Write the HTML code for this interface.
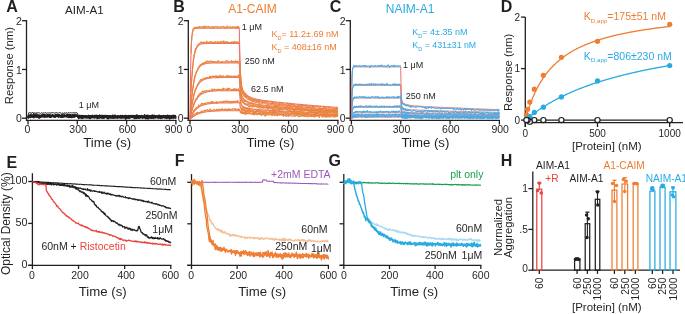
<!DOCTYPE html>
<html><head><meta charset="utf-8"><style>
html,body{margin:0;padding:0;background:#fff;}
body{width:685px;height:314px;overflow:hidden;}
svg{display:block;will-change:transform;font-family:'Liberation Sans',sans-serif;}
</style></head><body>
<svg width="685" height="314" viewBox="0 0 685 314" style="font-family:'Liberation Sans',sans-serif">
<rect width="685" height="314" fill="#fff"/>
<text x="6.20" y="12.10" font-size="16" fill="#231F20" text-anchor="start" font-weight="bold" >A</text>
<text x="173.30" y="12.10" font-size="16" fill="#231F20" text-anchor="start" font-weight="bold" >B</text>
<text x="329.80" y="12.10" font-size="16" fill="#231F20" text-anchor="start" font-weight="bold" >C</text>
<text x="500.80" y="12.10" font-size="16" fill="#231F20" text-anchor="start" font-weight="bold" >D</text>
<text x="6.60" y="167.90" font-size="16" fill="#231F20" text-anchor="start" font-weight="bold" >E</text>
<text x="174.70" y="166.20" font-size="16" fill="#231F20" text-anchor="start" font-weight="bold" >F</text>
<text x="328.40" y="166.20" font-size="16" fill="#231F20" text-anchor="start" font-weight="bold" >G</text>
<text x="500.80" y="166.20" font-size="16" fill="#231F20" text-anchor="start" font-weight="bold" >H</text>
<text x="65.00" y="13.60" font-size="11.6" fill="#231F20" text-anchor="start" font-weight="normal" >AIM-A1</text>
<text x="228.20" y="13.30" font-size="12" fill="#EF7D33" text-anchor="start" font-weight="normal" >A1-CAIM</text>
<text x="385.80" y="13.40" font-size="12" fill="#29ABE2" text-anchor="start" font-weight="normal" >NAIM-A1</text>
<line x1="26.50" y1="20.05" x2="26.50" y2="120.90" stroke="#231F20" stroke-width="1.3"/>
<line x1="22.00" y1="118.20" x2="26.50" y2="118.20" stroke="#231F20" stroke-width="1.3"/>
<text x="21.90" y="122.40" font-size="10.5" fill="#231F20" text-anchor="end" font-weight="normal" >0</text>
<line x1="22.00" y1="69.45" x2="26.50" y2="69.45" stroke="#231F20" stroke-width="1.3"/>
<text x="21.90" y="73.65" font-size="10.5" fill="#231F20" text-anchor="end" font-weight="normal" >1</text>
<line x1="22.00" y1="20.70" x2="26.50" y2="20.70" stroke="#231F20" stroke-width="1.3"/>
<text x="21.90" y="24.90" font-size="10.5" fill="#231F20" text-anchor="end" font-weight="normal" >2</text>
<line x1="25.90" y1="120.30" x2="176.50" y2="120.30" stroke="#231F20" stroke-width="1.3"/>
<line x1="28.00" y1="120.30" x2="28.00" y2="124.60" stroke="#231F20" stroke-width="1.3"/>
<text x="27.50" y="133.40" font-size="10.5" fill="#231F20" text-anchor="middle" font-weight="normal" >0</text>
<line x1="77.30" y1="120.30" x2="77.30" y2="124.60" stroke="#231F20" stroke-width="1.3"/>
<text x="78.10" y="133.40" font-size="10.5" fill="#231F20" text-anchor="middle" font-weight="normal" >300</text>
<line x1="126.60" y1="120.30" x2="126.60" y2="124.60" stroke="#231F20" stroke-width="1.3"/>
<text x="127.40" y="133.40" font-size="10.5" fill="#231F20" text-anchor="middle" font-weight="normal" >600</text>
<line x1="175.90" y1="120.30" x2="175.90" y2="124.60" stroke="#231F20" stroke-width="1.3"/>
<text x="173.50" y="133.40" font-size="10.5" fill="#231F20" text-anchor="middle" font-weight="normal" >900</text>
<text x="83.30" y="146.50" font-size="13.2" fill="#231F20" text-anchor="start" font-weight="normal" >Time (s)</text>
<line x1="188.30" y1="20.05" x2="188.30" y2="120.90" stroke="#231F20" stroke-width="1.3"/>
<line x1="183.80" y1="118.20" x2="188.30" y2="118.20" stroke="#231F20" stroke-width="1.3"/>
<text x="183.70" y="122.40" font-size="10.5" fill="#231F20" text-anchor="end" font-weight="normal" >0</text>
<line x1="183.80" y1="69.45" x2="188.30" y2="69.45" stroke="#231F20" stroke-width="1.3"/>
<text x="183.70" y="73.65" font-size="10.5" fill="#231F20" text-anchor="end" font-weight="normal" >1</text>
<line x1="183.80" y1="20.70" x2="188.30" y2="20.70" stroke="#231F20" stroke-width="1.3"/>
<text x="183.70" y="24.90" font-size="10.5" fill="#231F20" text-anchor="end" font-weight="normal" >2</text>
<line x1="187.70" y1="120.30" x2="338.50" y2="120.30" stroke="#231F20" stroke-width="1.3"/>
<line x1="190.00" y1="120.30" x2="190.00" y2="124.60" stroke="#231F20" stroke-width="1.3"/>
<text x="189.50" y="133.40" font-size="10.5" fill="#231F20" text-anchor="middle" font-weight="normal" >0</text>
<line x1="239.30" y1="120.30" x2="239.30" y2="124.60" stroke="#231F20" stroke-width="1.3"/>
<text x="240.10" y="133.40" font-size="10.5" fill="#231F20" text-anchor="middle" font-weight="normal" >300</text>
<line x1="288.60" y1="120.30" x2="288.60" y2="124.60" stroke="#231F20" stroke-width="1.3"/>
<text x="289.40" y="133.40" font-size="10.5" fill="#231F20" text-anchor="middle" font-weight="normal" >600</text>
<line x1="337.90" y1="120.30" x2="337.90" y2="124.60" stroke="#231F20" stroke-width="1.3"/>
<text x="335.50" y="133.40" font-size="10.5" fill="#231F20" text-anchor="middle" font-weight="normal" >900</text>
<text x="246.50" y="146.50" font-size="13.2" fill="#231F20" text-anchor="start" font-weight="normal" >Time (s)</text>
<line x1="350.30" y1="20.05" x2="350.30" y2="120.90" stroke="#231F20" stroke-width="1.3"/>
<line x1="345.80" y1="118.20" x2="350.30" y2="118.20" stroke="#231F20" stroke-width="1.3"/>
<text x="345.70" y="122.40" font-size="10.5" fill="#231F20" text-anchor="end" font-weight="normal" >0</text>
<line x1="345.80" y1="69.45" x2="350.30" y2="69.45" stroke="#231F20" stroke-width="1.3"/>
<text x="345.70" y="73.65" font-size="10.5" fill="#231F20" text-anchor="end" font-weight="normal" >1</text>
<line x1="345.80" y1="20.70" x2="350.30" y2="20.70" stroke="#231F20" stroke-width="1.3"/>
<text x="345.70" y="24.90" font-size="10.5" fill="#231F20" text-anchor="end" font-weight="normal" >2</text>
<line x1="349.70" y1="120.30" x2="500.00" y2="120.30" stroke="#231F20" stroke-width="1.3"/>
<line x1="351.40" y1="120.30" x2="351.40" y2="124.60" stroke="#231F20" stroke-width="1.3"/>
<text x="350.90" y="133.40" font-size="10.5" fill="#231F20" text-anchor="middle" font-weight="normal" >0</text>
<line x1="400.73" y1="120.30" x2="400.73" y2="124.60" stroke="#231F20" stroke-width="1.3"/>
<text x="401.53" y="133.40" font-size="10.5" fill="#231F20" text-anchor="middle" font-weight="normal" >300</text>
<line x1="450.07" y1="120.30" x2="450.07" y2="124.60" stroke="#231F20" stroke-width="1.3"/>
<text x="450.87" y="133.40" font-size="10.5" fill="#231F20" text-anchor="middle" font-weight="normal" >600</text>
<line x1="499.40" y1="120.30" x2="499.40" y2="124.60" stroke="#231F20" stroke-width="1.3"/>
<text x="500.20" y="133.40" font-size="10.5" fill="#231F20" text-anchor="middle" font-weight="normal" >900</text>
<text x="401.50" y="146.50" font-size="13.2" fill="#231F20" text-anchor="start" font-weight="normal" >Time (s)</text>
<text x="0" y="0" font-size="11.3" fill="#231F20" text-anchor="middle" transform="translate(12.80,65.60) rotate(-90)">Response (nm)</text>
<text x="0" y="0" font-size="11.3" fill="#231F20" text-anchor="middle" transform="translate(512.40,72.40) rotate(-90)">Response (nm)</text>
<path d="M190.0,119.4L190.2,99.2L190.4,83.5L190.6,71.3L190.8,61.8L191.0,54.4L191.2,48.6L191.4,44.1L191.6,40.6L191.8,37.8L192.1,35.7L192.3,34.1L192.5,32.8L192.7,31.8L192.9,31.0L193.1,30.4L193.3,29.9L193.5,29.5L193.7,29.3L193.9,29.0L194.1,28.9L194.3,28.7L194.5,28.6L194.7,28.5L194.9,28.5L195.3,28.4L195.7,28.3L196.2,28.3L196.6,28.3L197.0,28.3L197.4,28.2L197.8,28.2L198.2,28.2L198.6,28.2L199.0,28.2L199.4,28.2L199.8,28.2L200.2,28.2L200.6,28.2L201.0,28.2L201.4,28.2L201.9,28.2L202.3,28.2L202.7,28.2L203.1,28.2L203.5,28.2L203.9,28.2L204.3,28.2L204.7,28.2L205.1,28.2L205.5,28.2L205.9,28.2L206.3,28.2L206.7,28.2L207.1,28.2L207.5,28.2L208.0,28.2L208.4,28.2L208.8,28.2L209.2,28.2L209.6,28.2L210.0,28.2L210.4,28.2L210.8,28.2L211.2,28.2L211.6,28.2L212.0,28.2L212.4,28.2L212.8,28.2L213.2,28.2L213.7,28.2L214.1,28.2L214.5,28.2L214.9,28.2L215.3,28.2L215.7,28.2L216.1,28.2L216.5,28.2L216.9,28.2L217.3,28.2L217.7,28.2L218.1,28.2L218.5,28.2L218.9,28.2L219.4,28.2L219.8,28.2L220.2,28.2L220.6,28.2L221.0,28.2L221.4,28.2L221.8,28.2L222.2,28.2L222.6,28.2L223.0,28.2L223.4,28.2L223.8,28.2L224.2,28.2L224.6,28.2L225.1,28.2L225.5,28.2L225.9,28.2L226.3,28.2L226.7,28.2L227.1,28.2L227.5,28.2L227.9,28.2L228.3,28.2L228.7,28.2L229.1,28.2L229.5,28.2L229.9,28.2L230.3,28.2L230.8,28.2L231.2,28.2L231.6,28.2L232.0,28.2L232.4,28.2L232.8,28.2L233.2,28.2L233.6,28.2L234.0,28.2L234.4,28.2L234.8,28.2L235.2,28.2L235.6,28.2L236.0,28.2L236.5,28.2L236.9,28.2L237.3,28.2L237.7,28.2L238.1,28.2L238.5,28.2L238.9,28.2L239.3,28.2L239.5,40.6L239.8,51.7L240.0,60.3L240.2,66.9L240.4,72.0L240.7,76.0L240.9,79.1L241.1,81.6L241.3,83.5L241.6,85.1L241.8,86.4L242.0,87.4L242.2,88.3L242.5,89.0L242.7,89.7L242.9,90.2L243.2,90.7L243.4,91.1L243.6,91.5L243.8,91.9L244.1,92.2L244.3,92.5L244.5,92.8L244.7,93.1L245.0,93.3L245.2,93.6L245.4,93.8L245.6,94.0L245.9,94.2L246.5,94.7L247.0,95.2L247.6,95.6L248.2,96.0L248.8,96.3L249.3,96.6L249.9,96.9L250.5,97.2L251.1,97.5L251.7,97.7L252.2,97.9L252.8,98.1L253.4,98.3L254.0,98.5L254.6,98.7L255.1,98.8L255.7,99.0L256.3,99.1L256.9,99.2L257.4,99.4L258.0,99.5L258.6,99.6L259.2,99.7L259.8,99.8L260.3,99.9L260.9,100.0L261.5,100.1L262.1,100.2L262.7,100.3L263.2,100.4L263.8,100.5L264.4,100.6L265.0,100.6L265.6,100.7L266.1,100.8L266.7,100.9L267.3,101.0L267.9,101.0L268.4,101.1L269.0,101.2L269.6,101.3L270.2,101.3L270.8,101.4L271.3,101.5L271.9,101.5L272.5,101.6L273.1,101.7L273.7,101.7L274.2,101.8L274.8,101.9L275.4,101.9L276.0,102.0L276.5,102.1L277.1,102.1L277.7,102.2L278.3,102.3L278.9,102.3L279.4,102.4L280.0,102.4L280.6,102.5L281.2,102.6L281.8,102.6L282.3,102.7L282.9,102.7L283.5,102.8L284.1,102.9L284.7,102.9L285.2,103.0L285.8,103.0L286.4,103.1L287.0,103.2L287.5,103.2L288.1,103.3L288.7,103.3L289.3,103.4L289.9,103.4L290.4,103.5L291.0,103.6L291.6,103.6L292.2,103.7L292.8,103.7L293.3,103.8L293.9,103.8L294.5,103.9L295.1,104.0L295.6,104.0L296.2,104.1L296.8,104.1L297.4,104.2L298.0,104.2L298.5,104.3L299.1,104.3L299.7,104.4L300.3,104.4L300.9,104.5L301.4,104.5L302.0,104.6L302.6,104.6L303.2,104.7L303.8,104.8L304.3,104.8L304.9,104.9L305.5,104.9L306.1,105.0L306.6,105.0L307.2,105.1L307.8,105.1L308.4,105.2L309.0,105.2L309.5,105.3L310.1,105.3L310.7,105.4L311.3,105.4L311.9,105.5L312.4,105.5L313.0,105.5L313.6,105.6L314.2,105.6L314.7,105.7L315.3,105.7L315.9,105.8L316.5,105.8L317.1,105.9L317.6,105.9L318.2,106.0L318.8,106.0L319.4,106.1L320.0,106.1L320.5,106.2L321.1,106.2L321.7,106.3L322.3,106.3L322.9,106.3L323.4,106.4L324.0,106.4L324.6,106.5L325.2,106.5L325.7,106.6L326.3,106.6L326.9,106.7L327.5,106.7L328.1,106.7L328.6,106.8L329.2,106.8L329.8,106.9L330.4,106.9L331.0,107.0L331.5,107.0L332.1,107.0L332.7,107.1L333.3,107.1L333.8,107.2L334.4,107.2L335.0,107.2L335.6,107.3L336.2,107.3L336.7,107.4L337.3,107.4L337.9,107.5" fill="none" stroke="#F2716A" stroke-width="1.1" stroke-linejoin="round" />
<path d="M190.0,119.4L190.2,113.0L190.4,107.2L190.6,101.8L190.8,96.9L191.0,92.5L191.2,88.3L191.4,84.6L191.6,81.1L191.8,78.0L192.1,75.1L192.3,72.4L192.5,70.0L192.7,67.7L192.9,65.7L193.1,63.8L193.3,62.1L193.5,60.5L193.7,59.1L193.9,57.8L194.1,56.6L194.3,55.5L194.5,54.4L194.7,53.5L194.9,52.7L195.3,51.2L195.7,49.9L196.2,48.9L196.6,48.0L197.0,47.3L197.4,46.6L197.8,46.1L198.2,45.7L198.6,45.3L199.0,45.0L199.4,44.7L199.8,44.5L200.2,44.3L200.6,44.2L201.0,44.0L201.4,43.9L201.9,43.8L202.3,43.8L202.7,43.7L203.1,43.6L203.5,43.6L203.9,43.6L204.3,43.5L204.7,43.5L205.1,43.5L205.5,43.5L205.9,43.4L206.3,43.4L206.7,43.4L207.1,43.4L207.5,43.4L208.0,43.4L208.4,43.4L208.8,43.4L209.2,43.4L209.6,43.4L210.0,43.4L210.4,43.4L210.8,43.4L211.2,43.4L211.6,43.4L212.0,43.4L212.4,43.4L212.8,43.4L213.2,43.4L213.7,43.4L214.1,43.4L214.5,43.4L214.9,43.4L215.3,43.4L215.7,43.4L216.1,43.4L216.5,43.4L216.9,43.4L217.3,43.4L217.7,43.4L218.1,43.4L218.5,43.4L218.9,43.4L219.4,43.4L219.8,43.4L220.2,43.4L220.6,43.4L221.0,43.4L221.4,43.4L221.8,43.4L222.2,43.4L222.6,43.4L223.0,43.4L223.4,43.4L223.8,43.4L224.2,43.4L224.6,43.4L225.1,43.4L225.5,43.4L225.9,43.4L226.3,43.4L226.7,43.4L227.1,43.4L227.5,43.4L227.9,43.4L228.3,43.4L228.7,43.4L229.1,43.4L229.5,43.4L229.9,43.4L230.3,43.4L230.8,43.4L231.2,43.4L231.6,43.4L232.0,43.4L232.4,43.4L232.8,43.4L233.2,43.4L233.6,43.4L234.0,43.4L234.4,43.4L234.8,43.4L235.2,43.4L235.6,43.4L236.0,43.4L236.5,43.4L236.9,43.4L237.3,43.4L237.7,43.4L238.1,43.4L238.5,43.4L238.9,43.4L239.3,43.4L239.5,52.9L239.8,61.9L240.0,68.8L240.2,74.1L240.4,78.2L240.7,81.4L240.9,84.0L241.1,86.0L241.3,87.6L241.6,88.9L241.8,89.9L242.0,90.8L242.2,91.5L242.5,92.1L242.7,92.6L242.9,93.1L243.2,93.5L243.4,93.9L243.6,94.2L243.8,94.5L244.1,94.8L244.3,95.1L244.5,95.3L244.7,95.6L245.0,95.8L245.2,96.0L245.4,96.2L245.6,96.4L245.9,96.6L246.5,97.0L247.0,97.4L247.6,97.8L248.2,98.1L248.8,98.4L249.3,98.7L249.9,99.0L250.5,99.2L251.1,99.5L251.7,99.7L252.2,99.9L252.8,100.1L253.4,100.3L254.0,100.4L254.6,100.6L255.1,100.8L255.7,100.9L256.3,101.0L256.9,101.2L257.4,101.3L258.0,101.4L258.6,101.5L259.2,101.6L259.8,101.8L260.3,101.9L260.9,102.0L261.5,102.1L262.1,102.2L262.7,102.3L263.2,102.4L263.8,102.4L264.4,102.5L265.0,102.6L265.6,102.7L266.1,102.8L266.7,102.9L267.3,103.0L267.9,103.0L268.4,103.1L269.0,103.2L269.6,103.3L270.2,103.3L270.8,103.4L271.3,103.5L271.9,103.6L272.5,103.6L273.1,103.7L273.7,103.8L274.2,103.9L274.8,103.9L275.4,104.0L276.0,104.1L276.5,104.1L277.1,104.2L277.7,104.3L278.3,104.3L278.9,104.4L279.4,104.5L280.0,104.5L280.6,104.6L281.2,104.7L281.8,104.7L282.3,104.8L282.9,104.9L283.5,104.9L284.1,105.0L284.7,105.1L285.2,105.1L285.8,105.2L286.4,105.3L287.0,105.3L287.5,105.4L288.1,105.4L288.7,105.5L289.3,105.6L289.9,105.6L290.4,105.7L291.0,105.7L291.6,105.8L292.2,105.9L292.8,105.9L293.3,106.0L293.9,106.0L294.5,106.1L295.1,106.2L295.6,106.2L296.2,106.3L296.8,106.3L297.4,106.4L298.0,106.4L298.5,106.5L299.1,106.6L299.7,106.6L300.3,106.7L300.9,106.7L301.4,106.8L302.0,106.8L302.6,106.9L303.2,106.9L303.8,107.0L304.3,107.0L304.9,107.1L305.5,107.1L306.1,107.2L306.6,107.2L307.2,107.3L307.8,107.4L308.4,107.4L309.0,107.5L309.5,107.5L310.1,107.6L310.7,107.6L311.3,107.7L311.9,107.7L312.4,107.8L313.0,107.8L313.6,107.9L314.2,107.9L314.7,107.9L315.3,108.0L315.9,108.0L316.5,108.1L317.1,108.1L317.6,108.2L318.2,108.2L318.8,108.3L319.4,108.3L320.0,108.4L320.5,108.4L321.1,108.5L321.7,108.5L322.3,108.6L322.9,108.6L323.4,108.6L324.0,108.7L324.6,108.7L325.2,108.8L325.7,108.8L326.3,108.9L326.9,108.9L327.5,109.0L328.1,109.0L328.6,109.0L329.2,109.1L329.8,109.1L330.4,109.2L331.0,109.2L331.5,109.3L332.1,109.3L332.7,109.3L333.3,109.4L333.8,109.4L334.4,109.5L335.0,109.5L335.6,109.5L336.2,109.6L336.7,109.6L337.3,109.7L337.9,109.7" fill="none" stroke="#F2716A" stroke-width="1.1" stroke-linejoin="round" />
<path d="M190.0,119.4L190.2,116.3L190.4,113.4L190.6,110.6L190.8,108.0L191.0,105.5L191.2,103.2L191.4,101.0L191.6,98.9L191.8,96.9L192.1,95.1L192.3,93.3L192.5,91.6L192.7,90.1L192.9,88.6L193.1,87.2L193.3,85.8L193.5,84.6L193.7,83.4L193.9,82.3L194.1,81.2L194.3,80.2L194.5,79.3L194.7,78.4L194.9,77.5L195.3,76.0L195.7,74.6L196.2,73.3L196.6,72.2L197.0,71.2L197.4,70.4L197.8,69.6L198.2,68.9L198.6,68.2L199.0,67.7L199.4,67.2L199.8,66.7L200.2,66.3L200.6,65.9L201.0,65.6L201.4,65.3L201.9,65.1L202.3,64.8L202.7,64.6L203.1,64.4L203.5,64.3L203.9,64.1L204.3,64.0L204.7,63.9L205.1,63.8L205.5,63.7L205.9,63.6L206.3,63.5L206.7,63.4L207.1,63.4L207.5,63.3L208.0,63.3L208.4,63.2L208.8,63.2L209.2,63.1L209.6,63.1L210.0,63.1L210.4,63.1L210.8,63.0L211.2,63.0L211.6,63.0L212.0,63.0L212.4,63.0L212.8,63.0L213.2,62.9L213.7,62.9L214.1,62.9L214.5,62.9L214.9,62.9L215.3,62.9L215.7,62.9L216.1,62.9L216.5,62.9L216.9,62.9L217.3,62.9L217.7,62.9L218.1,62.9L218.5,62.9L218.9,62.9L219.4,62.9L219.8,62.9L220.2,62.9L220.6,62.9L221.0,62.9L221.4,62.9L221.8,62.9L222.2,62.9L222.6,62.9L223.0,62.9L223.4,62.9L223.8,62.9L224.2,62.9L224.6,62.9L225.1,62.9L225.5,62.9L225.9,62.9L226.3,62.9L226.7,62.9L227.1,62.9L227.5,62.9L227.9,62.9L228.3,62.9L228.7,62.9L229.1,62.9L229.5,62.9L229.9,62.9L230.3,62.9L230.8,62.9L231.2,62.9L231.6,62.9L232.0,62.9L232.4,62.9L232.8,62.9L233.2,62.9L233.6,62.9L234.0,62.9L234.4,62.9L234.8,62.9L235.2,62.9L235.6,62.9L236.0,62.9L236.5,62.9L236.9,62.9L237.3,62.9L237.7,62.9L238.1,62.9L238.5,62.9L238.9,62.9L239.3,62.9L239.5,69.1L239.8,75.5L240.0,80.5L240.2,84.3L240.4,87.3L240.7,89.6L240.9,91.4L241.1,92.9L241.3,94.0L241.6,95.0L241.8,95.7L242.0,96.4L242.2,96.9L242.5,97.3L242.7,97.7L242.9,98.1L243.2,98.4L243.4,98.7L243.6,98.9L243.8,99.1L244.1,99.3L244.3,99.5L244.5,99.7L244.7,99.9L245.0,100.1L245.2,100.2L245.4,100.4L245.6,100.5L245.9,100.7L246.5,101.0L247.0,101.3L247.6,101.6L248.2,101.8L248.8,102.1L249.3,102.3L249.9,102.5L250.5,102.7L251.1,102.9L251.7,103.0L252.2,103.2L252.8,103.4L253.4,103.5L254.0,103.6L254.6,103.7L255.1,103.9L255.7,104.0L256.3,104.1L256.9,104.2L257.4,104.3L258.0,104.4L258.6,104.5L259.2,104.6L259.8,104.7L260.3,104.7L260.9,104.8L261.5,104.9L262.1,105.0L262.7,105.1L263.2,105.1L263.8,105.2L264.4,105.3L265.0,105.3L265.6,105.4L266.1,105.5L266.7,105.5L267.3,105.6L267.9,105.7L268.4,105.7L269.0,105.8L269.6,105.9L270.2,105.9L270.8,106.0L271.3,106.0L271.9,106.1L272.5,106.2L273.1,106.2L273.7,106.3L274.2,106.3L274.8,106.4L275.4,106.5L276.0,106.5L276.5,106.6L277.1,106.6L277.7,106.7L278.3,106.7L278.9,106.8L279.4,106.8L280.0,106.9L280.6,107.0L281.2,107.0L281.8,107.1L282.3,107.1L282.9,107.2L283.5,107.2L284.1,107.3L284.7,107.3L285.2,107.4L285.8,107.4L286.4,107.5L287.0,107.5L287.5,107.6L288.1,107.6L288.7,107.7L289.3,107.7L289.9,107.8L290.4,107.8L291.0,107.9L291.6,107.9L292.2,108.0L292.8,108.0L293.3,108.1L293.9,108.1L294.5,108.2L295.1,108.2L295.6,108.3L296.2,108.3L296.8,108.3L297.4,108.4L298.0,108.4L298.5,108.5L299.1,108.5L299.7,108.6L300.3,108.6L300.9,108.7L301.4,108.7L302.0,108.7L302.6,108.8L303.2,108.8L303.8,108.9L304.3,108.9L304.9,109.0L305.5,109.0L306.1,109.0L306.6,109.1L307.2,109.1L307.8,109.2L308.4,109.2L309.0,109.3L309.5,109.3L310.1,109.3L310.7,109.4L311.3,109.4L311.9,109.5L312.4,109.5L313.0,109.5L313.6,109.6L314.2,109.6L314.7,109.7L315.3,109.7L315.9,109.7L316.5,109.8L317.1,109.8L317.6,109.9L318.2,109.9L318.8,109.9L319.4,110.0L320.0,110.0L320.5,110.0L321.1,110.1L321.7,110.1L322.3,110.2L322.9,110.2L323.4,110.2L324.0,110.3L324.6,110.3L325.2,110.3L325.7,110.4L326.3,110.4L326.9,110.4L327.5,110.5L328.1,110.5L328.6,110.5L329.2,110.6L329.8,110.6L330.4,110.7L331.0,110.7L331.5,110.7L332.1,110.8L332.7,110.8L333.3,110.8L333.8,110.9L334.4,110.9L335.0,110.9L335.6,111.0L336.2,111.0L336.7,111.0L337.3,111.0L337.9,111.1" fill="none" stroke="#F2716A" stroke-width="1.1" stroke-linejoin="round" />
<path d="M190.0,119.4L190.2,117.6L190.4,115.9L190.6,114.2L190.8,112.7L191.0,111.2L191.2,109.7L191.4,108.3L191.6,107.0L191.8,105.8L192.1,104.5L192.3,103.4L192.5,102.3L192.7,101.2L192.9,100.2L193.1,99.2L193.3,98.3L193.5,97.4L193.7,96.6L193.9,95.7L194.1,95.0L194.3,94.2L194.5,93.5L194.7,92.8L194.9,92.1L195.3,90.9L195.7,89.8L196.2,88.8L196.6,87.8L197.0,87.0L197.4,86.2L197.8,85.5L198.2,84.8L198.6,84.2L199.0,83.6L199.4,83.1L199.8,82.7L200.2,82.2L200.6,81.8L201.0,81.5L201.4,81.1L201.9,80.8L202.3,80.6L202.7,80.3L203.1,80.1L203.5,79.9L203.9,79.7L204.3,79.5L204.7,79.3L205.1,79.2L205.5,79.0L205.9,78.9L206.3,78.8L206.7,78.7L207.1,78.6L207.5,78.5L208.0,78.4L208.4,78.3L208.8,78.2L209.2,78.2L209.6,78.1L210.0,78.1L210.4,78.0L210.8,78.0L211.2,77.9L211.6,77.9L212.0,77.9L212.4,77.8L212.8,77.8L213.2,77.8L213.7,77.7L214.1,77.7L214.5,77.7L214.9,77.7L215.3,77.7L215.7,77.7L216.1,77.6L216.5,77.6L216.9,77.6L217.3,77.6L217.7,77.6L218.1,77.6L218.5,77.6L218.9,77.6L219.4,77.6L219.8,77.5L220.2,77.5L220.6,77.5L221.0,77.5L221.4,77.5L221.8,77.5L222.2,77.5L222.6,77.5L223.0,77.5L223.4,77.5L223.8,77.5L224.2,77.5L224.6,77.5L225.1,77.5L225.5,77.5L225.9,77.5L226.3,77.5L226.7,77.5L227.1,77.5L227.5,77.5L227.9,77.5L228.3,77.5L228.7,77.5L229.1,77.5L229.5,77.5L229.9,77.5L230.3,77.5L230.8,77.5L231.2,77.5L231.6,77.5L232.0,77.5L232.4,77.5L232.8,77.5L233.2,77.5L233.6,77.5L234.0,77.5L234.4,77.5L234.8,77.5L235.2,77.5L235.6,77.5L236.0,77.5L236.5,77.5L236.9,77.5L237.3,77.5L237.7,77.5L238.1,77.5L238.5,77.5L238.9,77.5L239.3,77.5L239.5,81.3L239.8,85.8L240.0,89.3L240.2,92.0L240.4,94.1L240.7,95.7L240.9,97.0L241.1,98.0L241.3,98.8L241.6,99.5L241.8,100.1L242.0,100.5L242.2,100.9L242.5,101.2L242.7,101.5L242.9,101.7L243.2,102.0L243.4,102.2L243.6,102.4L243.8,102.5L244.1,102.7L244.3,102.8L244.5,103.0L244.7,103.1L245.0,103.2L245.2,103.3L245.4,103.4L245.6,103.6L245.9,103.7L246.5,103.9L247.0,104.1L247.6,104.4L248.2,104.5L248.8,104.7L249.3,104.9L249.9,105.0L250.5,105.2L251.1,105.3L251.7,105.5L252.2,105.6L252.8,105.7L253.4,105.8L254.0,105.9L254.6,106.0L255.1,106.1L255.7,106.2L256.3,106.3L256.9,106.3L257.4,106.4L258.0,106.5L258.6,106.6L259.2,106.6L259.8,106.7L260.3,106.8L260.9,106.8L261.5,106.9L262.1,106.9L262.7,107.0L263.2,107.1L263.8,107.1L264.4,107.2L265.0,107.2L265.6,107.3L266.1,107.3L266.7,107.4L267.3,107.4L267.9,107.5L268.4,107.5L269.0,107.6L269.6,107.6L270.2,107.7L270.8,107.7L271.3,107.8L271.9,107.8L272.5,107.9L273.1,107.9L273.7,108.0L274.2,108.0L274.8,108.1L275.4,108.1L276.0,108.2L276.5,108.2L277.1,108.2L277.7,108.3L278.3,108.3L278.9,108.4L279.4,108.4L280.0,108.5L280.6,108.5L281.2,108.6L281.8,108.6L282.3,108.6L282.9,108.7L283.5,108.7L284.1,108.8L284.7,108.8L285.2,108.8L285.8,108.9L286.4,108.9L287.0,109.0L287.5,109.0L288.1,109.0L288.7,109.1L289.3,109.1L289.9,109.2L290.4,109.2L291.0,109.2L291.6,109.3L292.2,109.3L292.8,109.4L293.3,109.4L293.9,109.4L294.5,109.5L295.1,109.5L295.6,109.5L296.2,109.6L296.8,109.6L297.4,109.7L298.0,109.7L298.5,109.7L299.1,109.8L299.7,109.8L300.3,109.8L300.9,109.9L301.4,109.9L302.0,109.9L302.6,110.0L303.2,110.0L303.8,110.1L304.3,110.1L304.9,110.1L305.5,110.2L306.1,110.2L306.6,110.2L307.2,110.3L307.8,110.3L308.4,110.3L309.0,110.4L309.5,110.4L310.1,110.4L310.7,110.5L311.3,110.5L311.9,110.5L312.4,110.6L313.0,110.6L313.6,110.6L314.2,110.7L314.7,110.7L315.3,110.7L315.9,110.8L316.5,110.8L317.1,110.8L317.6,110.8L318.2,110.9L318.8,110.9L319.4,110.9L320.0,111.0L320.5,111.0L321.1,111.0L321.7,111.1L322.3,111.1L322.9,111.1L323.4,111.2L324.0,111.2L324.6,111.2L325.2,111.2L325.7,111.3L326.3,111.3L326.9,111.3L327.5,111.4L328.1,111.4L328.6,111.4L329.2,111.4L329.8,111.5L330.4,111.5L331.0,111.5L331.5,111.6L332.1,111.6L332.7,111.6L333.3,111.6L333.8,111.7L334.4,111.7L335.0,111.7L335.6,111.7L336.2,111.8L336.7,111.8L337.3,111.8L337.9,111.8" fill="none" stroke="#F2716A" stroke-width="1.1" stroke-linejoin="round" />
<path d="M190.0,119.4L190.2,118.3L190.4,117.3L190.6,116.3L190.8,115.4L191.0,114.5L191.2,113.6L191.4,112.8L191.6,111.9L191.8,111.2L192.1,110.4L192.3,109.7L192.5,109.0L192.7,108.3L192.9,107.7L193.1,107.0L193.3,106.4L193.5,105.8L193.7,105.3L193.9,104.7L194.1,104.2L194.3,103.7L194.5,103.2L194.7,102.8L194.9,102.3L195.3,101.5L195.7,100.7L196.2,100.0L196.6,99.3L197.0,98.7L197.4,98.1L197.8,97.6L198.2,97.1L198.6,96.6L199.0,96.2L199.4,95.8L199.8,95.4L200.2,95.1L200.6,94.8L201.0,94.5L201.4,94.2L201.9,93.9L202.3,93.7L202.7,93.5L203.1,93.3L203.5,93.1L203.9,92.9L204.3,92.8L204.7,92.6L205.1,92.5L205.5,92.3L205.9,92.2L206.3,92.1L206.7,92.0L207.1,91.9L207.5,91.8L208.0,91.7L208.4,91.6L208.8,91.6L209.2,91.5L209.6,91.4L210.0,91.4L210.4,91.3L210.8,91.3L211.2,91.2L211.6,91.2L212.0,91.2L212.4,91.1L212.8,91.1L213.2,91.1L213.7,91.0L214.1,91.0L214.5,91.0L214.9,90.9L215.3,90.9L215.7,90.9L216.1,90.9L216.5,90.9L216.9,90.8L217.3,90.8L217.7,90.8L218.1,90.8L218.5,90.8L218.9,90.8L219.4,90.8L219.8,90.8L220.2,90.8L220.6,90.7L221.0,90.7L221.4,90.7L221.8,90.7L222.2,90.7L222.6,90.7L223.0,90.7L223.4,90.7L223.8,90.7L224.2,90.7L224.6,90.7L225.1,90.7L225.5,90.7L225.9,90.7L226.3,90.7L226.7,90.7L227.1,90.7L227.5,90.7L227.9,90.7L228.3,90.7L228.7,90.7L229.1,90.7L229.5,90.7L229.9,90.7L230.3,90.7L230.8,90.7L231.2,90.7L231.6,90.7L232.0,90.7L232.4,90.7L232.8,90.6L233.2,90.6L233.6,90.6L234.0,90.6L234.4,90.6L234.8,90.6L235.2,90.6L235.6,90.6L236.0,90.6L236.5,90.6L236.9,90.6L237.3,90.6L237.7,90.6L238.1,90.6L238.5,90.6L238.9,90.6L239.3,90.6L239.5,92.5L239.8,95.6L240.0,97.9L240.2,99.7L240.4,101.2L240.7,102.3L240.9,103.1L241.1,103.8L241.3,104.4L241.6,104.8L241.8,105.2L242.0,105.5L242.2,105.8L242.5,106.0L242.7,106.2L242.9,106.4L243.2,106.5L243.4,106.6L243.6,106.8L243.8,106.9L244.1,107.0L244.3,107.1L244.5,107.2L244.7,107.3L245.0,107.4L245.2,107.4L245.4,107.5L245.6,107.6L245.9,107.7L246.5,107.8L247.0,108.0L247.6,108.1L248.2,108.3L248.8,108.4L249.3,108.5L249.9,108.6L250.5,108.7L251.1,108.8L251.7,108.9L252.2,109.0L252.8,109.1L253.4,109.1L254.0,109.2L254.6,109.3L255.1,109.3L255.7,109.4L256.3,109.4L256.9,109.5L257.4,109.5L258.0,109.6L258.6,109.6L259.2,109.7L259.8,109.7L260.3,109.8L260.9,109.8L261.5,109.9L262.1,109.9L262.7,109.9L263.2,110.0L263.8,110.0L264.4,110.1L265.0,110.1L265.6,110.1L266.1,110.2L266.7,110.2L267.3,110.2L267.9,110.3L268.4,110.3L269.0,110.3L269.6,110.4L270.2,110.4L270.8,110.4L271.3,110.5L271.9,110.5L272.5,110.5L273.1,110.6L273.7,110.6L274.2,110.6L274.8,110.7L275.4,110.7L276.0,110.7L276.5,110.8L277.1,110.8L277.7,110.8L278.3,110.8L278.9,110.9L279.4,110.9L280.0,110.9L280.6,111.0L281.2,111.0L281.8,111.0L282.3,111.1L282.9,111.1L283.5,111.1L284.1,111.1L284.7,111.2L285.2,111.2L285.8,111.2L286.4,111.3L287.0,111.3L287.5,111.3L288.1,111.3L288.7,111.4L289.3,111.4L289.9,111.4L290.4,111.4L291.0,111.5L291.6,111.5L292.2,111.5L292.8,111.5L293.3,111.6L293.9,111.6L294.5,111.6L295.1,111.7L295.6,111.7L296.2,111.7L296.8,111.7L297.4,111.8L298.0,111.8L298.5,111.8L299.1,111.8L299.7,111.9L300.3,111.9L300.9,111.9L301.4,111.9L302.0,112.0L302.6,112.0L303.2,112.0L303.8,112.0L304.3,112.1L304.9,112.1L305.5,112.1L306.1,112.1L306.6,112.1L307.2,112.2L307.8,112.2L308.4,112.2L309.0,112.2L309.5,112.3L310.1,112.3L310.7,112.3L311.3,112.3L311.9,112.4L312.4,112.4L313.0,112.4L313.6,112.4L314.2,112.4L314.7,112.5L315.3,112.5L315.9,112.5L316.5,112.5L317.1,112.6L317.6,112.6L318.2,112.6L318.8,112.6L319.4,112.6L320.0,112.7L320.5,112.7L321.1,112.7L321.7,112.7L322.3,112.7L322.9,112.8L323.4,112.8L324.0,112.8L324.6,112.8L325.2,112.8L325.7,112.9L326.3,112.9L326.9,112.9L327.5,112.9L328.1,112.9L328.6,113.0L329.2,113.0L329.8,113.0L330.4,113.0L331.0,113.0L331.5,113.1L332.1,113.1L332.7,113.1L333.3,113.1L333.8,113.1L334.4,113.2L335.0,113.2L335.6,113.2L336.2,113.2L336.7,113.2L337.3,113.3L337.9,113.3" fill="none" stroke="#F2716A" stroke-width="1.1" stroke-linejoin="round" />
<path d="M190.0,119.4L190.2,118.9L190.4,118.4L190.6,117.9L190.8,117.5L191.0,117.0L191.2,116.6L191.4,116.1L191.6,115.7L191.8,115.3L192.1,115.0L192.3,114.6L192.5,114.2L192.7,113.9L192.9,113.5L193.1,113.2L193.3,112.9L193.5,112.6L193.7,112.3L193.9,112.0L194.1,111.7L194.3,111.4L194.5,111.2L194.7,110.9L194.9,110.7L195.3,110.2L195.7,109.7L196.2,109.3L196.6,108.9L197.0,108.6L197.4,108.2L197.8,107.9L198.2,107.6L198.6,107.3L199.0,107.0L199.4,106.8L199.8,106.5L200.2,106.3L200.6,106.1L201.0,105.9L201.4,105.7L201.9,105.6L202.3,105.4L202.7,105.2L203.1,105.1L203.5,105.0L203.9,104.8L204.3,104.7L204.7,104.6L205.1,104.5L205.5,104.4L205.9,104.3L206.3,104.2L206.7,104.1L207.1,104.0L207.5,104.0L208.0,103.9L208.4,103.8L208.8,103.8L209.2,103.7L209.6,103.7L210.0,103.6L210.4,103.6L210.8,103.5L211.2,103.5L211.6,103.4L212.0,103.4L212.4,103.4L212.8,103.3L213.2,103.3L213.7,103.3L214.1,103.3L214.5,103.2L214.9,103.2L215.3,103.2L215.7,103.2L216.1,103.1L216.5,103.1L216.9,103.1L217.3,103.1L217.7,103.1L218.1,103.1L218.5,103.0L218.9,103.0L219.4,103.0L219.8,103.0L220.2,103.0L220.6,103.0L221.0,103.0L221.4,103.0L221.8,103.0L222.2,102.9L222.6,102.9L223.0,102.9L223.4,102.9L223.8,102.9L224.2,102.9L224.6,102.9L225.1,102.9L225.5,102.9L225.9,102.9L226.3,102.9L226.7,102.9L227.1,102.9L227.5,102.9L227.9,102.9L228.3,102.9L228.7,102.9L229.1,102.9L229.5,102.9L229.9,102.9L230.3,102.9L230.8,102.9L231.2,102.9L231.6,102.9L232.0,102.9L232.4,102.9L232.8,102.8L233.2,102.8L233.6,102.8L234.0,102.8L234.4,102.8L234.8,102.8L235.2,102.8L235.6,102.8L236.0,102.8L236.5,102.8L236.9,102.8L237.3,102.8L237.7,102.8L238.1,102.8L238.5,102.8L238.9,102.8L239.3,102.8L239.5,102.6L239.8,104.1L240.0,105.2L240.2,106.1L240.4,106.7L240.7,107.3L240.9,107.7L241.1,108.1L241.3,108.3L241.6,108.6L241.8,108.8L242.0,108.9L242.2,109.1L242.5,109.2L242.7,109.3L242.9,109.4L243.2,109.5L243.4,109.6L243.6,109.6L243.8,109.7L244.1,109.8L244.3,109.8L244.5,109.9L244.7,109.9L245.0,110.0L245.2,110.1L245.4,110.1L245.6,110.2L245.9,110.2L246.5,110.3L247.0,110.4L247.6,110.5L248.2,110.6L248.8,110.7L249.3,110.8L249.9,110.9L250.5,110.9L251.1,111.0L251.7,111.1L252.2,111.1L252.8,111.2L253.4,111.2L254.0,111.3L254.6,111.3L255.1,111.4L255.7,111.4L256.3,111.5L256.9,111.5L257.4,111.6L258.0,111.6L258.6,111.7L259.2,111.7L259.8,111.7L260.3,111.8L260.9,111.8L261.5,111.8L262.1,111.9L262.7,111.9L263.2,112.0L263.8,112.0L264.4,112.0L265.0,112.1L265.6,112.1L266.1,112.1L266.7,112.2L267.3,112.2L267.9,112.2L268.4,112.2L269.0,112.3L269.6,112.3L270.2,112.3L270.8,112.4L271.3,112.4L271.9,112.4L272.5,112.5L273.1,112.5L273.7,112.5L274.2,112.5L274.8,112.6L275.4,112.6L276.0,112.6L276.5,112.7L277.1,112.7L277.7,112.7L278.3,112.7L278.9,112.8L279.4,112.8L280.0,112.8L280.6,112.8L281.2,112.9L281.8,112.9L282.3,112.9L282.9,112.9L283.5,113.0L284.1,113.0L284.7,113.0L285.2,113.0L285.8,113.1L286.4,113.1L287.0,113.1L287.5,113.1L288.1,113.2L288.7,113.2L289.3,113.2L289.9,113.2L290.4,113.3L291.0,113.3L291.6,113.3L292.2,113.3L292.8,113.4L293.3,113.4L293.9,113.4L294.5,113.4L295.1,113.5L295.6,113.5L296.2,113.5L296.8,113.5L297.4,113.5L298.0,113.6L298.5,113.6L299.1,113.6L299.7,113.6L300.3,113.7L300.9,113.7L301.4,113.7L302.0,113.7L302.6,113.7L303.2,113.8L303.8,113.8L304.3,113.8L304.9,113.8L305.5,113.8L306.1,113.9L306.6,113.9L307.2,113.9L307.8,113.9L308.4,113.9L309.0,114.0L309.5,114.0L310.1,114.0L310.7,114.0L311.3,114.0L311.9,114.1L312.4,114.1L313.0,114.1L313.6,114.1L314.2,114.1L314.7,114.2L315.3,114.2L315.9,114.2L316.5,114.2L317.1,114.2L317.6,114.2L318.2,114.3L318.8,114.3L319.4,114.3L320.0,114.3L320.5,114.3L321.1,114.4L321.7,114.4L322.3,114.4L322.9,114.4L323.4,114.4L324.0,114.4L324.6,114.5L325.2,114.5L325.7,114.5L326.3,114.5L326.9,114.5L327.5,114.5L328.1,114.6L328.6,114.6L329.2,114.6L329.8,114.6L330.4,114.6L331.0,114.6L331.5,114.6L332.1,114.7L332.7,114.7L333.3,114.7L333.8,114.7L334.4,114.7L335.0,114.7L335.6,114.8L336.2,114.8L336.7,114.8L337.3,114.8L337.9,114.8" fill="none" stroke="#F2716A" stroke-width="1.1" stroke-linejoin="round" />
<path d="M190.0,119.4L190.2,119.2L190.4,119.0L190.6,118.8L190.8,118.6L191.0,118.4L191.2,118.2L191.4,118.0L191.6,117.8L191.8,117.6L192.1,117.5L192.3,117.3L192.5,117.1L192.7,117.0L192.9,116.8L193.1,116.7L193.3,116.5L193.5,116.4L193.7,116.2L193.9,116.1L194.1,115.9L194.3,115.8L194.5,115.7L194.7,115.6L194.9,115.4L195.3,115.2L195.7,115.0L196.2,114.8L196.6,114.6L197.0,114.4L197.4,114.2L197.8,114.0L198.2,113.9L198.6,113.7L199.0,113.6L199.4,113.4L199.8,113.3L200.2,113.2L200.6,113.0L201.0,112.9L201.4,112.8L201.9,112.7L202.3,112.6L202.7,112.5L203.1,112.4L203.5,112.3L203.9,112.2L204.3,112.2L204.7,112.1L205.1,112.0L205.5,112.0L205.9,111.9L206.3,111.8L206.7,111.8L207.1,111.7L207.5,111.7L208.0,111.6L208.4,111.6L208.8,111.5L209.2,111.5L209.6,111.4L210.0,111.4L210.4,111.4L210.8,111.3L211.2,111.3L211.6,111.3L212.0,111.2L212.4,111.2L212.8,111.2L213.2,111.1L213.7,111.1L214.1,111.1L214.5,111.1L214.9,111.1L215.3,111.0L215.7,111.0L216.1,111.0L216.5,111.0L216.9,111.0L217.3,110.9L217.7,110.9L218.1,110.9L218.5,110.9L218.9,110.9L219.4,110.9L219.8,110.9L220.2,110.8L220.6,110.8L221.0,110.8L221.4,110.8L221.8,110.8L222.2,110.8L222.6,110.8L223.0,110.8L223.4,110.8L223.8,110.8L224.2,110.8L224.6,110.8L225.1,110.7L225.5,110.7L225.9,110.7L226.3,110.7L226.7,110.7L227.1,110.7L227.5,110.7L227.9,110.7L228.3,110.7L228.7,110.7L229.1,110.7L229.5,110.7L229.9,110.7L230.3,110.7L230.8,110.7L231.2,110.7L231.6,110.7L232.0,110.7L232.4,110.7L232.8,110.7L233.2,110.7L233.6,110.7L234.0,110.7L234.4,110.7L234.8,110.7L235.2,110.7L235.6,110.7L236.0,110.7L236.5,110.7L236.9,110.7L237.3,110.7L237.7,110.7L238.1,110.7L238.5,110.6L238.9,110.6L239.3,110.6L239.5,109.3L239.8,109.9L240.0,110.3L240.2,110.7L240.4,111.0L240.7,111.2L240.9,111.4L241.1,111.5L241.3,111.7L241.6,111.8L241.8,111.9L242.0,111.9L242.2,112.0L242.5,112.1L242.7,112.1L242.9,112.2L243.2,112.2L243.4,112.3L243.6,112.3L243.8,112.4L244.1,112.4L244.3,112.4L244.5,112.5L244.7,112.5L245.0,112.5L245.2,112.6L245.4,112.6L245.6,112.6L245.9,112.6L246.5,112.7L247.0,112.8L247.6,112.8L248.2,112.9L248.8,112.9L249.3,113.0L249.9,113.0L250.5,113.1L251.1,113.1L251.7,113.2L252.2,113.2L252.8,113.3L253.4,113.3L254.0,113.3L254.6,113.4L255.1,113.4L255.7,113.4L256.3,113.5L256.9,113.5L257.4,113.5L258.0,113.5L258.6,113.6L259.2,113.6L259.8,113.6L260.3,113.7L260.9,113.7L261.5,113.7L262.1,113.7L262.7,113.8L263.2,113.8L263.8,113.8L264.4,113.8L265.0,113.9L265.6,113.9L266.1,113.9L266.7,113.9L267.3,114.0L267.9,114.0L268.4,114.0L269.0,114.0L269.6,114.0L270.2,114.1L270.8,114.1L271.3,114.1L271.9,114.1L272.5,114.2L273.1,114.2L273.7,114.2L274.2,114.2L274.8,114.2L275.4,114.3L276.0,114.3L276.5,114.3L277.1,114.3L277.7,114.3L278.3,114.4L278.9,114.4L279.4,114.4L280.0,114.4L280.6,114.4L281.2,114.5L281.8,114.5L282.3,114.5L282.9,114.5L283.5,114.5L284.1,114.5L284.7,114.6L285.2,114.6L285.8,114.6L286.4,114.6L287.0,114.6L287.5,114.7L288.1,114.7L288.7,114.7L289.3,114.7L289.9,114.7L290.4,114.7L291.0,114.8L291.6,114.8L292.2,114.8L292.8,114.8L293.3,114.8L293.9,114.8L294.5,114.9L295.1,114.9L295.6,114.9L296.2,114.9L296.8,114.9L297.4,114.9L298.0,115.0L298.5,115.0L299.1,115.0L299.7,115.0L300.3,115.0L300.9,115.0L301.4,115.0L302.0,115.1L302.6,115.1L303.2,115.1L303.8,115.1L304.3,115.1L304.9,115.1L305.5,115.1L306.1,115.2L306.6,115.2L307.2,115.2L307.8,115.2L308.4,115.2L309.0,115.2L309.5,115.2L310.1,115.3L310.7,115.3L311.3,115.3L311.9,115.3L312.4,115.3L313.0,115.3L313.6,115.3L314.2,115.3L314.7,115.4L315.3,115.4L315.9,115.4L316.5,115.4L317.1,115.4L317.6,115.4L318.2,115.4L318.8,115.4L319.4,115.5L320.0,115.5L320.5,115.5L321.1,115.5L321.7,115.5L322.3,115.5L322.9,115.5L323.4,115.5L324.0,115.6L324.6,115.6L325.2,115.6L325.7,115.6L326.3,115.6L326.9,115.6L327.5,115.6L328.1,115.6L328.6,115.6L329.2,115.7L329.8,115.7L330.4,115.7L331.0,115.7L331.5,115.7L332.1,115.7L332.7,115.7L333.3,115.7L333.8,115.7L334.4,115.8L335.0,115.8L335.6,115.8L336.2,115.8L336.7,115.8L337.3,115.8L337.9,115.8" fill="none" stroke="#F2716A" stroke-width="1.1" stroke-linejoin="round" />
<path d="M191.0,53.7L191.2,47.3L191.4,42.2L191.6,39.6L191.8,37.0L192.1,34.3L192.3,32.7L192.5,31.5L192.7,31.1L192.9,29.8L193.1,28.8L193.3,29.4L193.5,28.6L193.7,29.1L193.9,28.5L194.1,28.6L194.3,27.6L194.5,28.1L194.7,27.2L194.9,27.2L195.3,27.3L195.7,28.5L196.2,27.4L196.6,27.1L197.0,27.0L197.4,27.9L197.8,27.3L198.2,27.6L198.6,27.5L199.0,26.5L199.4,27.5L199.8,27.1L200.2,26.6L200.6,27.4L201.0,27.1L201.4,27.0L201.9,27.0L202.3,27.7L202.7,27.0L203.1,26.3L203.5,27.9L203.9,26.6L204.3,27.0L204.7,27.4L205.1,26.0L205.5,26.6L205.9,27.7L206.3,27.0L206.7,26.7L207.1,27.1L207.5,26.7L208.0,27.1L208.4,26.7L208.8,26.3L209.2,27.4L209.6,26.9L210.0,27.3L210.4,27.0L210.8,27.7L211.2,27.3L211.6,27.1L212.0,26.6L212.4,26.4L212.8,27.7L213.2,27.5L213.7,26.7L214.1,28.1L214.5,27.3L214.9,27.1L215.3,26.4L215.7,26.7L216.1,27.2L216.5,27.2L216.9,27.2L217.3,26.2L217.7,27.3L218.1,27.2L218.5,26.8L218.9,27.1L219.4,27.1L219.8,27.6L220.2,27.0L220.6,27.3L221.0,26.4L221.4,26.7L221.8,27.1L222.2,26.7L222.6,27.2L223.0,26.5L223.4,27.0L223.8,26.7L224.2,27.7L224.6,26.9L225.1,27.9L225.5,28.1L225.9,27.2L226.3,27.5L226.7,26.9L227.1,25.8L227.5,27.5L227.9,27.4L228.3,26.9L228.7,26.8L229.1,27.1L229.5,27.1L229.9,26.7L230.3,26.8L230.8,27.6L231.2,27.1L231.6,27.0L232.0,27.6L232.4,26.9L232.8,27.5L233.2,26.5L233.6,26.9L234.0,27.0L234.4,27.4L234.8,27.1L235.2,28.1L235.6,27.6L236.0,26.8L236.5,28.2L236.9,26.6L237.3,28.0L237.7,26.6L238.1,27.5L238.5,26.6L238.9,27.0L239.3,27.9" fill="none" stroke="#E8873A" stroke-width="1.05" stroke-linejoin="round" />
<path d="M240.0,61.2L240.2,67.9L240.4,73.0L240.7,77.4L240.9,79.4L241.1,82.7L241.3,84.4L241.6,86.4L241.8,87.6L242.0,89.0L242.2,88.5L242.5,90.0L242.7,90.0L242.9,91.1L243.2,92.0L243.4,92.2L243.6,92.7L243.8,92.8L244.1,93.3L244.3,93.6L244.5,94.4L244.7,94.4L245.0,93.3L245.2,94.8L245.4,95.3L245.6,94.7L245.9,94.4L246.5,96.4L247.0,96.2L247.6,96.8L248.2,97.8L248.8,96.8L249.3,97.6L249.9,97.8L250.5,98.5L251.1,98.1L251.7,98.9L252.2,98.9L252.8,99.6L253.4,99.9L254.0,98.7L254.6,99.8L255.1,99.6L255.7,99.9L256.3,100.2L256.9,100.4L257.4,99.9L258.0,100.5L258.6,100.6L259.2,100.6L259.8,100.1L260.3,100.5L260.9,100.7L261.5,101.3L262.1,101.9L262.7,100.7L263.2,100.8L263.8,101.5L264.4,101.2L265.0,101.1L265.6,101.2L266.1,101.2L266.7,102.0L267.3,101.0L267.9,102.6L268.4,101.5L269.0,101.8L269.6,101.7L270.2,101.2L270.8,101.5L271.3,103.0L271.9,103.3L272.5,102.1L273.1,103.1L273.7,102.6L274.2,102.2L274.8,103.6L275.4,104.0L276.0,102.8L276.5,102.9L277.1,103.2L277.7,103.1L278.3,103.6L278.9,104.0L279.4,103.4L280.0,103.9L280.6,104.3L281.2,103.2L281.8,103.6L282.3,103.4L282.9,104.2L283.5,104.1L284.1,104.3L284.7,104.3L285.2,103.8L285.8,104.4L286.4,103.8L287.0,103.9L287.5,103.0L288.1,104.9L288.7,103.8L289.3,104.3L289.9,104.4L290.4,105.2L291.0,104.7L291.6,104.1L292.2,104.6L292.8,104.6L293.3,104.8L293.9,104.1L294.5,104.8L295.1,106.0L295.6,105.3L296.2,106.0L296.8,106.8L297.4,105.4L298.0,104.4L298.5,105.2L299.1,105.9L299.7,105.8L300.3,104.7L300.9,105.3L301.4,105.4L302.0,105.5L302.6,105.5L303.2,105.2L303.8,105.4L304.3,105.6L304.9,106.3L305.5,105.5L306.1,106.2L306.6,105.3L307.2,106.6L307.8,106.1L308.4,106.1L309.0,106.8L309.5,105.2L310.1,105.4L310.7,106.5L311.3,105.9L311.9,106.1L312.4,107.8L313.0,106.3L313.6,106.5L314.2,106.5L314.7,107.2L315.3,106.8L315.9,106.8L316.5,106.1L317.1,106.6L317.6,106.8L318.2,106.1L318.8,107.2L319.4,107.2L320.0,108.0L320.5,106.2L321.1,106.6L321.7,106.7L322.3,106.8L322.9,107.2L323.4,107.2L324.0,107.5L324.6,107.5L325.2,107.4L325.7,106.7L326.3,107.2L326.9,107.6L327.5,107.9L328.1,108.0L328.6,106.8L329.2,107.5L329.8,107.7L330.4,108.0L331.0,108.5L331.5,107.9L332.1,107.5L332.7,108.2L333.3,108.1L333.8,108.2L334.4,108.0L335.0,109.0L335.6,108.3L336.2,108.7L336.7,107.8L337.3,108.7L337.9,108.0" fill="none" stroke="#E8873A" stroke-width="1.05" stroke-linejoin="round" />
<path d="M191.0,91.8L191.2,86.9L191.4,82.3L191.6,80.1L191.8,76.9L192.1,74.4L192.3,71.0L192.5,69.4L192.7,67.1L192.9,63.8L193.1,63.1L193.3,60.3L193.5,58.5L193.7,57.8L193.9,56.3L194.1,54.3L194.3,54.4L194.5,53.6L194.7,53.0L194.9,51.4L195.3,49.2L195.7,48.2L196.2,48.2L196.6,47.3L197.0,46.3L197.4,45.3L197.8,45.0L198.2,44.4L198.6,43.9L199.0,44.0L199.4,43.6L199.8,43.2L200.2,43.2L200.6,42.7L201.0,41.8L201.4,42.4L201.9,42.6L202.3,43.5L202.7,42.3L203.1,43.5L203.5,43.1L203.9,41.9L204.3,41.9L204.7,42.4L205.1,43.2L205.5,42.5L205.9,42.6L206.3,41.9L206.7,41.0L207.1,42.1L207.5,42.6L208.0,42.8L208.4,42.2L208.8,42.3L209.2,42.8L209.6,42.1L210.0,42.8L210.4,41.6L210.8,41.6L211.2,41.6L211.6,42.4L212.0,41.9L212.4,42.2L212.8,42.4L213.2,42.3L213.7,42.9L214.1,42.9L214.5,41.7L214.9,42.3L215.3,42.0L215.7,41.6L216.1,43.1L216.5,42.6L216.9,42.1L217.3,41.9L217.7,42.4L218.1,41.6L218.5,42.0L218.9,42.8L219.4,42.6L219.8,41.7L220.2,41.9L220.6,43.2L221.0,41.4L221.4,41.8L221.8,41.4L222.2,42.4L222.6,42.3L223.0,42.8L223.4,40.8L223.8,42.2L224.2,41.3L224.6,42.5L225.1,42.1L225.5,43.0L225.9,42.4L226.3,41.6L226.7,42.8L227.1,41.6L227.5,42.0L227.9,42.7L228.3,42.4L228.7,42.4L229.1,42.2L229.5,42.4L229.9,42.6L230.3,42.3L230.8,42.7L231.2,42.8L231.6,42.2L232.0,41.7L232.4,43.0L232.8,42.1L233.2,42.5L233.6,42.7L234.0,41.7L234.4,42.4L234.8,41.3L235.2,42.6L235.6,41.9L236.0,42.3L236.5,42.6L236.9,41.8L237.3,42.2L237.7,41.8L238.1,42.2L238.5,42.7L238.9,42.2L239.3,42.1" fill="none" stroke="#E8873A" stroke-width="1.05" stroke-linejoin="round" />
<path d="M240.0,69.7L240.2,75.9L240.4,78.8L240.7,82.9L240.9,85.8L241.1,86.9L241.3,87.9L241.6,90.6L241.8,91.4L242.0,92.1L242.2,93.0L242.5,92.8L242.7,94.0L242.9,94.4L243.2,94.1L243.4,95.2L243.6,94.9L243.8,95.9L244.1,96.4L244.3,97.0L244.5,95.2L244.7,96.6L245.0,96.5L245.2,96.9L245.4,97.0L245.6,97.3L245.9,96.4L246.5,98.5L247.0,99.1L247.6,99.2L248.2,99.7L248.8,98.9L249.3,99.2L249.9,100.4L250.5,100.9L251.1,100.6L251.7,99.8L252.2,102.3L252.8,100.7L253.4,101.7L254.0,100.8L254.6,102.1L255.1,101.8L255.7,102.6L256.3,102.5L256.9,101.3L257.4,101.8L258.0,102.5L258.6,102.9L259.2,103.6L259.8,102.9L260.3,102.8L260.9,102.9L261.5,103.0L262.1,103.7L262.7,103.2L263.2,103.3L263.8,102.6L264.4,102.4L265.0,103.6L265.6,104.0L266.1,103.7L266.7,104.1L267.3,104.2L267.9,104.0L268.4,104.6L269.0,103.8L269.6,104.2L270.2,104.1L270.8,104.4L271.3,104.8L271.9,105.0L272.5,104.7L273.1,104.9L273.7,104.6L274.2,104.8L274.8,105.6L275.4,104.9L276.0,105.7L276.5,105.4L277.1,105.3L277.7,106.3L278.3,105.2L278.9,105.2L279.4,105.5L280.0,105.7L280.6,105.7L281.2,106.1L281.8,105.8L282.3,106.0L282.9,105.7L283.5,106.5L284.1,105.8L284.7,105.9L285.2,106.1L285.8,106.3L286.4,105.9L287.0,107.1L287.5,106.0L288.1,106.2L288.7,106.3L289.3,106.3L289.9,106.9L290.4,106.7L291.0,106.3L291.6,106.5L292.2,106.7L292.8,107.6L293.3,106.6L293.9,106.3L294.5,106.5L295.1,106.9L295.6,107.9L296.2,106.7L296.8,107.3L297.4,108.6L298.0,107.1L298.5,108.2L299.1,108.1L299.7,107.8L300.3,106.9L300.9,107.8L301.4,107.5L302.0,106.8L302.6,106.9L303.2,107.9L303.8,108.0L304.3,108.6L304.9,108.4L305.5,107.8L306.1,107.9L306.6,108.1L307.2,107.7L307.8,108.7L308.4,108.3L309.0,108.0L309.5,108.1L310.1,107.9L310.7,108.3L311.3,108.7L311.9,108.4L312.4,109.2L313.0,109.6L313.6,108.4L314.2,108.8L314.7,108.7L315.3,109.8L315.9,109.1L316.5,109.3L317.1,109.5L317.6,110.3L318.2,109.3L318.8,108.7L319.4,109.0L320.0,109.6L320.5,109.3L321.1,109.0L321.7,110.9L322.3,109.5L322.9,109.2L323.4,109.2L324.0,108.7L324.6,109.0L325.2,109.5L325.7,109.6L326.3,109.3L326.9,110.1L327.5,109.9L328.1,109.4L328.6,108.9L329.2,110.1L329.8,110.1L330.4,110.0L331.0,109.4L331.5,110.2L332.1,109.4L332.7,110.8L333.3,110.4L333.8,110.4L334.4,109.9L335.0,109.8L335.6,111.2L336.2,111.0L336.7,110.3L337.3,110.9L337.9,111.4" fill="none" stroke="#E8873A" stroke-width="1.05" stroke-linejoin="round" />
<path d="M191.0,104.5L191.2,101.4L191.4,100.3L191.6,98.2L191.8,95.6L192.1,94.2L192.3,91.7L192.5,90.3L192.7,89.4L192.9,87.3L193.1,86.2L193.3,84.2L193.5,83.7L193.7,82.4L193.9,80.4L194.1,78.8L194.3,77.9L194.5,78.0L194.7,77.0L194.9,75.5L195.3,74.8L195.7,73.9L196.2,72.1L196.6,70.8L197.0,70.5L197.4,70.0L197.8,69.1L198.2,67.3L198.6,67.4L199.0,66.5L199.4,65.8L199.8,65.2L200.2,65.3L200.6,64.5L201.0,64.9L201.4,64.3L201.9,64.4L202.3,63.0L202.7,63.4L203.1,63.6L203.5,63.2L203.9,63.0L204.3,62.4L204.7,63.5L205.1,63.1L205.5,62.7L205.9,61.0L206.3,61.8L206.7,62.3L207.1,61.8L207.5,61.0L208.0,62.2L208.4,62.2L208.8,61.3L209.2,61.7L209.6,61.6L210.0,62.2L210.4,60.8L210.8,60.9L211.2,61.5L211.6,61.4L212.0,62.9L212.4,61.4L212.8,61.9L213.2,61.5L213.7,61.4L214.1,61.9L214.5,62.6L214.9,61.5L215.3,62.1L215.7,61.9L216.1,62.0L216.5,61.9L216.9,62.9L217.3,61.0L217.7,61.5L218.1,61.1L218.5,60.6L218.9,61.7L219.4,62.6L219.8,62.1L220.2,62.3L220.6,61.9L221.0,61.6L221.4,62.7L221.8,61.5L222.2,62.5L222.6,61.5L223.0,61.7L223.4,61.8L223.8,61.7L224.2,61.9L224.6,62.0L225.1,62.6L225.5,61.7L225.9,60.7L226.3,60.6L226.7,60.9L227.1,61.3L227.5,62.0L227.9,60.9L228.3,61.7L228.7,61.7L229.1,61.8L229.5,61.6L229.9,61.9L230.3,61.7L230.8,62.2L231.2,61.9L231.6,60.4L232.0,61.7L232.4,61.8L232.8,61.4L233.2,61.3L233.6,62.2L234.0,61.8L234.4,61.2L234.8,61.5L235.2,61.6L235.6,60.8L236.0,62.0L236.5,61.6L236.9,61.9L237.3,60.9L237.7,62.7L238.1,62.0L238.5,61.9L238.9,61.3L239.3,61.3" fill="none" stroke="#E8873A" stroke-width="1.05" stroke-linejoin="round" />
<path d="M240.0,81.0L240.2,85.4L240.4,88.5L240.7,90.2L240.9,92.8L241.1,94.9L241.3,95.1L241.6,96.7L241.8,97.0L242.0,97.1L242.2,97.6L242.5,97.4L242.7,98.7L242.9,99.8L243.2,99.7L243.4,100.0L243.6,100.5L243.8,99.8L244.1,100.6L244.3,101.5L244.5,100.3L244.7,100.9L245.0,100.8L245.2,101.1L245.4,100.9L245.6,101.4L245.9,100.9L246.5,101.7L247.0,102.0L247.6,102.3L248.2,103.5L248.8,103.1L249.3,103.3L249.9,103.3L250.5,104.3L251.1,102.9L251.7,103.9L252.2,104.8L252.8,105.2L253.4,104.5L254.0,104.6L254.6,105.0L255.1,104.7L255.7,105.2L256.3,104.7L256.9,105.5L257.4,105.2L258.0,104.8L258.6,104.0L259.2,106.0L259.8,105.8L260.3,106.1L260.9,105.3L261.5,106.4L262.1,106.1L262.7,106.0L263.2,106.6L263.8,106.6L264.4,106.4L265.0,107.4L265.6,107.1L266.1,106.6L266.7,106.4L267.3,106.6L267.9,107.5L268.4,106.9L269.0,106.3L269.6,106.5L270.2,106.9L270.8,107.4L271.3,106.6L271.9,107.3L272.5,107.7L273.1,107.6L273.7,106.4L274.2,107.1L274.8,106.7L275.4,107.6L276.0,106.9L276.5,107.8L277.1,107.6L277.7,106.2L278.3,107.2L278.9,108.0L279.4,107.8L280.0,107.6L280.6,107.2L281.2,108.2L281.8,108.9L282.3,108.2L282.9,108.1L283.5,108.1L284.1,107.5L284.7,108.1L285.2,107.8L285.8,108.9L286.4,107.9L287.0,107.3L287.5,108.1L288.1,108.4L288.7,108.5L289.3,107.7L289.9,109.2L290.4,108.8L291.0,108.5L291.6,108.4L292.2,109.1L292.8,108.8L293.3,109.1L293.9,108.9L294.5,109.1L295.1,109.7L295.6,109.2L296.2,108.7L296.8,109.8L297.4,109.4L298.0,109.0L298.5,110.0L299.1,109.3L299.7,110.0L300.3,108.9L300.9,108.3L301.4,108.5L302.0,109.8L302.6,109.3L303.2,109.7L303.8,109.7L304.3,109.0L304.9,110.6L305.5,109.3L306.1,110.0L306.6,109.2L307.2,109.9L307.8,110.4L308.4,110.0L309.0,109.8L309.5,110.2L310.1,110.0L310.7,110.6L311.3,111.5L311.9,109.9L312.4,110.0L313.0,110.4L313.6,110.4L314.2,110.0L314.7,110.8L315.3,111.0L315.9,110.7L316.5,110.0L317.1,111.5L317.6,110.1L318.2,111.1L318.8,111.4L319.4,110.2L320.0,111.0L320.5,111.6L321.1,111.2L321.7,110.5L322.3,110.4L322.9,111.3L323.4,110.9L324.0,110.8L324.6,111.5L325.2,111.0L325.7,111.3L326.3,111.6L326.9,111.6L327.5,111.3L328.1,111.4L328.6,111.8L329.2,111.7L329.8,110.9L330.4,111.4L331.0,111.1L331.5,111.0L332.1,111.3L332.7,110.5L333.3,112.2L333.8,111.3L334.4,112.0L335.0,110.8L335.6,110.9L336.2,112.9L336.7,112.4L337.3,111.6L337.9,111.6" fill="none" stroke="#E8873A" stroke-width="1.05" stroke-linejoin="round" />
<path d="M191.0,109.4L191.2,109.7L191.4,106.8L191.6,106.4L191.8,104.0L192.1,103.5L192.3,102.7L192.5,100.9L192.7,100.5L192.9,99.5L193.1,98.9L193.3,97.1L193.5,95.9L193.7,94.8L193.9,94.6L194.1,93.2L194.3,93.0L194.5,92.3L194.7,91.3L194.9,90.4L195.3,89.9L195.7,88.7L196.2,87.7L196.6,86.6L197.0,86.3L197.4,84.4L197.8,84.5L198.2,83.4L198.6,83.4L199.0,82.2L199.4,81.7L199.8,81.7L200.2,79.9L200.6,80.4L201.0,79.3L201.4,79.4L201.9,80.0L202.3,79.6L202.7,78.9L203.1,78.8L203.5,78.6L203.9,78.6L204.3,79.2L204.7,78.2L205.1,79.1L205.5,77.6L205.9,78.1L206.3,78.0L206.7,77.6L207.1,77.2L207.5,78.0L208.0,78.1L208.4,77.7L208.8,78.1L209.2,77.5L209.6,76.1L210.0,77.4L210.4,76.5L210.8,77.5L211.2,76.6L211.6,76.9L212.0,76.7L212.4,76.3L212.8,75.7L213.2,76.5L213.7,76.5L214.1,77.0L214.5,76.2L214.9,76.6L215.3,76.0L215.7,76.5L216.1,75.5L216.5,77.5L216.9,76.6L217.3,75.9L217.7,76.6L218.1,76.8L218.5,76.5L218.9,77.1L219.4,76.3L219.8,75.0L220.2,75.7L220.6,76.9L221.0,76.8L221.4,76.5L221.8,75.8L222.2,76.8L222.6,76.7L223.0,75.8L223.4,75.8L223.8,76.5L224.2,76.9L224.6,77.1L225.1,76.7L225.5,77.5L225.9,75.9L226.3,76.6L226.7,76.0L227.1,75.3L227.5,75.7L227.9,76.9L228.3,75.8L228.7,75.7L229.1,76.7L229.5,76.8L229.9,76.3L230.3,77.1L230.8,75.5L231.2,77.6L231.6,76.9L232.0,76.4L232.4,76.4L232.8,76.2L233.2,76.1L233.6,76.4L234.0,75.7L234.4,77.4L234.8,76.3L235.2,76.7L235.6,76.2L236.0,76.2L236.5,76.8L236.9,76.6L237.3,75.9L237.7,76.1L238.1,76.6L238.5,75.2L238.9,75.0L239.3,77.1" fill="none" stroke="#E8873A" stroke-width="1.05" stroke-linejoin="round" />
<path d="M240.0,89.7L240.2,92.7L240.4,95.1L240.7,96.9L240.9,98.0L241.1,99.2L241.3,99.3L241.6,100.6L241.8,101.2L242.0,102.0L242.2,101.8L242.5,102.6L242.7,102.5L242.9,102.1L243.2,102.7L243.4,102.8L243.6,103.1L243.8,103.4L244.1,103.6L244.3,103.9L244.5,103.5L244.7,104.6L245.0,103.4L245.2,104.2L245.4,104.7L245.6,104.7L245.9,104.9L246.5,104.7L247.0,105.4L247.6,104.6L248.2,105.9L248.8,106.8L249.3,106.2L249.9,107.0L250.5,106.1L251.1,105.7L251.7,106.0L252.2,107.2L252.8,107.0L253.4,105.7L254.0,106.6L254.6,106.9L255.1,106.4L255.7,105.8L256.3,106.5L256.9,107.2L257.4,107.1L258.0,107.1L258.6,107.8L259.2,108.1L259.8,107.6L260.3,108.2L260.9,107.8L261.5,107.7L262.1,106.6L262.7,108.4L263.2,108.0L263.8,108.1L264.4,107.8L265.0,107.6L265.6,108.4L266.1,108.7L266.7,109.2L267.3,108.8L267.9,108.1L268.4,108.4L269.0,109.0L269.6,108.7L270.2,108.6L270.8,108.4L271.3,109.0L271.9,108.9L272.5,109.8L273.1,109.4L273.7,108.0L274.2,110.1L274.8,109.2L275.4,108.9L276.0,109.3L276.5,109.5L277.1,109.2L277.7,109.2L278.3,109.3L278.9,110.3L279.4,109.4L280.0,109.8L280.6,109.7L281.2,109.3L281.8,109.2L282.3,109.1L282.9,109.8L283.5,109.1L284.1,109.0L284.7,109.1L285.2,109.0L285.8,109.9L286.4,109.9L287.0,109.4L287.5,110.6L288.1,109.8L288.7,110.3L289.3,110.2L289.9,111.0L290.4,110.6L291.0,110.2L291.6,109.7L292.2,109.7L292.8,110.3L293.3,110.4L293.9,110.8L294.5,110.2L295.1,110.5L295.6,110.1L296.2,109.5L296.8,110.5L297.4,111.4L298.0,111.1L298.5,111.4L299.1,111.3L299.7,110.0L300.3,110.6L300.9,111.6L301.4,110.5L302.0,110.2L302.6,111.1L303.2,111.3L303.8,111.1L304.3,110.8L304.9,110.7L305.5,110.4L306.1,110.4L306.6,110.5L307.2,110.4L307.8,110.8L308.4,112.1L309.0,111.3L309.5,111.1L310.1,111.5L310.7,110.9L311.3,111.6L311.9,111.9L312.4,110.7L313.0,111.1L313.6,111.4L314.2,111.1L314.7,111.0L315.3,111.4L315.9,113.0L316.5,112.0L317.1,112.0L317.6,112.3L318.2,111.7L318.8,111.2L319.4,112.1L320.0,112.5L320.5,110.8L321.1,112.2L321.7,112.6L322.3,111.9L322.9,111.8L323.4,112.4L324.0,111.7L324.6,112.4L325.2,112.6L325.7,112.1L326.3,111.8L326.9,112.6L327.5,112.1L328.1,112.3L328.6,110.8L329.2,112.7L329.8,111.6L330.4,112.4L331.0,112.5L331.5,112.1L332.1,112.0L332.7,111.8L333.3,112.4L333.8,112.9L334.4,112.9L335.0,112.3L335.6,112.3L336.2,111.9L336.7,112.5L337.3,112.2L337.9,111.9" fill="none" stroke="#E8873A" stroke-width="1.05" stroke-linejoin="round" />
<path d="M191.0,113.7L191.2,111.7L191.4,111.2L191.6,109.8L191.8,109.4L192.1,109.3L192.3,108.6L192.5,107.7L192.7,107.0L192.9,106.7L193.1,105.8L193.3,104.4L193.5,105.6L193.7,103.9L193.9,104.0L194.1,102.9L194.3,102.1L194.5,102.1L194.7,101.2L194.9,102.0L195.3,99.7L195.7,99.8L196.2,98.5L196.6,98.0L197.0,98.9L197.4,97.3L197.8,96.3L198.2,95.1L198.6,95.3L199.0,94.9L199.4,95.4L199.8,93.5L200.2,92.9L200.6,93.6L201.0,93.4L201.4,93.9L201.9,92.3L202.3,91.1L202.7,91.9L203.1,91.4L203.5,91.6L203.9,92.2L204.3,90.8L204.7,92.1L205.1,91.4L205.5,91.0L205.9,90.5L206.3,90.7L206.7,90.6L207.1,91.1L207.5,91.3L208.0,90.5L208.4,90.8L208.8,91.1L209.2,91.0L209.6,90.5L210.0,91.2L210.4,90.9L210.8,91.0L211.2,89.9L211.6,89.8L212.0,88.9L212.4,90.7L212.8,90.2L213.2,89.4L213.7,89.9L214.1,90.0L214.5,88.9L214.9,89.9L215.3,90.3L215.7,90.4L216.1,89.5L216.5,89.5L216.9,90.4L217.3,90.2L217.7,89.3L218.1,89.3L218.5,89.9L218.9,89.2L219.4,89.3L219.8,90.5L220.2,89.7L220.6,89.3L221.0,89.8L221.4,90.7L221.8,89.7L222.2,89.1L222.6,88.7L223.0,90.7L223.4,88.1L223.8,90.1L224.2,89.0L224.6,88.8L225.1,89.0L225.5,89.4L225.9,90.1L226.3,89.1L226.7,89.9L227.1,90.8L227.5,88.0L227.9,89.1L228.3,88.5L228.7,90.0L229.1,88.7L229.5,88.6L229.9,88.6L230.3,89.5L230.8,90.1L231.2,89.5L231.6,90.6L232.0,90.4L232.4,89.4L232.8,90.0L233.2,89.5L233.6,89.5L234.0,88.4L234.4,88.8L234.8,89.5L235.2,88.8L235.6,89.9L236.0,89.6L236.5,89.0L236.9,90.1L237.3,89.6L237.7,90.2L238.1,89.4L238.5,88.6L238.9,89.8L239.3,89.3" fill="none" stroke="#E8873A" stroke-width="1.05" stroke-linejoin="round" />
<path d="M240.0,99.5L240.2,99.9L240.4,100.8L240.7,102.9L240.9,104.4L241.1,104.4L241.3,105.5L241.6,105.3L241.8,106.0L242.0,106.3L242.2,106.4L242.5,107.2L242.7,107.3L242.9,108.2L243.2,107.6L243.4,108.3L243.6,107.8L243.8,108.3L244.1,107.8L244.3,107.8L244.5,108.8L244.7,108.6L245.0,108.8L245.2,107.9L245.4,107.5L245.6,108.0L245.9,108.8L246.5,108.0L247.0,109.7L247.6,108.2L248.2,109.5L248.8,110.8L249.3,108.0L249.9,108.7L250.5,110.2L251.1,109.6L251.7,109.9L252.2,109.8L252.8,110.7L253.4,110.4L254.0,109.8L254.6,110.0L255.1,109.6L255.7,110.2L256.3,109.1L256.9,110.8L257.4,110.3L258.0,111.5L258.6,111.2L259.2,109.9L259.8,111.1L260.3,110.4L260.9,110.8L261.5,111.3L262.1,111.0L262.7,111.1L263.2,111.1L263.8,110.5L264.4,110.6L265.0,111.3L265.6,111.5L266.1,110.9L266.7,111.2L267.3,110.6L267.9,109.8L268.4,110.8L269.0,111.3L269.6,111.4L270.2,111.8L270.8,111.8L271.3,111.9L271.9,111.6L272.5,111.7L273.1,111.1L273.7,111.7L274.2,111.6L274.8,112.2L275.4,110.7L276.0,111.4L276.5,110.7L277.1,111.3L277.7,110.9L278.3,111.9L278.9,111.4L279.4,110.4L280.0,112.5L280.6,111.2L281.2,111.0L281.8,111.7L282.3,111.5L282.9,111.3L283.5,112.4L284.1,111.8L284.7,112.5L285.2,112.5L285.8,112.5L286.4,112.2L287.0,112.1L287.5,112.0L288.1,113.0L288.7,111.2L289.3,111.7L289.9,111.9L290.4,112.5L291.0,112.4L291.6,112.1L292.2,112.2L292.8,113.4L293.3,112.1L293.9,110.9L294.5,113.5L295.1,112.0L295.6,112.4L296.2,112.7L296.8,111.9L297.4,113.3L298.0,112.6L298.5,111.9L299.1,112.8L299.7,113.0L300.3,112.7L300.9,113.1L301.4,112.0L302.0,113.4L302.6,112.4L303.2,113.6L303.8,112.6L304.3,113.0L304.9,114.4L305.5,113.0L306.1,113.6L306.6,113.3L307.2,112.2L307.8,113.7L308.4,113.7L309.0,112.3L309.5,113.1L310.1,112.3L310.7,113.0L311.3,113.7L311.9,113.3L312.4,112.6L313.0,112.8L313.6,113.3L314.2,113.3L314.7,113.4L315.3,113.7L315.9,112.3L316.5,113.4L317.1,114.1L317.6,113.7L318.2,113.1L318.8,113.2L319.4,113.6L320.0,113.9L320.5,113.6L321.1,114.5L321.7,114.3L322.3,113.2L322.9,113.9L323.4,113.5L324.0,113.0L324.6,113.4L325.2,113.7L325.7,112.6L326.3,113.4L326.9,114.0L327.5,113.4L328.1,113.6L328.6,114.3L329.2,113.8L329.8,114.0L330.4,115.0L331.0,114.0L331.5,114.1L332.1,114.2L332.7,114.9L333.3,114.2L333.8,114.1L334.4,114.0L335.0,114.7L335.6,113.8L336.2,114.8L336.7,114.3L337.3,113.4L337.9,114.6" fill="none" stroke="#E8873A" stroke-width="1.05" stroke-linejoin="round" />
<path d="M191.0,115.2L191.2,116.6L191.4,115.4L191.6,115.1L191.8,114.7L192.1,114.2L192.3,113.8L192.5,112.9L192.7,113.2L192.9,112.3L193.1,111.8L193.3,112.1L193.5,111.3L193.7,110.2L193.9,110.6L194.1,110.8L194.3,110.3L194.5,110.5L194.7,109.6L194.9,109.0L195.3,109.4L195.7,108.7L196.2,107.5L196.6,108.0L197.0,107.3L197.4,107.6L197.8,107.1L198.2,106.7L198.6,104.9L199.0,106.1L199.4,105.9L199.8,105.7L200.2,105.2L200.6,104.6L201.0,104.6L201.4,103.4L201.9,104.2L202.3,103.4L202.7,103.9L203.1,103.6L203.5,104.5L203.9,103.7L204.3,103.5L204.7,103.5L205.1,104.4L205.5,102.7L205.9,103.3L206.3,103.2L206.7,103.1L207.1,103.0L207.5,102.6L208.0,103.4L208.4,103.1L208.8,102.4L209.2,102.4L209.6,102.7L210.0,102.7L210.4,102.8L210.8,102.4L211.2,101.6L211.6,102.8L212.0,101.4L212.4,101.7L212.8,102.4L213.2,101.7L213.7,102.9L214.1,103.0L214.5,102.7L214.9,102.2L215.3,102.2L215.7,102.2L216.1,101.9L216.5,103.1L216.9,101.6L217.3,102.6L217.7,102.2L218.1,102.1L218.5,102.5L218.9,102.6L219.4,102.4L219.8,101.8L220.2,101.5L220.6,101.5L221.0,102.3L221.4,102.2L221.8,102.3L222.2,101.5L222.6,102.8L223.0,101.1L223.4,102.0L223.8,102.1L224.2,101.5L224.6,101.2L225.1,101.5L225.5,101.1L225.9,101.6L226.3,101.0L226.7,101.0L227.1,101.7L227.5,100.9L227.9,101.6L228.3,101.6L228.7,102.2L229.1,101.8L229.5,101.2L229.9,102.4L230.3,101.3L230.8,101.5L231.2,101.5L231.6,102.8L232.0,101.7L232.4,101.3L232.8,102.1L233.2,101.6L233.6,102.9L234.0,101.3L234.4,102.0L234.8,101.2L235.2,102.6L235.6,101.3L236.0,101.8L236.5,101.2L236.9,102.1L237.3,102.0L237.7,100.4L238.1,102.1L238.5,102.0L238.9,101.8L239.3,102.2" fill="none" stroke="#E8873A" stroke-width="1.05" stroke-linejoin="round" />
<path d="M240.0,106.5L240.2,107.9L240.4,107.0L240.7,107.6L240.9,108.2L241.1,108.3L241.3,109.7L241.6,109.6L241.8,110.4L242.0,110.6L242.2,109.4L242.5,110.4L242.7,109.0L242.9,110.3L243.2,110.7L243.4,110.0L243.6,109.6L243.8,110.3L244.1,111.3L244.3,110.5L244.5,110.1L244.7,111.1L245.0,111.3L245.2,110.4L245.4,110.9L245.6,111.6L245.9,111.3L246.5,111.6L247.0,111.2L247.6,111.4L248.2,110.9L248.8,111.2L249.3,112.5L249.9,111.5L250.5,111.3L251.1,111.6L251.7,111.4L252.2,112.3L252.8,112.6L253.4,111.6L254.0,112.8L254.6,113.4L255.1,111.7L255.7,112.7L256.3,112.5L256.9,113.2L257.4,113.2L258.0,113.1L258.6,112.7L259.2,112.4L259.8,113.9L260.3,112.3L260.9,113.3L261.5,113.3L262.1,112.4L262.7,112.9L263.2,113.7L263.8,111.9L264.4,113.4L265.0,112.8L265.6,112.9L266.1,112.3L266.7,113.3L267.3,112.5L267.9,113.5L268.4,112.5L269.0,113.6L269.6,113.4L270.2,112.2L270.8,113.1L271.3,113.2L271.9,112.1L272.5,113.2L273.1,113.8L273.7,113.0L274.2,114.1L274.8,112.9L275.4,112.9L276.0,113.8L276.5,113.9L277.1,113.5L277.7,113.6L278.3,114.2L278.9,113.4L279.4,114.8L280.0,113.9L280.6,114.0L281.2,113.9L281.8,113.6L282.3,114.5L282.9,113.5L283.5,114.0L284.1,114.2L284.7,114.7L285.2,114.6L285.8,113.8L286.4,114.5L287.0,114.0L287.5,113.5L288.1,113.5L288.7,113.3L289.3,114.3L289.9,114.7L290.4,113.6L291.0,114.0L291.6,113.6L292.2,114.2L292.8,113.6L293.3,113.8L293.9,113.9L294.5,114.1L295.1,114.1L295.6,114.3L296.2,114.3L296.8,113.9L297.4,114.7L298.0,113.5L298.5,114.5L299.1,114.0L299.7,114.6L300.3,114.7L300.9,113.5L301.4,114.8L302.0,115.3L302.6,115.0L303.2,114.8L303.8,113.5L304.3,114.6L304.9,114.2L305.5,115.3L306.1,114.6L306.6,114.4L307.2,113.8L307.8,115.2L308.4,114.5L309.0,114.7L309.5,115.4L310.1,114.9L310.7,115.1L311.3,116.2L311.9,114.6L312.4,114.7L313.0,115.2L313.6,115.7L314.2,114.2L314.7,114.9L315.3,114.5L315.9,114.3L316.5,115.4L317.1,114.7L317.6,115.3L318.2,115.2L318.8,115.2L319.4,115.2L320.0,114.6L320.5,115.2L321.1,115.3L321.7,115.4L322.3,115.1L322.9,115.8L323.4,115.6L324.0,115.4L324.6,115.7L325.2,115.4L325.7,115.7L326.3,114.3L326.9,114.7L327.5,115.2L328.1,115.5L328.6,114.3L329.2,115.3L329.8,115.5L330.4,115.4L331.0,115.4L331.5,114.8L332.1,115.6L332.7,114.5L333.3,116.1L333.8,115.2L334.4,116.2L335.0,114.7L335.6,115.8L336.2,115.7L336.7,115.2L337.3,115.0L337.9,116.3" fill="none" stroke="#E8873A" stroke-width="1.05" stroke-linejoin="round" />
<path d="M191.0,117.5L191.2,117.2L191.4,117.2L191.6,116.3L191.8,115.6L192.1,117.3L192.3,116.2L192.5,116.1L192.7,115.5L192.9,116.1L193.1,115.5L193.3,115.9L193.5,114.8L193.7,115.0L193.9,115.0L194.1,114.5L194.3,114.7L194.5,115.3L194.7,114.0L194.9,114.1L195.3,114.1L195.7,113.3L196.2,112.9L196.6,114.0L197.0,113.6L197.4,112.2L197.8,112.1L198.2,113.1L198.6,113.1L199.0,112.7L199.4,112.5L199.8,112.9L200.2,111.9L200.6,112.5L201.0,112.4L201.4,111.1L201.9,111.9L202.3,111.4L202.7,111.0L203.1,110.8L203.5,111.3L203.9,111.0L204.3,111.4L204.7,110.0L205.1,110.5L205.5,111.3L205.9,110.7L206.3,110.2L206.7,110.3L207.1,109.5L207.5,109.7L208.0,110.7L208.4,110.4L208.8,111.0L209.2,110.1L209.6,110.2L210.0,108.7L210.4,110.1L210.8,111.2L211.2,110.4L211.6,110.0L212.0,110.7L212.4,110.5L212.8,110.2L213.2,109.8L213.7,110.0L214.1,110.4L214.5,109.4L214.9,110.1L215.3,110.1L215.7,110.5L216.1,110.2L216.5,109.4L216.9,110.6L217.3,109.8L217.7,109.3L218.1,109.9L218.5,109.6L218.9,110.3L219.4,109.0L219.8,109.1L220.2,109.5L220.6,110.6L221.0,110.2L221.4,109.1L221.8,108.7L222.2,109.4L222.6,108.9L223.0,109.9L223.4,109.7L223.8,109.6L224.2,109.3L224.6,110.4L225.1,109.0L225.5,108.8L225.9,110.2L226.3,110.3L226.7,109.3L227.1,109.9L227.5,110.8L227.9,109.1L228.3,109.4L228.7,109.8L229.1,108.4L229.5,109.4L229.9,109.9L230.3,109.4L230.8,110.0L231.2,109.9L231.6,109.3L232.0,109.8L232.4,109.7L232.8,108.6L233.2,109.0L233.6,109.0L234.0,109.2L234.4,109.2L234.8,108.7L235.2,109.5L235.6,108.5L236.0,110.0L236.5,109.6L236.9,110.2L237.3,109.6L237.7,109.2L238.1,108.7L238.5,109.8L238.9,109.4L239.3,109.6" fill="none" stroke="#E8873A" stroke-width="1.05" stroke-linejoin="round" />
<path d="M240.0,111.2L240.2,112.5L240.4,111.8L240.7,112.1L240.9,112.6L241.1,113.0L241.3,113.3L241.6,111.7L241.8,113.5L242.0,112.0L242.2,112.6L242.5,113.2L242.7,113.6L242.9,112.5L243.2,112.2L243.4,113.7L243.6,113.4L243.8,112.7L244.1,113.1L244.3,112.3L244.5,113.7L244.7,113.1L245.0,114.1L245.2,112.3L245.4,113.9L245.6,114.7L245.9,113.6L246.5,113.7L247.0,112.6L247.6,113.9L248.2,113.8L248.8,113.5L249.3,113.0L249.9,114.0L250.5,113.4L251.1,113.8L251.7,114.2L252.2,114.1L252.8,114.1L253.4,114.7L254.0,113.6L254.6,115.0L255.1,113.7L255.7,113.8L256.3,114.4L256.9,114.8L257.4,114.5L258.0,114.2L258.6,114.1L259.2,114.4L259.8,114.0L260.3,114.9L260.9,114.5L261.5,115.5L262.1,114.2L262.7,114.6L263.2,114.9L263.8,114.1L264.4,114.4L265.0,116.3L265.6,114.8L266.1,115.6L266.7,114.3L267.3,113.5L267.9,115.2L268.4,114.9L269.0,115.1L269.6,114.8L270.2,114.6L270.8,114.3L271.3,115.5L271.9,114.2L272.5,115.6L273.1,114.9L273.7,114.5L274.2,114.7L274.8,115.6L275.4,115.5L276.0,115.4L276.5,115.2L277.1,114.6L277.7,115.9L278.3,115.0L278.9,114.9L279.4,115.0L280.0,115.1L280.6,114.5L281.2,115.1L281.8,114.9L282.3,115.1L282.9,114.4L283.5,116.4L284.1,114.8L284.7,115.6L285.2,115.6L285.8,116.0L286.4,116.5L287.0,115.7L287.5,115.9L288.1,115.3L288.7,116.4L289.3,114.8L289.9,115.5L290.4,115.8L291.0,116.0L291.6,116.1L292.2,116.3L292.8,116.0L293.3,115.7L293.9,115.8L294.5,116.5L295.1,115.9L295.6,116.3L296.2,115.7L296.8,114.8L297.4,115.5L298.0,116.0L298.5,116.7L299.1,116.6L299.7,116.8L300.3,115.5L300.9,116.3L301.4,115.9L302.0,116.3L302.6,115.9L303.2,115.2L303.8,116.4L304.3,116.2L304.9,116.5L305.5,115.6L306.1,116.6L306.6,116.7L307.2,116.8L307.8,116.9L308.4,115.9L309.0,114.8L309.5,116.7L310.1,115.6L310.7,116.0L311.3,116.8L311.9,116.3L312.4,116.3L313.0,116.6L313.6,115.2L314.2,117.3L314.7,116.1L315.3,116.1L315.9,116.6L316.5,116.2L317.1,115.8L317.6,116.2L318.2,116.1L318.8,116.0L319.4,117.5L320.0,115.6L320.5,115.2L321.1,115.9L321.7,115.9L322.3,117.2L322.9,116.5L323.4,116.9L324.0,116.8L324.6,115.9L325.2,116.9L325.7,116.6L326.3,117.5L326.9,116.6L327.5,116.5L328.1,116.9L328.6,116.9L329.2,115.5L329.8,117.2L330.4,117.1L331.0,117.0L331.5,116.0L332.1,115.5L332.7,116.4L333.3,117.0L333.8,116.9L334.4,116.1L335.0,117.2L335.6,115.9L336.2,115.9L336.7,116.7L337.3,116.4L337.9,116.3" fill="none" stroke="#E8873A" stroke-width="1.05" stroke-linejoin="round" />
<path d="M351.4,119.1L351.6,98.6L351.8,86.1L352.0,78.6L352.2,74.0L352.4,71.2L352.6,69.5L352.8,68.5L353.0,67.9L353.2,67.5L353.5,67.3L353.7,67.2L353.9,67.1L354.1,67.0L354.3,67.0L354.5,67.0L354.7,67.0L354.9,66.9L355.1,66.9L355.3,66.9L355.5,66.9L355.7,66.9L355.9,66.9L356.1,66.9L356.3,66.9L356.7,66.9L357.1,66.9L357.6,66.9L358.0,66.9L358.4,66.9L358.8,66.9L359.2,66.9L359.6,66.9L360.0,66.9L360.4,66.9L360.8,66.9L361.2,66.9L361.6,66.9L362.0,66.9L362.4,66.9L362.9,66.9L363.3,66.9L363.7,66.9L364.1,66.9L364.5,66.9L364.9,66.9L365.3,66.9L365.7,66.9L366.1,66.9L366.5,66.9L366.9,66.9L367.3,66.9L367.7,66.9L368.1,66.9L368.6,66.9L369.0,66.9L369.4,66.9L369.8,66.9L370.2,66.9L370.6,66.9L371.0,66.9L371.4,66.9L371.8,66.9L372.2,66.9L372.6,66.9L373.0,66.9L373.4,66.9L373.8,66.9L374.3,66.9L374.7,66.9L375.1,66.9L375.5,66.9L375.9,66.9L376.3,66.9L376.7,66.9L377.1,66.9L377.5,66.9L377.9,66.9L378.3,66.9L378.7,66.9L379.1,66.9L379.6,66.9L380.0,66.9L380.4,66.9L380.8,66.9L381.2,66.9L381.6,66.9L382.0,66.9L382.4,66.9L382.8,66.9L383.2,66.9L383.6,66.9L384.0,66.9L384.4,66.9L384.8,66.9L385.3,66.9L385.7,66.9L386.1,66.9L386.5,66.9L386.9,66.9L387.3,66.9L387.7,66.9L388.1,66.9L388.5,66.9L388.9,66.9L389.3,66.9L389.7,66.9L390.1,66.9L390.5,66.9L391.0,66.9L391.4,66.9L391.8,66.9L392.2,66.9L392.6,66.9L393.0,66.9L393.4,66.9L393.8,66.9L394.2,66.9L394.6,66.9L395.0,66.9L395.4,66.9L395.8,66.9L396.3,66.9L396.7,66.9L397.1,66.9L397.5,66.9L397.9,66.9L398.3,66.9L398.7,66.9L399.1,66.9L399.5,66.9L399.9,66.9L400.3,66.9L400.7,66.9L401.0,82.9L401.2,92.0L401.4,96.7L401.6,99.1L401.9,100.5L402.1,101.3L402.3,101.8L402.5,102.2L402.8,102.5L403.0,102.7L403.2,102.9L403.5,103.1L403.7,103.2L403.9,103.4L404.1,103.5L404.4,103.6L404.6,103.8L404.8,103.9L405.0,104.0L405.3,104.1L405.5,104.2L405.7,104.3L406.0,104.4L406.2,104.5L406.4,104.5L406.6,104.6L406.9,104.7L407.1,104.8L407.3,104.8L407.9,105.0L408.5,105.1L409.0,105.2L409.6,105.3L410.2,105.4L410.8,105.5L411.4,105.6L411.9,105.6L412.5,105.7L413.1,105.7L413.7,105.8L414.3,105.8L414.8,105.9L415.4,105.9L416.0,106.0L416.6,106.0L417.2,106.1L417.7,106.1L418.3,106.1L418.9,106.2L419.5,106.2L420.1,106.2L420.6,106.3L421.2,106.3L421.8,106.3L422.4,106.4L422.9,106.4L423.5,106.4L424.1,106.4L424.7,106.5L425.3,106.5L425.8,106.5L426.4,106.6L427.0,106.6L427.6,106.6L428.2,106.7L428.7,106.7L429.3,106.7L429.9,106.7L430.5,106.8L431.1,106.8L431.6,106.8L432.2,106.9L432.8,106.9L433.4,106.9L434.0,106.9L434.5,107.0L435.1,107.0L435.7,107.0L436.3,107.1L436.8,107.1L437.4,107.1L438.0,107.1L438.6,107.2L439.2,107.2L439.7,107.2L440.3,107.2L440.9,107.3L441.5,107.3L442.1,107.3L442.6,107.4L443.2,107.4L443.8,107.4L444.4,107.4L445.0,107.5L445.5,107.5L446.1,107.5L446.7,107.5L447.3,107.6L447.9,107.6L448.4,107.6L449.0,107.6L449.6,107.7L450.2,107.7L450.7,107.7L451.3,107.8L451.9,107.8L452.5,107.8L453.1,107.8L453.6,107.9L454.2,107.9L454.8,107.9L455.4,107.9L456.0,108.0L456.5,108.0L457.1,108.0L457.7,108.0L458.3,108.1L458.9,108.1L459.4,108.1L460.0,108.1L460.6,108.2L461.2,108.2L461.8,108.2L462.3,108.2L462.9,108.3L463.5,108.3L464.1,108.3L464.6,108.3L465.2,108.4L465.8,108.4L466.4,108.4L467.0,108.4L467.5,108.4L468.1,108.5L468.7,108.5L469.3,108.5L469.9,108.5L470.4,108.6L471.0,108.6L471.6,108.6L472.2,108.6L472.8,108.7L473.3,108.7L473.9,108.7L474.5,108.7L475.1,108.8L475.7,108.8L476.2,108.8L476.8,108.8L477.4,108.8L478.0,108.9L478.5,108.9L479.1,108.9L479.7,108.9L480.3,109.0L480.9,109.0L481.4,109.0L482.0,109.0L482.6,109.1L483.2,109.1L483.8,109.1L484.3,109.1L484.9,109.1L485.5,109.2L486.1,109.2L486.7,109.2L487.2,109.2L487.8,109.3L488.4,109.3L489.0,109.3L489.6,109.3L490.1,109.3L490.7,109.4L491.3,109.4L491.9,109.4L492.4,109.4L493.0,109.4L493.6,109.5L494.2,109.5L494.8,109.5L495.3,109.5L495.9,109.6L496.5,109.6L497.1,109.6L497.7,109.6L498.2,109.6L498.8,109.7L499.4,109.7" fill="none" stroke="#EE6E68" stroke-width="1.0" stroke-linejoin="round" />
<path d="M351.4,119.1L351.6,108.6L351.8,101.4L352.0,96.4L352.2,93.0L352.4,90.6L352.6,89.0L352.8,87.9L353.0,87.1L353.2,86.6L353.5,86.3L353.7,86.0L353.9,85.8L354.1,85.7L354.3,85.6L354.5,85.6L354.7,85.5L354.9,85.5L355.1,85.5L355.3,85.5L355.5,85.5L355.7,85.5L355.9,85.5L356.1,85.5L356.3,85.5L356.7,85.5L357.1,85.5L357.6,85.5L358.0,85.5L358.4,85.5L358.8,85.5L359.2,85.5L359.6,85.5L360.0,85.5L360.4,85.5L360.8,85.5L361.2,85.5L361.6,85.5L362.0,85.5L362.4,85.5L362.9,85.5L363.3,85.5L363.7,85.5L364.1,85.5L364.5,85.5L364.9,85.5L365.3,85.5L365.7,85.5L366.1,85.5L366.5,85.5L366.9,85.5L367.3,85.5L367.7,85.5L368.1,85.5L368.6,85.5L369.0,85.5L369.4,85.5L369.8,85.5L370.2,85.5L370.6,85.5L371.0,85.5L371.4,85.5L371.8,85.5L372.2,85.5L372.6,85.5L373.0,85.5L373.4,85.5L373.8,85.5L374.3,85.5L374.7,85.5L375.1,85.5L375.5,85.5L375.9,85.5L376.3,85.5L376.7,85.5L377.1,85.5L377.5,85.5L377.9,85.5L378.3,85.5L378.7,85.5L379.1,85.5L379.6,85.5L380.0,85.5L380.4,85.5L380.8,85.5L381.2,85.5L381.6,85.5L382.0,85.5L382.4,85.5L382.8,85.5L383.2,85.5L383.6,85.5L384.0,85.5L384.4,85.5L384.8,85.5L385.3,85.5L385.7,85.5L386.1,85.5L386.5,85.5L386.9,85.5L387.3,85.5L387.7,85.5L388.1,85.5L388.5,85.5L388.9,85.5L389.3,85.5L389.7,85.5L390.1,85.5L390.5,85.5L391.0,85.5L391.4,85.5L391.8,85.5L392.2,85.5L392.6,85.5L393.0,85.5L393.4,85.5L393.8,85.5L394.2,85.5L394.6,85.5L395.0,85.5L395.4,85.5L395.8,85.5L396.3,85.5L396.7,85.5L397.1,85.5L397.5,85.5L397.9,85.5L398.3,85.5L398.7,85.5L399.1,85.5L399.5,85.5L399.9,85.5L400.3,85.5L400.7,85.5L401.0,95.1L401.2,101.0L401.4,104.0L401.6,105.6L401.9,106.5L402.1,107.0L402.3,107.3L402.5,107.6L402.8,107.7L403.0,107.9L403.2,108.0L403.5,108.1L403.7,108.2L403.9,108.3L404.1,108.4L404.4,108.5L404.6,108.6L404.8,108.7L405.0,108.7L405.3,108.8L405.5,108.9L405.7,108.9L406.0,109.0L406.2,109.0L406.4,109.1L406.6,109.1L406.9,109.2L407.1,109.2L407.3,109.3L407.9,109.3L408.5,109.4L409.0,109.5L409.6,109.6L410.2,109.6L410.8,109.7L411.4,109.7L411.9,109.8L412.5,109.8L413.1,109.8L413.7,109.9L414.3,109.9L414.8,109.9L415.4,110.0L416.0,110.0L416.6,110.0L417.2,110.0L417.7,110.1L418.3,110.1L418.9,110.1L419.5,110.1L420.1,110.2L420.6,110.2L421.2,110.2L421.8,110.2L422.4,110.2L422.9,110.3L423.5,110.3L424.1,110.3L424.7,110.3L425.3,110.3L425.8,110.4L426.4,110.4L427.0,110.4L427.6,110.4L428.2,110.4L428.7,110.5L429.3,110.5L429.9,110.5L430.5,110.5L431.1,110.5L431.6,110.5L432.2,110.6L432.8,110.6L433.4,110.6L434.0,110.6L434.5,110.6L435.1,110.7L435.7,110.7L436.3,110.7L436.8,110.7L437.4,110.7L438.0,110.7L438.6,110.8L439.2,110.8L439.7,110.8L440.3,110.8L440.9,110.8L441.5,110.9L442.1,110.9L442.6,110.9L443.2,110.9L443.8,110.9L444.4,110.9L445.0,111.0L445.5,111.0L446.1,111.0L446.7,111.0L447.3,111.0L447.9,111.0L448.4,111.1L449.0,111.1L449.6,111.1L450.2,111.1L450.7,111.1L451.3,111.1L451.9,111.2L452.5,111.2L453.1,111.2L453.6,111.2L454.2,111.2L454.8,111.2L455.4,111.3L456.0,111.3L456.5,111.3L457.1,111.3L457.7,111.3L458.3,111.3L458.9,111.4L459.4,111.4L460.0,111.4L460.6,111.4L461.2,111.4L461.8,111.4L462.3,111.5L462.9,111.5L463.5,111.5L464.1,111.5L464.6,111.5L465.2,111.5L465.8,111.5L466.4,111.6L467.0,111.6L467.5,111.6L468.1,111.6L468.7,111.6L469.3,111.6L469.9,111.7L470.4,111.7L471.0,111.7L471.6,111.7L472.2,111.7L472.8,111.7L473.3,111.7L473.9,111.8L474.5,111.8L475.1,111.8L475.7,111.8L476.2,111.8L476.8,111.8L477.4,111.8L478.0,111.9L478.5,111.9L479.1,111.9L479.7,111.9L480.3,111.9L480.9,111.9L481.4,112.0L482.0,112.0L482.6,112.0L483.2,112.0L483.8,112.0L484.3,112.0L484.9,112.0L485.5,112.1L486.1,112.1L486.7,112.1L487.2,112.1L487.8,112.1L488.4,112.1L489.0,112.1L489.6,112.2L490.1,112.2L490.7,112.2L491.3,112.2L491.9,112.2L492.4,112.2L493.0,112.2L493.6,112.2L494.2,112.3L494.8,112.3L495.3,112.3L495.9,112.3L496.5,112.3L497.1,112.3L497.7,112.3L498.2,112.4L498.8,112.4L499.4,112.4" fill="none" stroke="#EE6E68" stroke-width="1.0" stroke-linejoin="round" />
<path d="M351.4,119.1L351.6,113.5L351.8,109.4L352.0,106.3L352.2,104.1L352.4,102.5L352.6,101.4L352.8,100.5L353.0,99.9L353.2,99.4L353.5,99.1L353.7,98.8L353.9,98.6L354.1,98.5L354.3,98.4L354.5,98.3L354.7,98.3L354.9,98.2L355.1,98.2L355.3,98.2L355.5,98.2L355.7,98.2L355.9,98.2L356.1,98.2L356.3,98.1L356.7,98.1L357.1,98.1L357.6,98.1L358.0,98.1L358.4,98.1L358.8,98.1L359.2,98.1L359.6,98.1L360.0,98.1L360.4,98.1L360.8,98.1L361.2,98.1L361.6,98.1L362.0,98.1L362.4,98.1L362.9,98.1L363.3,98.1L363.7,98.1L364.1,98.1L364.5,98.1L364.9,98.1L365.3,98.1L365.7,98.1L366.1,98.1L366.5,98.1L366.9,98.1L367.3,98.1L367.7,98.1L368.1,98.1L368.6,98.1L369.0,98.1L369.4,98.1L369.8,98.1L370.2,98.1L370.6,98.1L371.0,98.1L371.4,98.1L371.8,98.1L372.2,98.1L372.6,98.1L373.0,98.1L373.4,98.1L373.8,98.1L374.3,98.1L374.7,98.1L375.1,98.1L375.5,98.1L375.9,98.1L376.3,98.1L376.7,98.1L377.1,98.1L377.5,98.1L377.9,98.1L378.3,98.1L378.7,98.1L379.1,98.1L379.6,98.1L380.0,98.1L380.4,98.1L380.8,98.1L381.2,98.1L381.6,98.1L382.0,98.1L382.4,98.1L382.8,98.1L383.2,98.1L383.6,98.1L384.0,98.1L384.4,98.1L384.8,98.1L385.3,98.1L385.7,98.1L386.1,98.1L386.5,98.1L386.9,98.1L387.3,98.1L387.7,98.1L388.1,98.1L388.5,98.1L388.9,98.1L389.3,98.1L389.7,98.1L390.1,98.1L390.5,98.1L391.0,98.1L391.4,98.1L391.8,98.1L392.2,98.1L392.6,98.1L393.0,98.1L393.4,98.1L393.8,98.1L394.2,98.1L394.6,98.1L395.0,98.1L395.4,98.1L395.8,98.1L396.3,98.1L396.7,98.1L397.1,98.1L397.5,98.1L397.9,98.1L398.3,98.1L398.7,98.1L399.1,98.1L399.5,98.1L399.9,98.1L400.3,98.1L400.7,98.1L401.0,103.5L401.2,107.1L401.4,109.0L401.6,110.0L401.9,110.6L402.1,110.9L402.3,111.1L402.5,111.2L402.8,111.3L403.0,111.4L403.2,111.5L403.5,111.6L403.7,111.6L403.9,111.7L404.1,111.8L404.4,111.8L404.6,111.9L404.8,111.9L405.0,112.0L405.3,112.0L405.5,112.0L405.7,112.1L406.0,112.1L406.2,112.1L406.4,112.2L406.6,112.2L406.9,112.2L407.1,112.3L407.3,112.3L407.9,112.3L408.5,112.4L409.0,112.4L409.6,112.5L410.2,112.5L410.8,112.6L411.4,112.6L411.9,112.6L412.5,112.6L413.1,112.7L413.7,112.7L414.3,112.7L414.8,112.7L415.4,112.7L416.0,112.7L416.6,112.8L417.2,112.8L417.7,112.8L418.3,112.8L418.9,112.8L419.5,112.8L420.1,112.9L420.6,112.9L421.2,112.9L421.8,112.9L422.4,112.9L422.9,112.9L423.5,112.9L424.1,112.9L424.7,113.0L425.3,113.0L425.8,113.0L426.4,113.0L427.0,113.0L427.6,113.0L428.2,113.0L428.7,113.0L429.3,113.0L429.9,113.1L430.5,113.1L431.1,113.1L431.6,113.1L432.2,113.1L432.8,113.1L433.4,113.1L434.0,113.1L434.5,113.1L435.1,113.2L435.7,113.2L436.3,113.2L436.8,113.2L437.4,113.2L438.0,113.2L438.6,113.2L439.2,113.2L439.7,113.2L440.3,113.3L440.9,113.3L441.5,113.3L442.1,113.3L442.6,113.3L443.2,113.3L443.8,113.3L444.4,113.3L445.0,113.3L445.5,113.4L446.1,113.4L446.7,113.4L447.3,113.4L447.9,113.4L448.4,113.4L449.0,113.4L449.6,113.4L450.2,113.4L450.7,113.5L451.3,113.5L451.9,113.5L452.5,113.5L453.1,113.5L453.6,113.5L454.2,113.5L454.8,113.5L455.4,113.5L456.0,113.5L456.5,113.6L457.1,113.6L457.7,113.6L458.3,113.6L458.9,113.6L459.4,113.6L460.0,113.6L460.6,113.6L461.2,113.6L461.8,113.6L462.3,113.7L462.9,113.7L463.5,113.7L464.1,113.7L464.6,113.7L465.2,113.7L465.8,113.7L466.4,113.7L467.0,113.7L467.5,113.7L468.1,113.8L468.7,113.8L469.3,113.8L469.9,113.8L470.4,113.8L471.0,113.8L471.6,113.8L472.2,113.8L472.8,113.8L473.3,113.8L473.9,113.8L474.5,113.9L475.1,113.9L475.7,113.9L476.2,113.9L476.8,113.9L477.4,113.9L478.0,113.9L478.5,113.9L479.1,113.9L479.7,113.9L480.3,113.9L480.9,114.0L481.4,114.0L482.0,114.0L482.6,114.0L483.2,114.0L483.8,114.0L484.3,114.0L484.9,114.0L485.5,114.0L486.1,114.0L486.7,114.0L487.2,114.1L487.8,114.1L488.4,114.1L489.0,114.1L489.6,114.1L490.1,114.1L490.7,114.1L491.3,114.1L491.9,114.1L492.4,114.1L493.0,114.1L493.6,114.2L494.2,114.2L494.8,114.2L495.3,114.2L495.9,114.2L496.5,114.2L497.1,114.2L497.7,114.2L498.2,114.2L498.8,114.2L499.4,114.2" fill="none" stroke="#EE6E68" stroke-width="1.0" stroke-linejoin="round" />
<path d="M351.4,119.1L351.6,116.5L351.8,114.5L352.0,112.9L352.2,111.7L352.4,110.8L352.6,110.0L352.8,109.4L353.0,109.0L353.2,108.6L353.5,108.4L353.7,108.1L353.9,108.0L354.1,107.9L354.3,107.8L354.5,107.7L354.7,107.6L354.9,107.6L355.1,107.5L355.3,107.5L355.5,107.5L355.7,107.5L355.9,107.4L356.1,107.4L356.3,107.4L356.7,107.4L357.1,107.4L357.6,107.4L358.0,107.4L358.4,107.4L358.8,107.4L359.2,107.4L359.6,107.4L360.0,107.4L360.4,107.4L360.8,107.4L361.2,107.4L361.6,107.4L362.0,107.4L362.4,107.4L362.9,107.4L363.3,107.4L363.7,107.4L364.1,107.4L364.5,107.4L364.9,107.4L365.3,107.4L365.7,107.4L366.1,107.4L366.5,107.4L366.9,107.4L367.3,107.4L367.7,107.4L368.1,107.4L368.6,107.4L369.0,107.4L369.4,107.4L369.8,107.4L370.2,107.4L370.6,107.4L371.0,107.4L371.4,107.4L371.8,107.4L372.2,107.4L372.6,107.4L373.0,107.4L373.4,107.4L373.8,107.4L374.3,107.4L374.7,107.4L375.1,107.4L375.5,107.4L375.9,107.4L376.3,107.4L376.7,107.4L377.1,107.4L377.5,107.4L377.9,107.4L378.3,107.4L378.7,107.4L379.1,107.4L379.6,107.4L380.0,107.4L380.4,107.4L380.8,107.4L381.2,107.4L381.6,107.4L382.0,107.4L382.4,107.4L382.8,107.4L383.2,107.4L383.6,107.4L384.0,107.4L384.4,107.4L384.8,107.4L385.3,107.4L385.7,107.4L386.1,107.4L386.5,107.4L386.9,107.4L387.3,107.4L387.7,107.4L388.1,107.4L388.5,107.4L388.9,107.4L389.3,107.4L389.7,107.4L390.1,107.4L390.5,107.4L391.0,107.4L391.4,107.4L391.8,107.4L392.2,107.4L392.6,107.4L393.0,107.4L393.4,107.4L393.8,107.4L394.2,107.4L394.6,107.4L395.0,107.4L395.4,107.4L395.8,107.4L396.3,107.4L396.7,107.4L397.1,107.4L397.5,107.4L397.9,107.4L398.3,107.4L398.7,107.4L399.1,107.4L399.5,107.4L399.9,107.4L400.3,107.4L400.7,107.4L401.0,109.6L401.2,111.6L401.4,112.7L401.6,113.2L401.9,113.5L402.1,113.7L402.3,113.8L402.5,113.9L402.8,114.0L403.0,114.0L403.2,114.1L403.5,114.1L403.7,114.1L403.9,114.2L404.1,114.2L404.4,114.2L404.6,114.3L404.8,114.3L405.0,114.3L405.3,114.3L405.5,114.4L405.7,114.4L406.0,114.4L406.2,114.4L406.4,114.4L406.6,114.5L406.9,114.5L407.1,114.5L407.3,114.5L407.9,114.5L408.5,114.6L409.0,114.6L409.6,114.6L410.2,114.6L410.8,114.7L411.4,114.7L411.9,114.7L412.5,114.7L413.1,114.7L413.7,114.7L414.3,114.7L414.8,114.7L415.4,114.8L416.0,114.8L416.6,114.8L417.2,114.8L417.7,114.8L418.3,114.8L418.9,114.8L419.5,114.8L420.1,114.8L420.6,114.8L421.2,114.8L421.8,114.8L422.4,114.8L422.9,114.9L423.5,114.9L424.1,114.9L424.7,114.9L425.3,114.9L425.8,114.9L426.4,114.9L427.0,114.9L427.6,114.9L428.2,114.9L428.7,114.9L429.3,114.9L429.9,114.9L430.5,114.9L431.1,114.9L431.6,115.0L432.2,115.0L432.8,115.0L433.4,115.0L434.0,115.0L434.5,115.0L435.1,115.0L435.7,115.0L436.3,115.0L436.8,115.0L437.4,115.0L438.0,115.0L438.6,115.0L439.2,115.0L439.7,115.0L440.3,115.0L440.9,115.1L441.5,115.1L442.1,115.1L442.6,115.1L443.2,115.1L443.8,115.1L444.4,115.1L445.0,115.1L445.5,115.1L446.1,115.1L446.7,115.1L447.3,115.1L447.9,115.1L448.4,115.1L449.0,115.1L449.6,115.1L450.2,115.1L450.7,115.2L451.3,115.2L451.9,115.2L452.5,115.2L453.1,115.2L453.6,115.2L454.2,115.2L454.8,115.2L455.4,115.2L456.0,115.2L456.5,115.2L457.1,115.2L457.7,115.2L458.3,115.2L458.9,115.2L459.4,115.2L460.0,115.2L460.6,115.2L461.2,115.3L461.8,115.3L462.3,115.3L462.9,115.3L463.5,115.3L464.1,115.3L464.6,115.3L465.2,115.3L465.8,115.3L466.4,115.3L467.0,115.3L467.5,115.3L468.1,115.3L468.7,115.3L469.3,115.3L469.9,115.3L470.4,115.3L471.0,115.3L471.6,115.4L472.2,115.4L472.8,115.4L473.3,115.4L473.9,115.4L474.5,115.4L475.1,115.4L475.7,115.4L476.2,115.4L476.8,115.4L477.4,115.4L478.0,115.4L478.5,115.4L479.1,115.4L479.7,115.4L480.3,115.4L480.9,115.4L481.4,115.4L482.0,115.4L482.6,115.4L483.2,115.5L483.8,115.5L484.3,115.5L484.9,115.5L485.5,115.5L486.1,115.5L486.7,115.5L487.2,115.5L487.8,115.5L488.4,115.5L489.0,115.5L489.6,115.5L490.1,115.5L490.7,115.5L491.3,115.5L491.9,115.5L492.4,115.5L493.0,115.5L493.6,115.5L494.2,115.5L494.8,115.6L495.3,115.6L495.9,115.6L496.5,115.6L497.1,115.6L497.7,115.6L498.2,115.6L498.8,115.6L499.4,115.6" fill="none" stroke="#EE6E68" stroke-width="1.0" stroke-linejoin="round" />
<path d="M351.4,119.1L351.6,118.0L351.8,117.1L352.0,116.4L352.2,115.8L352.4,115.2L352.6,114.8L352.8,114.5L353.0,114.2L353.2,113.9L353.5,113.7L353.7,113.6L353.9,113.4L354.1,113.3L354.3,113.2L354.5,113.1L354.7,113.1L354.9,113.0L355.1,113.0L355.3,112.9L355.5,112.9L355.7,112.9L355.9,112.9L356.1,112.8L356.3,112.8L356.7,112.8L357.1,112.8L357.6,112.8L358.0,112.8L358.4,112.8L358.8,112.8L359.2,112.8L359.6,112.8L360.0,112.8L360.4,112.8L360.8,112.8L361.2,112.8L361.6,112.8L362.0,112.8L362.4,112.8L362.9,112.8L363.3,112.8L363.7,112.8L364.1,112.8L364.5,112.8L364.9,112.8L365.3,112.8L365.7,112.8L366.1,112.8L366.5,112.8L366.9,112.8L367.3,112.8L367.7,112.8L368.1,112.8L368.6,112.8L369.0,112.8L369.4,112.8L369.8,112.8L370.2,112.8L370.6,112.8L371.0,112.8L371.4,112.8L371.8,112.8L372.2,112.8L372.6,112.8L373.0,112.8L373.4,112.8L373.8,112.8L374.3,112.8L374.7,112.8L375.1,112.8L375.5,112.8L375.9,112.8L376.3,112.8L376.7,112.8L377.1,112.8L377.5,112.8L377.9,112.8L378.3,112.8L378.7,112.8L379.1,112.8L379.6,112.8L380.0,112.8L380.4,112.8L380.8,112.8L381.2,112.8L381.6,112.8L382.0,112.8L382.4,112.8L382.8,112.8L383.2,112.8L383.6,112.8L384.0,112.8L384.4,112.8L384.8,112.8L385.3,112.8L385.7,112.8L386.1,112.8L386.5,112.8L386.9,112.8L387.3,112.8L387.7,112.8L388.1,112.8L388.5,112.8L388.9,112.8L389.3,112.8L389.7,112.8L390.1,112.8L390.5,112.8L391.0,112.8L391.4,112.8L391.8,112.8L392.2,112.8L392.6,112.8L393.0,112.8L393.4,112.8L393.8,112.8L394.2,112.8L394.6,112.8L395.0,112.8L395.4,112.8L395.8,112.8L396.3,112.8L396.7,112.8L397.1,112.8L397.5,112.8L397.9,112.8L398.3,112.8L398.7,112.8L399.1,112.8L399.5,112.8L399.9,112.8L400.3,112.8L400.7,112.8L401.0,113.1L401.2,114.2L401.4,114.8L401.6,115.1L401.9,115.3L402.1,115.4L402.3,115.4L402.5,115.5L402.8,115.5L403.0,115.5L403.2,115.5L403.5,115.6L403.7,115.6L403.9,115.6L404.1,115.6L404.4,115.6L404.6,115.7L404.8,115.7L405.0,115.7L405.3,115.7L405.5,115.7L405.7,115.7L406.0,115.7L406.2,115.7L406.4,115.8L406.6,115.8L406.9,115.8L407.1,115.8L407.3,115.8L407.9,115.8L408.5,115.8L409.0,115.8L409.6,115.8L410.2,115.9L410.8,115.9L411.4,115.9L411.9,115.9L412.5,115.9L413.1,115.9L413.7,115.9L414.3,115.9L414.8,115.9L415.4,115.9L416.0,115.9L416.6,115.9L417.2,115.9L417.7,115.9L418.3,115.9L418.9,115.9L419.5,116.0L420.1,116.0L420.6,116.0L421.2,116.0L421.8,116.0L422.4,116.0L422.9,116.0L423.5,116.0L424.1,116.0L424.7,116.0L425.3,116.0L425.8,116.0L426.4,116.0L427.0,116.0L427.6,116.0L428.2,116.0L428.7,116.0L429.3,116.0L429.9,116.0L430.5,116.0L431.1,116.0L431.6,116.0L432.2,116.0L432.8,116.0L433.4,116.0L434.0,116.0L434.5,116.0L435.1,116.0L435.7,116.1L436.3,116.1L436.8,116.1L437.4,116.1L438.0,116.1L438.6,116.1L439.2,116.1L439.7,116.1L440.3,116.1L440.9,116.1L441.5,116.1L442.1,116.1L442.6,116.1L443.2,116.1L443.8,116.1L444.4,116.1L445.0,116.1L445.5,116.1L446.1,116.1L446.7,116.1L447.3,116.1L447.9,116.1L448.4,116.1L449.0,116.1L449.6,116.1L450.2,116.1L450.7,116.1L451.3,116.1L451.9,116.1L452.5,116.1L453.1,116.1L453.6,116.2L454.2,116.2L454.8,116.2L455.4,116.2L456.0,116.2L456.5,116.2L457.1,116.2L457.7,116.2L458.3,116.2L458.9,116.2L459.4,116.2L460.0,116.2L460.6,116.2L461.2,116.2L461.8,116.2L462.3,116.2L462.9,116.2L463.5,116.2L464.1,116.2L464.6,116.2L465.2,116.2L465.8,116.2L466.4,116.2L467.0,116.2L467.5,116.2L468.1,116.2L468.7,116.2L469.3,116.2L469.9,116.2L470.4,116.2L471.0,116.2L471.6,116.2L472.2,116.2L472.8,116.3L473.3,116.3L473.9,116.3L474.5,116.3L475.1,116.3L475.7,116.3L476.2,116.3L476.8,116.3L477.4,116.3L478.0,116.3L478.5,116.3L479.1,116.3L479.7,116.3L480.3,116.3L480.9,116.3L481.4,116.3L482.0,116.3L482.6,116.3L483.2,116.3L483.8,116.3L484.3,116.3L484.9,116.3L485.5,116.3L486.1,116.3L486.7,116.3L487.2,116.3L487.8,116.3L488.4,116.3L489.0,116.3L489.6,116.3L490.1,116.3L490.7,116.3L491.3,116.3L491.9,116.3L492.4,116.3L493.0,116.3L493.6,116.3L494.2,116.4L494.8,116.4L495.3,116.4L495.9,116.4L496.5,116.4L497.1,116.4L497.7,116.4L498.2,116.4L498.8,116.4L499.4,116.4" fill="none" stroke="#EE6E68" stroke-width="1.0" stroke-linejoin="round" />
<path d="M351.4,119.1L351.6,118.7L351.8,118.3L352.0,118.0L352.2,117.8L352.4,117.5L352.6,117.3L352.8,117.1L353.0,116.9L353.2,116.8L353.5,116.7L353.7,116.6L353.9,116.4L354.1,116.4L354.3,116.3L354.5,116.2L354.7,116.1L354.9,116.1L355.1,116.0L355.3,116.0L355.5,116.0L355.7,115.9L355.9,115.9L356.1,115.9L356.3,115.9L356.7,115.8L357.1,115.8L357.6,115.8L358.0,115.8L358.4,115.7L358.8,115.7L359.2,115.7L359.6,115.7L360.0,115.7L360.4,115.7L360.8,115.7L361.2,115.7L361.6,115.7L362.0,115.7L362.4,115.7L362.9,115.7L363.3,115.7L363.7,115.7L364.1,115.7L364.5,115.7L364.9,115.7L365.3,115.7L365.7,115.7L366.1,115.7L366.5,115.7L366.9,115.7L367.3,115.7L367.7,115.7L368.1,115.7L368.6,115.7L369.0,115.7L369.4,115.7L369.8,115.7L370.2,115.7L370.6,115.7L371.0,115.7L371.4,115.7L371.8,115.7L372.2,115.7L372.6,115.7L373.0,115.7L373.4,115.7L373.8,115.7L374.3,115.7L374.7,115.7L375.1,115.7L375.5,115.7L375.9,115.7L376.3,115.7L376.7,115.7L377.1,115.7L377.5,115.7L377.9,115.7L378.3,115.7L378.7,115.7L379.1,115.7L379.6,115.7L380.0,115.7L380.4,115.7L380.8,115.7L381.2,115.7L381.6,115.7L382.0,115.7L382.4,115.7L382.8,115.7L383.2,115.7L383.6,115.7L384.0,115.7L384.4,115.7L384.8,115.7L385.3,115.7L385.7,115.7L386.1,115.7L386.5,115.7L386.9,115.7L387.3,115.7L387.7,115.7L388.1,115.7L388.5,115.7L388.9,115.7L389.3,115.7L389.7,115.7L390.1,115.7L390.5,115.7L391.0,115.7L391.4,115.7L391.8,115.7L392.2,115.7L392.6,115.7L393.0,115.7L393.4,115.7L393.8,115.7L394.2,115.7L394.6,115.7L395.0,115.7L395.4,115.7L395.8,115.7L396.3,115.7L396.7,115.7L397.1,115.7L397.5,115.7L397.9,115.7L398.3,115.7L398.7,115.7L399.1,115.7L399.5,115.7L399.9,115.7L400.3,115.7L400.7,115.7L401.0,115.1L401.2,115.6L401.4,116.0L401.6,116.1L401.9,116.2L402.1,116.3L402.3,116.3L402.5,116.3L402.8,116.3L403.0,116.3L403.2,116.4L403.5,116.4L403.7,116.4L403.9,116.4L404.1,116.4L404.4,116.4L404.6,116.4L404.8,116.4L405.0,116.4L405.3,116.4L405.5,116.4L405.7,116.4L406.0,116.5L406.2,116.5L406.4,116.5L406.6,116.5L406.9,116.5L407.1,116.5L407.3,116.5L407.9,116.5L408.5,116.5L409.0,116.5L409.6,116.5L410.2,116.5L410.8,116.5L411.4,116.5L411.9,116.5L412.5,116.5L413.1,116.5L413.7,116.5L414.3,116.6L414.8,116.6L415.4,116.6L416.0,116.6L416.6,116.6L417.2,116.6L417.7,116.6L418.3,116.6L418.9,116.6L419.5,116.6L420.1,116.6L420.6,116.6L421.2,116.6L421.8,116.6L422.4,116.6L422.9,116.6L423.5,116.6L424.1,116.6L424.7,116.6L425.3,116.6L425.8,116.6L426.4,116.6L427.0,116.6L427.6,116.6L428.2,116.6L428.7,116.6L429.3,116.6L429.9,116.6L430.5,116.6L431.1,116.6L431.6,116.6L432.2,116.6L432.8,116.6L433.4,116.6L434.0,116.6L434.5,116.6L435.1,116.6L435.7,116.6L436.3,116.6L436.8,116.6L437.4,116.6L438.0,116.6L438.6,116.6L439.2,116.6L439.7,116.6L440.3,116.6L440.9,116.6L441.5,116.6L442.1,116.6L442.6,116.6L443.2,116.7L443.8,116.7L444.4,116.7L445.0,116.7L445.5,116.7L446.1,116.7L446.7,116.7L447.3,116.7L447.9,116.7L448.4,116.7L449.0,116.7L449.6,116.7L450.2,116.7L450.7,116.7L451.3,116.7L451.9,116.7L452.5,116.7L453.1,116.7L453.6,116.7L454.2,116.7L454.8,116.7L455.4,116.7L456.0,116.7L456.5,116.7L457.1,116.7L457.7,116.7L458.3,116.7L458.9,116.7L459.4,116.7L460.0,116.7L460.6,116.7L461.2,116.7L461.8,116.7L462.3,116.7L462.9,116.7L463.5,116.7L464.1,116.7L464.6,116.7L465.2,116.7L465.8,116.7L466.4,116.7L467.0,116.7L467.5,116.7L468.1,116.7L468.7,116.7L469.3,116.7L469.9,116.7L470.4,116.7L471.0,116.7L471.6,116.7L472.2,116.7L472.8,116.7L473.3,116.7L473.9,116.7L474.5,116.7L475.1,116.7L475.7,116.7L476.2,116.7L476.8,116.7L477.4,116.7L478.0,116.7L478.5,116.8L479.1,116.8L479.7,116.8L480.3,116.8L480.9,116.8L481.4,116.8L482.0,116.8L482.6,116.8L483.2,116.8L483.8,116.8L484.3,116.8L484.9,116.8L485.5,116.8L486.1,116.8L486.7,116.8L487.2,116.8L487.8,116.8L488.4,116.8L489.0,116.8L489.6,116.8L490.1,116.8L490.7,116.8L491.3,116.8L491.9,116.8L492.4,116.8L493.0,116.8L493.6,116.8L494.2,116.8L494.8,116.8L495.3,116.8L495.9,116.8L496.5,116.8L497.1,116.8L497.7,116.8L498.2,116.8L498.8,116.8L499.4,116.8" fill="none" stroke="#EE6E68" stroke-width="1.0" stroke-linejoin="round" />
<path d="M351.4,119.1L351.6,118.9L351.8,118.7L352.0,118.5L352.2,118.3L352.4,118.2L352.6,118.1L352.8,118.0L353.0,117.9L353.2,117.8L353.5,117.7L353.7,117.6L353.9,117.6L354.1,117.5L354.3,117.5L354.5,117.4L354.7,117.4L354.9,117.4L355.1,117.4L355.3,117.3L355.5,117.3L355.7,117.3L355.9,117.3L356.1,117.3L356.3,117.2L356.7,117.2L357.1,117.2L357.6,117.2L358.0,117.2L358.4,117.2L358.8,117.2L359.2,117.2L359.6,117.2L360.0,117.2L360.4,117.2L360.8,117.2L361.2,117.2L361.6,117.2L362.0,117.2L362.4,117.2L362.9,117.2L363.3,117.2L363.7,117.2L364.1,117.2L364.5,117.2L364.9,117.2L365.3,117.2L365.7,117.2L366.1,117.2L366.5,117.2L366.9,117.2L367.3,117.2L367.7,117.2L368.1,117.2L368.6,117.2L369.0,117.2L369.4,117.2L369.8,117.2L370.2,117.2L370.6,117.2L371.0,117.2L371.4,117.2L371.8,117.2L372.2,117.2L372.6,117.2L373.0,117.2L373.4,117.2L373.8,117.2L374.3,117.2L374.7,117.2L375.1,117.2L375.5,117.2L375.9,117.2L376.3,117.2L376.7,117.2L377.1,117.2L377.5,117.2L377.9,117.2L378.3,117.2L378.7,117.2L379.1,117.2L379.6,117.2L380.0,117.2L380.4,117.2L380.8,117.2L381.2,117.2L381.6,117.2L382.0,117.2L382.4,117.2L382.8,117.2L383.2,117.2L383.6,117.2L384.0,117.2L384.4,117.2L384.8,117.2L385.3,117.2L385.7,117.2L386.1,117.2L386.5,117.2L386.9,117.2L387.3,117.2L387.7,117.2L388.1,117.2L388.5,117.2L388.9,117.2L389.3,117.2L389.7,117.2L390.1,117.2L390.5,117.2L391.0,117.2L391.4,117.2L391.8,117.2L392.2,117.2L392.6,117.2L393.0,117.2L393.4,117.2L393.8,117.2L394.2,117.2L394.6,117.2L395.0,117.2L395.4,117.2L395.8,117.2L396.3,117.2L396.7,117.2L397.1,117.2L397.5,117.2L397.9,117.2L398.3,117.2L398.7,117.2L399.1,117.2L399.5,117.2L399.9,117.2L400.3,117.2L400.7,117.2L401.0,116.0L401.2,116.4L401.4,116.5L401.6,116.6L401.9,116.7L402.1,116.7L402.3,116.7L402.5,116.7L402.8,116.7L403.0,116.8L403.2,116.8L403.5,116.8L403.7,116.8L403.9,116.8L404.1,116.8L404.4,116.8L404.6,116.8L404.8,116.8L405.0,116.8L405.3,116.8L405.5,116.8L405.7,116.8L406.0,116.8L406.2,116.8L406.4,116.8L406.6,116.8L406.9,116.8L407.1,116.8L407.3,116.8L407.9,116.8L408.5,116.8L409.0,116.8L409.6,116.9L410.2,116.9L410.8,116.9L411.4,116.9L411.9,116.9L412.5,116.9L413.1,116.9L413.7,116.9L414.3,116.9L414.8,116.9L415.4,116.9L416.0,116.9L416.6,116.9L417.2,116.9L417.7,116.9L418.3,116.9L418.9,116.9L419.5,116.9L420.1,116.9L420.6,116.9L421.2,116.9L421.8,116.9L422.4,116.9L422.9,116.9L423.5,116.9L424.1,116.9L424.7,116.9L425.3,116.9L425.8,116.9L426.4,116.9L427.0,116.9L427.6,116.9L428.2,116.9L428.7,116.9L429.3,116.9L429.9,116.9L430.5,116.9L431.1,116.9L431.6,116.9L432.2,116.9L432.8,116.9L433.4,116.9L434.0,116.9L434.5,116.9L435.1,116.9L435.7,116.9L436.3,116.9L436.8,116.9L437.4,116.9L438.0,116.9L438.6,116.9L439.2,116.9L439.7,116.9L440.3,116.9L440.9,116.9L441.5,116.9L442.1,116.9L442.6,116.9L443.2,116.9L443.8,116.9L444.4,116.9L445.0,116.9L445.5,116.9L446.1,116.9L446.7,116.9L447.3,116.9L447.9,116.9L448.4,116.9L449.0,116.9L449.6,116.9L450.2,116.9L450.7,116.9L451.3,116.9L451.9,116.9L452.5,116.9L453.1,116.9L453.6,116.9L454.2,116.9L454.8,116.9L455.4,116.9L456.0,117.0L456.5,117.0L457.1,117.0L457.7,117.0L458.3,117.0L458.9,117.0L459.4,117.0L460.0,117.0L460.6,117.0L461.2,117.0L461.8,117.0L462.3,117.0L462.9,117.0L463.5,117.0L464.1,117.0L464.6,117.0L465.2,117.0L465.8,117.0L466.4,117.0L467.0,117.0L467.5,117.0L468.1,117.0L468.7,117.0L469.3,117.0L469.9,117.0L470.4,117.0L471.0,117.0L471.6,117.0L472.2,117.0L472.8,117.0L473.3,117.0L473.9,117.0L474.5,117.0L475.1,117.0L475.7,117.0L476.2,117.0L476.8,117.0L477.4,117.0L478.0,117.0L478.5,117.0L479.1,117.0L479.7,117.0L480.3,117.0L480.9,117.0L481.4,117.0L482.0,117.0L482.6,117.0L483.2,117.0L483.8,117.0L484.3,117.0L484.9,117.0L485.5,117.0L486.1,117.0L486.7,117.0L487.2,117.0L487.8,117.0L488.4,117.0L489.0,117.0L489.6,117.0L490.1,117.0L490.7,117.0L491.3,117.0L491.9,117.0L492.4,117.0L493.0,117.0L493.6,117.0L494.2,117.0L494.8,117.0L495.3,117.0L495.9,117.0L496.5,117.0L497.1,117.0L497.7,117.0L498.2,117.0L498.8,117.0L499.4,117.0" fill="none" stroke="#EE6E68" stroke-width="1.0" stroke-linejoin="round" />
<path d="M351.8,84.7L352.0,77.8L352.2,73.4L352.4,70.3L352.6,68.7L352.8,68.0L353.0,67.7L353.2,67.0L353.5,65.8L353.7,65.4L353.9,65.9L354.1,65.6L354.3,66.3L354.5,66.1L354.7,65.9L354.9,66.5L355.1,66.5L355.3,66.0L355.5,66.2L355.7,66.5L355.9,65.9L356.1,66.2L356.3,65.6L356.7,66.0L357.1,66.2L357.6,66.0L358.0,66.1L358.4,66.3L358.8,66.2L359.2,65.7L359.6,65.8L360.0,65.5L360.4,66.8L360.8,66.2L361.2,66.2L361.6,66.0L362.0,66.2L362.4,66.3L362.9,65.7L363.3,66.0L363.7,66.5L364.1,65.5L364.5,65.6L364.9,66.3L365.3,65.7L365.7,66.4L366.1,65.5L366.5,66.1L366.9,66.4L367.3,66.2L367.7,66.4L368.1,66.0L368.6,66.0L369.0,66.0L369.4,66.3L369.8,67.6L370.2,66.0L370.6,66.9L371.0,65.9L371.4,65.5L371.8,65.9L372.2,66.2L372.6,66.1L373.0,66.1L373.4,66.3L373.8,66.3L374.3,66.4L374.7,65.5L375.1,66.0L375.5,65.6L375.9,66.1L376.3,66.0L376.7,66.1L377.1,65.8L377.5,65.7L377.9,65.9L378.3,66.3L378.7,66.4L379.1,65.3L379.6,66.2L380.0,66.2L380.4,65.4L380.8,65.6L381.2,65.8L381.6,66.2L382.0,65.0L382.4,65.9L382.8,65.8L383.2,66.1L383.6,66.7L384.0,66.6L384.4,65.9L384.8,65.9L385.3,66.1L385.7,66.6L386.1,66.7L386.5,66.2L386.9,66.7L387.3,65.6L387.7,65.5L388.1,64.8L388.5,65.7L388.9,66.3L389.3,66.4L389.7,67.6L390.1,66.3L390.5,66.1L391.0,65.6L391.4,65.8L391.8,65.8L392.2,65.9L392.6,65.7L393.0,65.4L393.4,66.5L393.8,66.2L394.2,66.6L394.6,65.3L395.0,65.5L395.4,65.7L395.8,66.6L396.3,66.0L396.7,66.1L397.1,66.0L397.5,66.1L397.9,65.8L398.3,66.2L398.7,65.7L399.1,65.9L399.5,66.2L399.9,66.1L400.3,66.2L400.7,65.7" fill="none" stroke="#4DAAE3" stroke-width="1.1" stroke-linejoin="round" />
<path d="M401.2,92.8L401.4,97.7L401.6,100.7L401.9,101.0L402.1,102.7L402.3,102.4L402.5,102.9L402.8,104.1L403.0,104.0L403.2,104.0L403.5,104.3L403.7,104.6L403.9,103.9L404.1,104.5L404.4,104.4L404.6,104.9L404.8,104.7L405.0,105.2L405.3,105.0L405.5,104.9L405.7,105.2L406.0,105.5L406.2,105.8L406.4,105.4L406.6,105.4L406.9,105.7L407.1,106.0L407.3,105.5L407.9,104.8L408.5,106.1L409.0,106.0L409.6,106.0L410.2,107.4L410.8,106.3L411.4,106.8L411.9,105.9L412.5,106.7L413.1,107.0L413.7,106.8L414.3,106.7L414.8,107.0L415.4,106.9L416.0,107.5L416.6,107.0L417.2,106.6L417.7,106.1L418.3,106.7L418.9,106.9L419.5,106.6L420.1,106.7L420.6,106.4L421.2,106.7L421.8,107.3L422.4,107.1L422.9,107.2L423.5,107.2L424.1,107.3L424.7,107.7L425.3,108.3L425.8,107.7L426.4,108.4L427.0,107.5L427.6,107.5L428.2,108.3L428.7,107.3L429.3,107.2L429.9,107.6L430.5,106.9L431.1,106.9L431.6,108.3L432.2,107.3L432.8,107.6L433.4,107.6L434.0,107.4L434.5,108.2L435.1,108.2L435.7,108.3L436.3,108.3L436.8,108.0L437.4,108.6L438.0,108.5L438.6,107.8L439.2,108.1L439.7,108.0L440.3,109.0L440.9,108.5L441.5,108.4L442.1,108.2L442.6,108.5L443.2,107.9L443.8,108.3L444.4,108.3L445.0,108.4L445.5,108.1L446.1,108.6L446.7,107.9L447.3,108.3L447.9,108.4L448.4,108.5L449.0,108.3L449.6,108.1L450.2,108.2L450.7,108.5L451.3,108.3L451.9,108.6L452.5,108.2L453.1,108.7L453.6,109.7L454.2,108.2L454.8,108.8L455.4,109.3L456.0,108.9L456.5,109.3L457.1,108.0L457.7,108.7L458.3,109.6L458.9,108.7L459.4,109.2L460.0,108.2L460.6,109.5L461.2,110.1L461.8,109.1L462.3,109.3L462.9,109.3L463.5,110.1L464.1,109.0L464.6,108.5L465.2,110.1L465.8,108.8L466.4,109.6L467.0,108.3L467.5,109.2L468.1,109.5L468.7,108.9L469.3,109.2L469.9,109.7L470.4,109.2L471.0,109.7L471.6,110.3L472.2,108.6L472.8,109.7L473.3,109.9L473.9,109.5L474.5,110.3L475.1,110.2L475.7,109.9L476.2,109.9L476.8,109.7L477.4,109.3L478.0,110.0L478.5,109.6L479.1,109.6L479.7,110.3L480.3,109.8L480.9,110.3L481.4,109.4L482.0,109.7L482.6,109.9L483.2,110.6L483.8,109.9L484.3,110.4L484.9,109.7L485.5,110.1L486.1,110.4L486.7,109.7L487.2,109.8L487.8,110.4L488.4,109.7L489.0,110.3L489.6,110.4L490.1,110.2L490.7,110.6L491.3,110.5L491.9,110.4L492.4,109.7L493.0,109.7L493.6,110.5L494.2,109.7L494.8,110.4L495.3,110.3L495.9,110.1L496.5,110.3L497.1,109.4L497.7,110.4L498.2,111.1L498.8,110.0L499.4,110.8" fill="none" stroke="#4DAAE3" stroke-width="1.1" stroke-linejoin="round" />
<path d="M351.8,100.0L352.0,95.1L352.2,91.7L352.4,89.3L352.6,87.4L352.8,87.0L353.0,85.8L353.2,86.0L353.5,85.5L353.7,84.6L353.9,84.8L354.1,85.4L354.3,84.6L354.5,84.8L354.7,85.0L354.9,84.4L355.1,84.8L355.3,85.3L355.5,85.1L355.7,83.8L355.9,85.2L356.1,84.5L356.3,84.3L356.7,84.3L357.1,85.1L357.6,84.7L358.0,84.5L358.4,84.2L358.8,84.8L359.2,85.1L359.6,84.1L360.0,84.1L360.4,84.4L360.8,84.8L361.2,84.4L361.6,84.5L362.0,84.2L362.4,85.1L362.9,84.5L363.3,84.6L363.7,85.0L364.1,84.5L364.5,84.5L364.9,84.7L365.3,84.4L365.7,85.2L366.1,84.6L366.5,84.4L366.9,84.4L367.3,84.1L367.7,85.1L368.1,85.2L368.6,84.5L369.0,84.4L369.4,83.6L369.8,84.3L370.2,84.9L370.6,84.2L371.0,84.9L371.4,85.2L371.8,83.4L372.2,84.4L372.6,84.2L373.0,84.3L373.4,83.8L373.8,84.4L374.3,84.0L374.7,85.0L375.1,85.2L375.5,83.9L375.9,83.9L376.3,84.3L376.7,84.5L377.1,84.5L377.5,84.9L377.9,83.9L378.3,84.3L378.7,84.3L379.1,84.4L379.6,84.1L380.0,84.3L380.4,84.2L380.8,85.1L381.2,84.3L381.6,83.6L382.0,84.8L382.4,84.6L382.8,84.2L383.2,84.1L383.6,84.3L384.0,85.3L384.4,84.3L384.8,85.1L385.3,84.9L385.7,84.3L386.1,84.7L386.5,84.2L386.9,83.2L387.3,84.2L387.7,84.2L388.1,85.0L388.5,84.8L388.9,85.0L389.3,84.8L389.7,85.0L390.1,84.9L390.5,84.7L391.0,85.0L391.4,85.2L391.8,85.2L392.2,84.4L392.6,84.5L393.0,84.1L393.4,84.1L393.8,84.7L394.2,84.3L394.6,85.2L395.0,83.6L395.4,84.0L395.8,84.7L396.3,85.1L396.7,84.4L397.1,85.4L397.5,84.9L397.9,84.2L398.3,84.5L398.7,84.8L399.1,84.1L399.5,85.0L399.9,84.4L400.3,84.8L400.7,84.9" fill="none" stroke="#4DAAE3" stroke-width="1.1" stroke-linejoin="round" />
<path d="M401.2,102.3L401.4,104.1L401.6,106.8L401.9,106.5L402.1,108.4L402.3,108.0L402.5,109.0L402.8,109.2L403.0,108.7L403.2,108.6L403.5,109.6L403.7,108.6L403.9,109.6L404.1,109.3L404.4,109.2L404.6,109.2L404.8,110.3L405.0,108.9L405.3,109.4L405.5,109.9L405.7,110.3L406.0,110.6L406.2,110.5L406.4,109.7L406.6,110.2L406.9,110.6L407.1,110.3L407.3,109.5L407.9,110.4L408.5,110.6L409.0,109.8L409.6,110.3L410.2,110.5L410.8,110.8L411.4,111.3L411.9,111.2L412.5,110.9L413.1,110.8L413.7,110.6L414.3,110.6L414.8,110.7L415.4,110.8L416.0,111.3L416.6,111.9L417.2,111.2L417.7,111.4L418.3,111.3L418.9,111.1L419.5,111.6L420.1,111.5L420.6,111.1L421.2,111.1L421.8,111.4L422.4,110.9L422.9,111.3L423.5,111.6L424.1,111.2L424.7,110.4L425.3,111.5L425.8,110.7L426.4,110.7L427.0,110.6L427.6,111.7L428.2,110.5L428.7,111.3L429.3,111.5L429.9,111.5L430.5,111.1L431.1,111.4L431.6,111.5L432.2,110.9L432.8,111.8L433.4,112.0L434.0,111.2L434.5,111.2L435.1,111.1L435.7,112.0L436.3,111.1L436.8,111.4L437.4,110.9L438.0,112.2L438.6,111.6L439.2,111.8L439.7,112.4L440.3,112.0L440.9,111.2L441.5,112.0L442.1,112.1L442.6,111.4L443.2,111.4L443.8,111.4L444.4,112.2L445.0,111.9L445.5,111.4L446.1,112.2L446.7,112.2L447.3,111.6L447.9,111.3L448.4,112.5L449.0,113.1L449.6,112.6L450.2,112.5L450.7,112.1L451.3,111.8L451.9,112.1L452.5,112.4L453.1,112.0L453.6,112.5L454.2,112.1L454.8,112.4L455.4,111.0L456.0,111.8L456.5,112.6L457.1,112.6L457.7,112.4L458.3,113.0L458.9,112.6L459.4,112.6L460.0,111.9L460.6,112.5L461.2,112.7L461.8,112.9L462.3,112.9L462.9,112.4L463.5,112.5L464.1,111.9L464.6,112.7L465.2,112.0L465.8,112.3L466.4,112.5L467.0,113.4L467.5,113.1L468.1,112.2L468.7,111.9L469.3,112.4L469.9,112.2L470.4,112.7L471.0,112.7L471.6,112.9L472.2,112.2L472.8,112.5L473.3,112.7L473.9,112.8L474.5,112.4L475.1,112.5L475.7,113.1L476.2,112.0L476.8,112.6L477.4,112.7L478.0,112.1L478.5,112.3L479.1,112.8L479.7,112.6L480.3,113.3L480.9,113.1L481.4,113.8L482.0,112.3L482.6,113.7L483.2,112.6L483.8,113.3L484.3,113.4L484.9,113.0L485.5,112.8L486.1,112.7L486.7,112.2L487.2,112.8L487.8,112.6L488.4,113.3L489.0,112.7L489.6,113.0L490.1,113.3L490.7,113.1L491.3,113.1L491.9,113.0L492.4,112.9L493.0,113.4L493.6,113.5L494.2,112.8L494.8,113.9L495.3,113.5L495.9,112.5L496.5,114.4L497.1,113.5L497.7,112.9L498.2,114.0L498.8,112.1L499.4,114.4" fill="none" stroke="#4DAAE3" stroke-width="1.1" stroke-linejoin="round" />
<path d="M351.8,108.1L352.0,105.5L352.2,103.1L352.4,102.0L352.6,100.1L352.8,100.1L353.0,99.1L353.2,98.1L353.5,98.6L353.7,98.1L353.9,97.7L354.1,98.2L354.3,97.0L354.5,97.3L354.7,98.0L354.9,97.4L355.1,97.7L355.3,97.6L355.5,97.2L355.7,97.6L355.9,96.8L356.1,97.6L356.3,96.8L356.7,97.3L357.1,96.9L357.6,97.5L358.0,97.5L358.4,97.7L358.8,97.0L359.2,96.8L359.6,96.3L360.0,96.7L360.4,97.1L360.8,97.3L361.2,97.1L361.6,97.2L362.0,96.6L362.4,96.8L362.9,97.6L363.3,97.5L363.7,96.6L364.1,97.1L364.5,97.3L364.9,96.7L365.3,97.4L365.7,97.4L366.1,97.4L366.5,98.1L366.9,96.9L367.3,97.8L367.7,97.5L368.1,97.6L368.6,96.9L369.0,97.3L369.4,97.2L369.8,98.0L370.2,97.3L370.6,97.9L371.0,97.1L371.4,97.1L371.8,97.2L372.2,96.3L372.6,97.0L373.0,97.0L373.4,97.2L373.8,97.3L374.3,96.8L374.7,96.8L375.1,97.8L375.5,96.8L375.9,97.0L376.3,96.8L376.7,97.0L377.1,97.8L377.5,97.8L377.9,96.4L378.3,97.1L378.7,97.9L379.1,97.1L379.6,97.4L380.0,98.0L380.4,98.2L380.8,97.9L381.2,97.1L381.6,97.3L382.0,97.3L382.4,97.1L382.8,97.0L383.2,98.2L383.6,97.4L384.0,97.6L384.4,97.8L384.8,97.5L385.3,97.3L385.7,97.4L386.1,97.9L386.5,97.4L386.9,96.4L387.3,97.7L387.7,98.0L388.1,97.1L388.5,97.0L388.9,97.0L389.3,97.7L389.7,96.8L390.1,97.6L390.5,97.7L391.0,97.5L391.4,97.3L391.8,96.9L392.2,97.0L392.6,97.2L393.0,96.8L393.4,97.2L393.8,96.8L394.2,97.9L394.6,97.9L395.0,96.9L395.4,97.8L395.8,97.4L396.3,97.3L396.7,97.5L397.1,97.4L397.5,96.6L397.9,98.3L398.3,96.8L398.7,96.2L399.1,97.2L399.5,97.2L399.9,96.9L400.3,96.4L400.7,97.8" fill="none" stroke="#4DAAE3" stroke-width="1.1" stroke-linejoin="round" />
<path d="M401.2,108.1L401.4,109.7L401.6,110.8L401.9,111.2L402.1,112.0L402.3,112.0L402.5,112.4L402.8,112.5L403.0,112.4L403.2,112.5L403.5,113.0L403.7,111.9L403.9,112.7L404.1,113.3L404.4,112.2L404.6,113.1L404.8,112.6L405.0,112.9L405.3,112.8L405.5,112.9L405.7,113.2L406.0,113.0L406.2,112.2L406.4,114.1L406.6,113.1L406.9,112.9L407.1,113.6L407.3,113.8L407.9,112.3L408.5,113.5L409.0,112.4L409.6,113.1L410.2,113.4L410.8,113.2L411.4,113.2L411.9,113.0L412.5,113.3L413.1,113.5L413.7,113.5L414.3,113.0L414.8,113.3L415.4,114.1L416.0,113.9L416.6,113.5L417.2,114.0L417.7,113.9L418.3,114.1L418.9,113.8L419.5,113.6L420.1,113.3L420.6,113.8L421.2,112.9L421.8,113.8L422.4,112.4L422.9,113.4L423.5,113.6L424.1,114.1L424.7,115.1L425.3,113.9L425.8,113.8L426.4,113.0L427.0,114.5L427.6,113.1L428.2,114.0L428.7,113.6L429.3,115.1L429.9,113.9L430.5,114.1L431.1,113.7L431.6,114.0L432.2,114.5L432.8,113.6L433.4,113.7L434.0,113.8L434.5,113.6L435.1,113.6L435.7,114.1L436.3,114.7L436.8,114.7L437.4,113.5L438.0,113.8L438.6,114.1L439.2,114.3L439.7,114.1L440.3,114.1L440.9,114.3L441.5,114.5L442.1,113.2L442.6,114.1L443.2,114.5L443.8,114.8L444.4,114.6L445.0,113.9L445.5,113.9L446.1,114.4L446.7,114.3L447.3,114.4L447.9,114.8L448.4,113.7L449.0,114.2L449.6,113.2L450.2,114.7L450.7,114.4L451.3,114.0L451.9,114.5L452.5,115.0L453.1,114.8L453.6,114.4L454.2,114.3L454.8,114.5L455.4,114.0L456.0,114.0L456.5,114.3L457.1,114.5L457.7,114.6L458.3,114.2L458.9,114.1L459.4,114.5L460.0,114.3L460.6,114.7L461.2,115.2L461.8,115.0L462.3,114.2L462.9,114.4L463.5,113.9L464.1,114.6L464.6,114.2L465.2,114.0L465.8,114.2L466.4,114.9L467.0,114.7L467.5,114.6L468.1,115.1L468.7,114.5L469.3,114.2L469.9,114.9L470.4,113.8L471.0,114.8L471.6,114.8L472.2,114.8L472.8,115.0L473.3,114.6L473.9,114.7L474.5,114.0L475.1,114.5L475.7,114.5L476.2,114.9L476.8,115.4L477.4,114.8L478.0,115.2L478.5,114.4L479.1,114.8L479.7,114.1L480.3,114.5L480.9,114.5L481.4,114.8L482.0,114.8L482.6,114.6L483.2,114.5L483.8,115.2L484.3,114.7L484.9,113.8L485.5,115.0L486.1,115.1L486.7,115.3L487.2,115.6L487.8,114.4L488.4,114.9L489.0,114.9L489.6,114.2L490.1,113.9L490.7,115.4L491.3,114.6L491.9,114.8L492.4,114.9L493.0,114.8L493.6,115.1L494.2,114.4L494.8,114.8L495.3,114.9L495.9,114.5L496.5,114.7L497.1,114.9L497.7,115.0L498.2,114.3L498.8,114.9L499.4,115.2" fill="none" stroke="#4DAAE3" stroke-width="1.1" stroke-linejoin="round" />
<path d="M351.8,114.1L352.0,112.0L352.2,110.7L352.4,110.8L352.6,109.1L352.8,108.2L353.0,108.0L353.2,108.2L353.5,106.9L353.7,107.6L353.9,107.6L354.1,107.4L354.3,106.9L354.5,106.3L354.7,106.2L354.9,106.6L355.1,107.2L355.3,106.9L355.5,107.0L355.7,106.6L355.9,107.3L356.1,106.5L356.3,106.2L356.7,106.6L357.1,106.3L357.6,106.9L358.0,107.1L358.4,106.8L358.8,106.0L359.2,106.0L359.6,106.7L360.0,106.0L360.4,106.6L360.8,105.8L361.2,106.3L361.6,106.7L362.0,106.2L362.4,106.8L362.9,106.9L363.3,107.1L363.7,106.4L364.1,106.5L364.5,106.5L364.9,106.7L365.3,105.9L365.7,106.7L366.1,106.8L366.5,106.0L366.9,105.9L367.3,106.4L367.7,107.3L368.1,106.8L368.6,106.2L369.0,106.5L369.4,105.8L369.8,107.1L370.2,106.2L370.6,106.8L371.0,105.9L371.4,106.5L371.8,106.0L372.2,106.8L372.6,107.1L373.0,107.0L373.4,106.8L373.8,106.9L374.3,106.0L374.7,105.9L375.1,106.4L375.5,107.0L375.9,106.6L376.3,106.8L376.7,105.9L377.1,106.4L377.5,106.3L377.9,106.7L378.3,107.4L378.7,106.8L379.1,107.0L379.6,106.3L380.0,106.5L380.4,106.9L380.8,106.7L381.2,105.8L381.6,106.9L382.0,106.9L382.4,106.6L382.8,106.8L383.2,106.7L383.6,106.3L384.0,105.7L384.4,107.3L384.8,106.5L385.3,106.5L385.7,106.5L386.1,106.6L386.5,106.6L386.9,106.1L387.3,106.7L387.7,106.6L388.1,106.5L388.5,106.5L388.9,106.6L389.3,106.1L389.7,106.5L390.1,106.4L390.5,106.5L391.0,106.9L391.4,106.9L391.8,107.0L392.2,106.4L392.6,106.8L393.0,107.0L393.4,106.4L393.8,106.3L394.2,107.3L394.6,105.8L395.0,106.5L395.4,106.5L395.8,106.0L396.3,106.5L396.7,106.8L397.1,105.5L397.5,107.0L397.9,106.5L398.3,106.1L398.7,107.0L399.1,106.5L399.5,106.3L399.9,105.4L400.3,106.9L400.7,106.5" fill="none" stroke="#4DAAE3" stroke-width="1.1" stroke-linejoin="round" />
<path d="M401.2,112.5L401.4,114.1L401.6,113.9L401.9,114.4L402.1,114.4L402.3,114.2L402.5,114.4L402.8,114.7L403.0,114.8L403.2,115.4L403.5,115.1L403.7,114.9L403.9,115.3L404.1,115.1L404.4,115.5L404.6,114.5L404.8,114.2L405.0,115.4L405.3,115.1L405.5,115.4L405.7,114.7L406.0,115.1L406.2,115.3L406.4,115.4L406.6,115.3L406.9,115.8L407.1,115.1L407.3,115.7L407.9,115.2L408.5,115.4L409.0,115.0L409.6,115.5L410.2,115.1L410.8,116.0L411.4,115.3L411.9,115.7L412.5,115.5L413.1,115.6L413.7,115.2L414.3,116.5L414.8,115.5L415.4,116.3L416.0,115.1L416.6,116.5L417.2,116.1L417.7,116.4L418.3,115.0L418.9,116.3L419.5,115.7L420.1,116.0L420.6,116.5L421.2,115.9L421.8,115.4L422.4,115.8L422.9,115.3L423.5,115.9L424.1,115.8L424.7,115.9L425.3,115.6L425.8,115.0L426.4,115.6L427.0,115.7L427.6,116.1L428.2,116.1L428.7,115.2L429.3,116.3L429.9,116.2L430.5,115.9L431.1,116.0L431.6,115.0L432.2,116.9L432.8,115.7L433.4,115.6L434.0,116.4L434.5,116.2L435.1,115.7L435.7,115.2L436.3,116.3L436.8,116.6L437.4,115.5L438.0,115.3L438.6,116.1L439.2,116.9L439.7,115.3L440.3,116.0L440.9,115.5L441.5,116.0L442.1,116.1L442.6,116.2L443.2,115.3L443.8,115.4L444.4,116.9L445.0,116.4L445.5,115.2L446.1,116.2L446.7,116.6L447.3,116.0L447.9,116.1L448.4,116.1L449.0,116.2L449.6,116.2L450.2,116.2L450.7,115.9L451.3,116.4L451.9,116.2L452.5,116.1L453.1,115.5L453.6,115.9L454.2,116.1L454.8,115.9L455.4,115.9L456.0,115.6L456.5,115.9L457.1,115.3L457.7,115.5L458.3,116.1L458.9,116.3L459.4,115.8L460.0,115.9L460.6,116.2L461.2,116.8L461.8,117.0L462.3,116.0L462.9,115.8L463.5,115.8L464.1,116.7L464.6,115.7L465.2,116.4L465.8,116.0L466.4,116.0L467.0,116.6L467.5,116.5L468.1,117.1L468.7,116.6L469.3,117.0L469.9,116.0L470.4,116.2L471.0,115.8L471.6,116.1L472.2,116.5L472.8,116.1L473.3,116.4L473.9,116.0L474.5,116.1L475.1,116.7L475.7,116.3L476.2,116.3L476.8,116.4L477.4,115.9L478.0,115.6L478.5,116.5L479.1,116.5L479.7,117.3L480.3,116.4L480.9,116.5L481.4,117.3L482.0,116.2L482.6,116.1L483.2,116.7L483.8,116.5L484.3,116.8L484.9,116.0L485.5,117.0L486.1,116.5L486.7,115.5L487.2,116.4L487.8,116.2L488.4,116.5L489.0,116.9L489.6,116.4L490.1,116.2L490.7,116.9L491.3,116.3L491.9,115.9L492.4,116.0L493.0,117.1L493.6,116.9L494.2,117.2L494.8,116.0L495.3,116.2L495.9,116.2L496.5,116.9L497.1,117.0L497.7,116.4L498.2,116.4L498.8,116.9L499.4,116.4" fill="none" stroke="#4DAAE3" stroke-width="1.1" stroke-linejoin="round" />
<path d="M351.8,116.7L352.0,116.4L352.2,115.0L352.4,114.3L352.6,114.0L352.8,113.8L353.0,113.6L353.2,112.7L353.5,112.9L353.7,112.6L353.9,113.0L354.1,112.7L354.3,112.2L354.5,112.7L354.7,112.7L354.9,112.3L355.1,111.6L355.3,112.0L355.5,111.4L355.7,112.0L355.9,112.1L356.1,112.6L356.3,112.2L356.7,111.3L357.1,111.8L357.6,111.6L358.0,111.6L358.4,111.9L358.8,112.0L359.2,111.8L359.6,111.6L360.0,111.7L360.4,111.6L360.8,111.8L361.2,112.2L361.6,112.0L362.0,112.3L362.4,111.4L362.9,112.8L363.3,112.0L363.7,110.8L364.1,112.0L364.5,112.4L364.9,111.9L365.3,111.3L365.7,111.9L366.1,111.6L366.5,111.8L366.9,112.0L367.3,110.5L367.7,111.8L368.1,112.1L368.6,112.1L369.0,111.7L369.4,111.7L369.8,111.5L370.2,111.8L370.6,112.5L371.0,111.6L371.4,112.0L371.8,112.0L372.2,112.5L372.6,112.1L373.0,112.2L373.4,111.9L373.8,112.5L374.3,111.8L374.7,111.8L375.1,112.4L375.5,112.1L375.9,112.2L376.3,111.5L376.7,113.0L377.1,112.0L377.5,112.6L377.9,112.1L378.3,111.5L378.7,112.1L379.1,111.8L379.6,112.2L380.0,111.0L380.4,111.5L380.8,111.4L381.2,112.4L381.6,112.3L382.0,111.4L382.4,111.9L382.8,112.0L383.2,111.7L383.6,112.4L384.0,111.5L384.4,111.9L384.8,111.7L385.3,112.2L385.7,111.6L386.1,112.2L386.5,111.4L386.9,111.4L387.3,111.5L387.7,111.6L388.1,111.6L388.5,113.0L388.9,111.5L389.3,112.0L389.7,111.8L390.1,112.0L390.5,112.5L391.0,112.1L391.4,111.6L391.8,111.2L392.2,112.1L392.6,112.3L393.0,111.2L393.4,112.2L393.8,111.0L394.2,111.8L394.6,112.3L395.0,111.4L395.4,111.1L395.8,112.5L396.3,111.2L396.7,112.0L397.1,111.2L397.5,112.0L397.9,112.6L398.3,111.6L398.7,111.5L399.1,110.9L399.5,111.1L399.9,111.6L400.3,112.0L400.7,112.1" fill="none" stroke="#4DAAE3" stroke-width="1.1" stroke-linejoin="round" />
<path d="M401.2,115.5L401.4,115.8L401.6,117.1L401.9,116.1L402.1,116.3L402.3,115.2L402.5,116.0L402.8,116.6L403.0,116.2L403.2,117.0L403.5,116.7L403.7,117.3L403.9,115.9L404.1,116.3L404.4,117.1L404.6,116.6L404.8,116.2L405.0,116.4L405.3,116.4L405.5,117.0L405.7,116.9L406.0,116.6L406.2,116.2L406.4,117.0L406.6,117.2L406.9,116.2L407.1,117.1L407.3,116.2L407.9,116.6L408.5,116.3L409.0,116.0L409.6,116.4L410.2,116.4L410.8,117.2L411.4,117.1L411.9,116.5L412.5,116.1L413.1,116.2L413.7,115.8L414.3,116.7L414.8,116.7L415.4,116.4L416.0,116.8L416.6,116.9L417.2,117.3L417.7,116.4L418.3,117.3L418.9,116.6L419.5,117.5L420.1,116.4L420.6,117.3L421.2,116.5L421.8,117.6L422.4,117.1L422.9,116.4L423.5,117.2L424.1,116.9L424.7,117.1L425.3,117.9L425.8,116.8L426.4,116.7L427.0,117.4L427.6,116.7L428.2,117.3L428.7,117.4L429.3,116.9L429.9,117.2L430.5,115.9L431.1,117.6L431.6,116.6L432.2,116.5L432.8,117.8L433.4,117.7L434.0,116.7L434.5,117.2L435.1,116.8L435.7,116.5L436.3,117.1L436.8,117.4L437.4,118.2L438.0,116.9L438.6,117.4L439.2,116.8L439.7,116.9L440.3,117.6L440.9,116.2L441.5,116.5L442.1,116.6L442.6,117.5L443.2,117.2L443.8,117.2L444.4,117.2L445.0,117.5L445.5,116.8L446.1,116.9L446.7,116.9L447.3,117.2L447.9,116.5L448.4,116.9L449.0,118.2L449.6,117.3L450.2,117.1L450.7,116.6L451.3,117.2L451.9,117.2L452.5,117.3L453.1,116.8L453.6,117.2L454.2,117.3L454.8,117.4L455.4,116.8L456.0,117.3L456.5,117.8L457.1,116.8L457.7,117.4L458.3,116.9L458.9,116.9L459.4,116.6L460.0,116.6L460.6,117.3L461.2,117.2L461.8,117.7L462.3,116.4L462.9,116.9L463.5,116.5L464.1,117.2L464.6,118.0L465.2,116.4L465.8,117.1L466.4,117.1L467.0,117.1L467.5,116.8L468.1,116.9L468.7,117.8L469.3,116.7L469.9,117.4L470.4,117.3L471.0,116.4L471.6,116.7L472.2,117.3L472.8,118.0L473.3,117.1L473.9,116.9L474.5,117.2L475.1,117.7L475.7,117.5L476.2,117.7L476.8,117.1L477.4,116.8L478.0,116.7L478.5,117.5L479.1,117.1L479.7,116.9L480.3,117.4L480.9,117.3L481.4,116.3L482.0,117.1L482.6,116.8L483.2,117.4L483.8,117.2L484.3,118.0L484.9,117.2L485.5,116.7L486.1,116.3L486.7,116.7L487.2,116.9L487.8,117.2L488.4,117.5L489.0,117.3L489.6,117.0L490.1,117.6L490.7,116.8L491.3,117.7L491.9,118.0L492.4,117.7L493.0,118.0L493.6,117.9L494.2,116.8L494.8,117.3L495.3,117.2L495.9,116.8L496.5,116.7L497.1,117.5L497.7,116.7L498.2,117.1L498.8,117.3L499.4,117.1" fill="none" stroke="#4DAAE3" stroke-width="1.1" stroke-linejoin="round" />
<path d="M351.8,117.5L352.0,116.9L352.2,117.0L352.4,116.7L352.6,116.0L352.8,115.6L353.0,115.7L353.2,115.3L353.5,115.9L353.7,115.8L353.9,115.4L354.1,115.6L354.3,115.6L354.5,114.6L354.7,115.3L354.9,115.6L355.1,114.9L355.3,114.3L355.5,115.0L355.7,114.5L355.9,115.2L356.1,115.2L356.3,115.3L356.7,115.0L357.1,114.1L357.6,115.4L358.0,114.1L358.4,115.3L358.8,114.9L359.2,114.5L359.6,114.5L360.0,114.7L360.4,115.5L360.8,114.6L361.2,115.2L361.6,113.7L362.0,114.9L362.4,114.7L362.9,115.3L363.3,115.0L363.7,115.4L364.1,114.4L364.5,114.9L364.9,114.5L365.3,115.1L365.7,115.0L366.1,114.2L366.5,115.2L366.9,115.6L367.3,114.6L367.7,115.3L368.1,115.0L368.6,114.4L369.0,115.1L369.4,114.4L369.8,115.1L370.2,114.1L370.6,114.2L371.0,115.0L371.4,114.9L371.8,115.2L372.2,114.7L372.6,114.3L373.0,115.4L373.4,114.4L373.8,115.4L374.3,115.2L374.7,115.6L375.1,113.9L375.5,114.8L375.9,114.7L376.3,115.1L376.7,114.3L377.1,115.7L377.5,114.8L377.9,113.8L378.3,115.0L378.7,114.8L379.1,114.5L379.6,115.1L380.0,114.8L380.4,114.4L380.8,114.7L381.2,114.6L381.6,114.9L382.0,114.6L382.4,114.8L382.8,114.1L383.2,114.5L383.6,114.9L384.0,115.9L384.4,114.5L384.8,114.5L385.3,115.2L385.7,115.7L386.1,115.3L386.5,114.4L386.9,115.3L387.3,115.0L387.7,114.7L388.1,114.3L388.5,114.8L388.9,114.8L389.3,115.0L389.7,114.1L390.1,114.3L390.5,114.8L391.0,115.4L391.4,115.1L391.8,114.5L392.2,115.1L392.6,114.4L393.0,114.6L393.4,114.7L393.8,114.5L394.2,114.6L394.6,115.2L395.0,114.9L395.4,113.8L395.8,115.3L396.3,115.0L396.7,114.3L397.1,114.9L397.5,115.1L397.9,115.4L398.3,114.6L398.7,114.3L399.1,114.2L399.5,114.8L399.9,114.3L400.3,115.2L400.7,114.7" fill="none" stroke="#4DAAE3" stroke-width="1.1" stroke-linejoin="round" />
<path d="M401.2,116.5L401.4,116.5L401.6,116.5L401.9,117.5L402.1,116.6L402.3,117.4L402.5,117.7L402.8,117.3L403.0,117.9L403.2,117.3L403.5,117.1L403.7,117.4L403.9,117.1L404.1,117.4L404.4,117.3L404.6,117.9L404.8,117.3L405.0,117.7L405.3,117.5L405.5,117.4L405.7,117.3L406.0,118.1L406.2,118.0L406.4,117.5L406.6,117.2L406.9,117.2L407.1,117.0L407.3,116.8L407.9,117.2L408.5,117.4L409.0,117.9L409.6,117.8L410.2,117.6L410.8,117.3L411.4,117.3L411.9,117.4L412.5,117.5L413.1,117.2L413.7,117.4L414.3,117.3L414.8,117.3L415.4,117.7L416.0,117.9L416.6,117.2L417.2,117.3L417.7,117.6L418.3,117.7L418.9,116.5L419.5,117.8L420.1,117.6L420.6,117.4L421.2,118.0L421.8,117.4L422.4,116.7L422.9,117.1L423.5,117.2L424.1,117.2L424.7,117.4L425.3,117.1L425.8,117.6L426.4,117.7L427.0,117.5L427.6,117.1L428.2,117.4L428.7,117.2L429.3,118.4L429.9,117.0L430.5,116.5L431.1,116.9L431.6,117.7L432.2,117.9L432.8,117.4L433.4,118.0L434.0,117.2L434.5,117.8L435.1,117.1L435.7,116.9L436.3,118.4L436.8,117.4L437.4,117.8L438.0,118.2L438.6,117.8L439.2,117.6L439.7,117.1L440.3,118.2L440.9,117.1L441.5,116.7L442.1,117.3L442.6,117.3L443.2,117.6L443.8,118.1L444.4,117.3L445.0,117.4L445.5,117.2L446.1,116.4L446.7,117.2L447.3,117.4L447.9,116.9L448.4,118.2L449.0,118.1L449.6,117.7L450.2,117.9L450.7,117.3L451.3,117.7L451.9,116.8L452.5,116.9L453.1,117.2L453.6,117.8L454.2,117.3L454.8,117.2L455.4,118.1L456.0,117.4L456.5,117.3L457.1,117.5L457.7,116.9L458.3,117.1L458.9,118.0L459.4,117.5L460.0,118.0L460.6,117.3L461.2,118.0L461.8,117.2L462.3,117.4L462.9,117.2L463.5,117.7L464.1,118.3L464.6,116.8L465.2,117.7L465.8,117.0L466.4,117.4L467.0,117.3L467.5,116.8L468.1,117.5L468.7,117.0L469.3,118.3L469.9,117.2L470.4,117.7L471.0,117.7L471.6,117.6L472.2,117.5L472.8,116.9L473.3,118.4L473.9,117.6L474.5,118.0L475.1,117.1L475.7,117.8L476.2,117.4L476.8,117.8L477.4,117.4L478.0,117.2L478.5,117.8L479.1,117.6L479.7,118.3L480.3,117.5L480.9,117.3L481.4,117.9L482.0,117.2L482.6,118.6L483.2,118.5L483.8,118.3L484.3,117.9L484.9,117.7L485.5,117.7L486.1,117.7L486.7,117.4L487.2,117.9L487.8,118.2L488.4,118.2L489.0,116.7L489.6,118.7L490.1,117.8L490.7,117.0L491.3,117.5L491.9,118.0L492.4,117.7L493.0,117.3L493.6,117.2L494.2,118.1L494.8,117.4L495.3,117.6L495.9,117.2L496.5,117.1L497.1,117.8L497.7,118.3L498.2,117.5L498.8,116.9L499.4,117.4" fill="none" stroke="#4DAAE3" stroke-width="1.1" stroke-linejoin="round" />
<path d="M351.8,118.2L352.0,117.2L352.2,117.7L352.4,117.3L352.6,117.1L352.8,116.4L353.0,117.4L353.2,117.1L353.5,117.5L353.7,116.5L353.9,116.9L354.1,116.4L354.3,117.1L354.5,116.7L354.7,116.1L354.9,116.6L355.1,116.2L355.3,116.2L355.5,116.6L355.7,117.1L355.9,115.9L356.1,116.3L356.3,115.9L356.7,117.2L357.1,117.0L357.6,117.2L358.0,116.7L358.4,115.8L358.8,116.0L359.2,116.3L359.6,116.2L360.0,115.9L360.4,116.4L360.8,116.1L361.2,116.2L361.6,117.2L362.0,116.4L362.4,115.7L362.9,116.4L363.3,116.3L363.7,116.5L364.1,116.5L364.5,115.8L364.9,116.4L365.3,116.7L365.7,117.6L366.1,116.5L366.5,117.1L366.9,117.1L367.3,115.9L367.7,115.9L368.1,117.1L368.6,115.9L369.0,116.0L369.4,116.6L369.8,115.9L370.2,117.0L370.6,116.8L371.0,116.9L371.4,116.7L371.8,115.9L372.2,116.8L372.6,116.8L373.0,116.7L373.4,116.2L373.8,116.4L374.3,115.9L374.7,116.6L375.1,116.8L375.5,116.5L375.9,116.2L376.3,116.7L376.7,116.1L377.1,115.5L377.5,116.5L377.9,116.2L378.3,115.7L378.7,116.5L379.1,116.6L379.6,116.7L380.0,116.1L380.4,116.0L380.8,116.3L381.2,116.2L381.6,115.7L382.0,115.9L382.4,116.9L382.8,116.3L383.2,116.2L383.6,115.9L384.0,116.4L384.4,116.5L384.8,116.5L385.3,117.0L385.7,116.3L386.1,116.5L386.5,116.1L386.9,116.7L387.3,116.5L387.7,116.7L388.1,116.7L388.5,116.0L388.9,116.5L389.3,116.1L389.7,116.8L390.1,116.2L390.5,117.0L391.0,116.5L391.4,116.5L391.8,116.0L392.2,116.2L392.6,116.3L393.0,115.9L393.4,116.2L393.8,116.0L394.2,115.9L394.6,116.3L395.0,116.4L395.4,116.1L395.8,116.5L396.3,116.1L396.7,115.8L397.1,115.9L397.5,116.4L397.9,116.8L398.3,116.3L398.7,116.3L399.1,115.8L399.5,116.4L399.9,116.4L400.3,115.9L400.7,116.5" fill="none" stroke="#4DAAE3" stroke-width="1.1" stroke-linejoin="round" />
<path d="M401.2,116.5L401.4,116.8L401.6,117.3L401.9,117.5L402.1,118.0L402.3,117.4L402.5,117.6L402.8,117.6L403.0,117.9L403.2,117.7L403.5,117.8L403.7,117.6L403.9,117.1L404.1,117.5L404.4,118.4L404.6,118.1L404.8,118.4L405.0,118.1L405.3,117.5L405.5,117.6L405.7,118.0L406.0,117.6L406.2,118.1L406.4,118.4L406.6,118.4L406.9,118.1L407.1,117.1L407.3,118.3L407.9,117.2L408.5,117.2L409.0,117.8L409.6,117.8L410.2,118.0L410.8,117.8L411.4,117.5L411.9,117.8L412.5,117.4L413.1,117.3L413.7,117.6L414.3,117.7L414.8,117.8L415.4,117.6L416.0,118.3L416.6,117.6L417.2,117.7L417.7,118.2L418.3,116.9L418.9,118.2L419.5,118.2L420.1,117.7L420.6,118.7L421.2,118.2L421.8,118.5L422.4,118.2L422.9,117.9L423.5,117.7L424.1,117.3L424.7,117.5L425.3,117.3L425.8,117.6L426.4,118.0L427.0,117.3L427.6,118.0L428.2,118.1L428.7,117.2L429.3,117.5L429.9,117.7L430.5,117.5L431.1,117.4L431.6,118.4L432.2,117.9L432.8,118.4L433.4,117.8L434.0,118.1L434.5,117.2L435.1,117.6L435.7,118.2L436.3,117.8L436.8,118.4L437.4,117.8L438.0,117.6L438.6,117.7L439.2,118.7L439.7,118.0L440.3,117.6L440.9,117.7L441.5,117.3L442.1,118.4L442.6,117.6L443.2,118.1L443.8,117.8L444.4,117.7L445.0,117.6L445.5,118.1L446.1,117.8L446.7,118.4L447.3,118.5L447.9,117.6L448.4,117.9L449.0,118.6L449.6,118.2L450.2,117.9L450.7,117.2L451.3,117.4L451.9,117.5L452.5,118.7L453.1,117.9L453.6,117.7L454.2,117.7L454.8,117.7L455.4,118.0L456.0,117.1L456.5,117.2L457.1,117.9L457.7,118.3L458.3,117.0L458.9,118.1L459.4,117.4L460.0,117.0L460.6,118.3L461.2,117.8L461.8,118.0L462.3,117.7L462.9,117.7L463.5,117.0L464.1,117.6L464.6,117.9L465.2,117.4L465.8,118.0L466.4,118.1L467.0,116.9L467.5,118.3L468.1,118.1L468.7,117.9L469.3,118.4L469.9,118.8L470.4,117.4L471.0,118.2L471.6,118.1L472.2,118.1L472.8,118.3L473.3,118.4L473.9,117.8L474.5,116.9L475.1,117.6L475.7,117.6L476.2,118.6L476.8,117.9L477.4,118.4L478.0,117.6L478.5,118.0L479.1,117.9L479.7,118.0L480.3,118.2L480.9,118.6L481.4,117.7L482.0,118.5L482.6,118.4L483.2,118.0L483.8,118.2L484.3,117.8L484.9,117.5L485.5,117.8L486.1,117.8L486.7,117.9L487.2,117.5L487.8,118.7L488.4,117.8L489.0,118.3L489.6,118.5L490.1,117.9L490.7,118.1L491.3,117.7L491.9,117.4L492.4,119.0L493.0,118.0L493.6,117.1L494.2,117.6L494.8,117.3L495.3,117.9L495.9,118.6L496.5,118.4L497.1,117.6L497.7,117.5L498.2,118.3L498.8,118.1L499.4,117.8" fill="none" stroke="#4DAAE3" stroke-width="1.1" stroke-linejoin="round" />
<path d="M28.0,118.2L28.4,114.5L28.8,113.0L29.2,112.5L29.6,113.0L30.1,112.5L30.5,113.1L30.9,113.1L31.3,113.5L31.7,112.7L32.1,113.0L32.5,112.4L32.9,112.9L33.4,112.9L33.8,113.4L34.2,112.6L34.6,113.0L35.0,113.0L35.4,113.5L35.8,112.7L36.2,112.7L36.7,113.1L37.1,112.9L37.5,112.9L37.9,112.7L38.3,112.9L38.7,112.5L39.1,113.0L39.5,113.1L39.9,113.1L40.4,113.6L40.8,113.1L41.2,112.7L41.6,112.9L42.0,113.1L42.4,112.9L42.8,113.4L43.2,113.0L43.7,112.8L44.1,112.8L44.5,113.1L44.9,112.7L45.3,112.5L45.7,113.1L46.1,112.8L46.5,113.3L47.0,113.4L47.4,112.8L47.8,112.9L48.2,112.9L48.6,113.1L49.0,113.0L49.4,112.8L49.8,112.5L50.2,113.0L50.7,113.4L51.1,112.6L51.5,112.8L51.9,112.8L52.3,112.9L52.7,112.4L53.1,112.9L53.5,112.8L54.0,113.4L54.4,113.1L54.8,113.1L55.2,113.0L55.6,112.9L56.0,113.1L56.4,112.5L56.8,113.2L57.3,113.1L57.7,112.9L58.1,113.3L58.5,112.8L58.9,112.8L59.3,113.0L59.7,112.5L60.1,112.9L60.5,112.9L61.0,113.2L61.4,113.4L61.8,113.1L62.2,113.0L62.6,113.1L63.0,112.8L63.4,113.5L63.8,113.2L64.3,113.4L64.7,112.6L65.1,113.1L65.5,113.1L65.9,113.2L66.3,112.7L66.7,113.0L67.1,112.9L67.5,113.4L68.0,112.7L68.4,112.9L68.8,112.8L69.2,112.6L69.6,113.0L70.0,113.0L70.4,112.8L70.8,112.8L71.3,113.0L71.7,112.9L72.1,113.1L72.5,112.8L72.9,112.7L73.3,112.9L73.7,112.5L74.1,113.3L74.6,113.0L75.0,112.5L75.4,113.0L75.8,113.3L76.2,112.6L76.6,112.8L77.0,113.2L77.4,113.2L77.8,114.5L78.3,115.2L78.7,115.3L79.1,115.6L79.5,116.0L79.9,115.9L80.3,116.1L80.7,115.9L81.1,116.0L81.6,115.8L82.0,116.1L82.4,116.3L82.8,116.3L83.2,116.1L83.6,115.6L84.0,115.8L84.4,116.2L84.9,115.8L85.3,116.3L85.7,115.8L86.1,116.1L86.5,115.8L86.9,115.9L87.3,116.1L87.7,115.9L88.1,116.3L88.6,116.0L89.0,115.8L89.4,115.0L89.8,115.8L90.2,116.0L90.6,116.3L91.0,115.8L91.4,116.4L91.9,116.2L92.3,115.9L92.7,116.3L93.1,115.6L93.5,115.8L93.9,116.2L94.3,116.2L94.7,116.3L95.2,116.4L95.6,115.9L96.0,115.9L96.4,115.9L96.8,116.0L97.2,116.2L97.6,115.9L98.0,116.4L98.4,116.0L98.9,115.7L99.3,115.7L99.7,116.1L100.1,116.1L100.5,115.7L100.9,115.6L101.3,116.4L101.7,116.1L102.2,116.0L102.6,115.7L103.0,116.2L103.4,115.9L103.8,116.1L104.2,115.4L104.6,115.9L105.0,116.1L105.5,116.1L105.9,115.8L106.3,115.9L106.7,116.3L107.1,116.0L107.5,116.3L107.9,116.2L108.3,116.3L108.7,116.3L109.2,116.2L109.6,116.3L110.0,115.9L110.4,115.8L110.8,116.1L111.2,116.3L111.6,115.8L112.0,116.5L112.5,116.5L112.9,115.8L113.3,115.9L113.7,115.8L114.1,116.1L114.5,116.3L114.9,116.1L115.3,115.9L115.8,116.2L116.2,116.2L116.6,116.4L117.0,116.3L117.4,115.8L117.8,115.9L118.2,116.3L118.6,116.3L119.0,116.2L119.5,115.9L119.9,116.3L120.3,116.1L120.7,116.5L121.1,116.3L121.5,115.9L121.9,115.8L122.3,116.3L122.8,116.2L123.2,115.8L123.6,116.1L124.0,116.1L124.4,115.9L124.8,116.0L125.2,115.7L125.6,115.8L126.1,116.2L126.5,116.0L126.9,116.0L127.3,116.3L127.7,116.3L128.1,115.8L128.5,116.4L128.9,115.8L129.3,115.9L129.8,116.1L130.2,115.9L130.6,115.9L131.0,115.7L131.4,116.1L131.8,116.1L132.2,116.1L132.6,115.6L133.1,115.8L133.5,116.2L133.9,116.1L134.3,116.2L134.7,116.0L135.1,116.0L135.5,115.5L135.9,116.5L136.4,115.8L136.8,115.9L137.2,116.2L137.6,116.1L138.0,116.1L138.4,116.0L138.8,115.8L139.2,116.4L139.6,115.7L140.1,116.1L140.5,115.6L140.9,115.9L141.3,115.7L141.7,115.9L142.1,115.8L142.5,116.0L142.9,116.2L143.4,115.9L143.8,115.8L144.2,115.5L144.6,116.5L145.0,116.1L145.4,115.8L145.8,116.3L146.2,116.1L146.6,115.5L147.1,115.7L147.5,116.2L147.9,115.7L148.3,115.7L148.7,115.8L149.1,115.9L149.5,116.0L149.9,116.2L150.4,116.1L150.8,115.8L151.2,116.0L151.6,115.6L152.0,116.1L152.4,116.6L152.8,116.1L153.2,115.9L153.7,115.9L154.1,116.0L154.5,116.2L154.9,115.6L155.3,116.2L155.7,115.8L156.1,116.1L156.5,116.3L156.9,115.7L157.4,116.6L157.8,116.2L158.2,115.9L158.6,116.1L159.0,115.8L159.4,116.0L159.8,116.1L160.2,115.5L160.7,116.1L161.1,116.1L161.5,116.3L161.9,116.2L162.3,115.9L162.7,115.9L163.1,116.0L163.5,116.2L164.0,115.8L164.4,116.4L164.8,116.1L165.2,116.1L165.6,116.2L166.0,116.0L166.4,116.2L166.8,116.2L167.2,115.6L167.7,115.8L168.1,115.7L168.5,116.0L168.9,115.8L169.3,115.8L169.7,115.7L170.1,115.4L170.5,116.1L171.0,115.9L171.4,116.0L171.8,116.9L172.2,116.3L172.6,116.0L173.0,115.9L173.4,116.1L173.8,115.7L174.3,115.7L174.7,116.1L175.1,115.7L175.5,115.6L175.9,115.9" fill="none" stroke="#231F20" stroke-width="1.0" stroke-linejoin="round" />
<path d="M28.0,118.2L28.4,115.3L28.8,115.7L29.2,115.7L29.6,115.3L30.1,115.7L30.5,114.7L30.9,114.9L31.3,114.7L31.7,115.0L32.1,115.8L32.5,115.5L32.9,114.9L33.4,115.6L33.8,113.7L34.2,115.5L34.6,115.7L35.0,114.7L35.4,114.9L35.8,115.4L36.2,115.5L36.7,115.1L37.1,114.9L37.5,114.9L37.9,115.5L38.3,115.1L38.7,114.9L39.1,114.9L39.5,117.2L39.9,115.9L40.4,115.8L40.8,115.5L41.2,115.3L41.6,114.8L42.0,115.0L42.4,115.4L42.8,115.4L43.2,114.3L43.7,115.7L44.1,115.2L44.5,114.5L44.9,115.2L45.3,116.6L45.7,115.2L46.1,115.6L46.5,115.4L47.0,114.8L47.4,115.1L47.8,115.5L48.2,114.9L48.6,115.1L49.0,115.3L49.4,115.2L49.8,115.2L50.2,115.6L50.7,115.6L51.1,115.4L51.5,115.9L51.9,116.1L52.3,114.6L52.7,115.5L53.1,115.4L53.5,115.5L54.0,115.4L54.4,115.4L54.8,115.3L55.2,115.8L55.6,114.8L56.0,115.8L56.4,114.8L56.8,116.5L57.3,116.0L57.7,114.8L58.1,115.5L58.5,115.8L58.9,115.2L59.3,116.0L59.7,115.3L60.1,116.7L60.5,115.6L61.0,115.8L61.4,115.1L61.8,114.9L62.2,115.9L62.6,114.4L63.0,115.7L63.4,116.6L63.8,116.8L64.3,114.5L64.7,115.4L65.1,115.8L65.5,115.8L65.9,116.0L66.3,114.6L66.7,115.4L67.1,114.3L67.5,115.5L68.0,116.7L68.4,114.9L68.8,115.6L69.2,115.5L69.6,114.5L70.0,115.5L70.4,114.7L70.8,115.4L71.3,115.8L71.7,115.1L72.1,115.7L72.5,114.7L72.9,114.8L73.3,115.3L73.7,115.0L74.1,115.0L74.6,115.5L75.0,114.8L75.4,115.5L75.8,115.0L76.2,115.9L76.6,115.3L77.0,115.1L77.4,115.9L77.8,116.0L78.3,116.2L78.7,115.6L79.1,116.5L79.5,115.9L79.9,115.3L80.3,116.0L80.7,117.2L81.1,116.2L81.6,115.6L82.0,116.4L82.4,115.6L82.8,115.9L83.2,116.0L83.6,116.4L84.0,116.5L84.4,116.4L84.9,116.2L85.3,115.9L85.7,116.0L86.1,116.4L86.5,116.2L86.9,116.0L87.3,117.2L87.7,116.7L88.1,116.7L88.6,116.4L89.0,116.4L89.4,116.4L89.8,116.8L90.2,115.8L90.6,116.1L91.0,117.2L91.4,116.2L91.9,116.9L92.3,115.2L92.7,116.5L93.1,116.5L93.5,116.2L93.9,116.4L94.3,116.3L94.7,115.3L95.2,116.1L95.6,115.8L96.0,115.6L96.4,116.8L96.8,115.3L97.2,115.8L97.6,115.7L98.0,116.7L98.4,115.8L98.9,116.0L99.3,116.6L99.7,114.9L100.1,115.9L100.5,116.4L100.9,116.1L101.3,115.7L101.7,115.6L102.2,115.9L102.6,115.5L103.0,115.4L103.4,117.0L103.8,116.5L104.2,116.8L104.6,116.2L105.0,115.4L105.5,115.9L105.9,116.9L106.3,116.4L106.7,115.6L107.1,116.5L107.5,116.3L107.9,116.1L108.3,117.3L108.7,115.8L109.2,116.0L109.6,115.9L110.0,116.8L110.4,116.7L110.8,116.6L111.2,116.1L111.6,116.2L112.0,116.2L112.5,115.2L112.9,115.5L113.3,116.7L113.7,116.6L114.1,115.2L114.5,116.4L114.9,115.4L115.3,115.3L115.8,116.6L116.2,116.4L116.6,116.2L117.0,116.7L117.4,116.8L117.8,116.5L118.2,115.7L118.6,116.5L119.0,116.4L119.5,116.5L119.9,117.0L120.3,115.4L120.7,117.6L121.1,116.6L121.5,115.9L121.9,117.1L122.3,115.9L122.8,115.5L123.2,116.7L123.6,116.1L124.0,116.9L124.4,115.9L124.8,116.2L125.2,116.1L125.6,115.4L126.1,116.0L126.5,115.5L126.9,115.9L127.3,116.9L127.7,116.1L128.1,116.0L128.5,117.1L128.9,115.5L129.3,116.2L129.8,116.0L130.2,116.8L130.6,116.2L131.0,116.1L131.4,116.4L131.8,116.2L132.2,117.5L132.6,115.4L133.1,116.9L133.5,117.5L133.9,116.8L134.3,116.7L134.7,115.9L135.1,116.8L135.5,116.1L135.9,116.8L136.4,114.9L136.8,115.9L137.2,115.1L137.6,116.8L138.0,115.9L138.4,116.8L138.8,115.9L139.2,115.8L139.6,117.2L140.1,116.9L140.5,116.9L140.9,117.1L141.3,116.7L141.7,116.8L142.1,117.1L142.5,116.2L142.9,115.9L143.4,117.0L143.8,116.6L144.2,116.2L144.6,116.4L145.0,116.7L145.4,115.8L145.8,115.7L146.2,115.8L146.6,116.4L147.1,115.1L147.5,115.2L147.9,116.5L148.3,116.3L148.7,115.5L149.1,116.7L149.5,116.0L149.9,116.2L150.4,116.7L150.8,116.4L151.2,117.2L151.6,116.6L152.0,117.4L152.4,114.9L152.8,115.4L153.2,115.5L153.7,116.1L154.1,115.7L154.5,115.5L154.9,115.7L155.3,115.7L155.7,116.8L156.1,116.0L156.5,116.6L156.9,116.9L157.4,116.9L157.8,116.0L158.2,115.6L158.6,117.0L159.0,115.2L159.4,115.4L159.8,116.5L160.2,116.5L160.7,116.3L161.1,115.7L161.5,116.5L161.9,116.9L162.3,116.0L162.7,117.5L163.1,116.2L163.5,115.6L164.0,116.1L164.4,115.8L164.8,116.0L165.2,115.8L165.6,116.2L166.0,116.7L166.4,116.4L166.8,116.3L167.2,115.5L167.7,115.3L168.1,116.0L168.5,116.7L168.9,116.7L169.3,116.4L169.7,115.4L170.1,116.1L170.5,116.3L171.0,116.7L171.4,115.7L171.8,116.1L172.2,116.3L172.6,116.2L173.0,115.3L173.4,116.3L173.8,115.3L174.3,115.5L174.7,116.2L175.1,115.7L175.5,116.3L175.9,116.7" fill="none" stroke="#231F20" stroke-width="1.4" stroke-linejoin="round" />
<path d="M28.0,118.2L28.4,117.0L28.8,115.7L29.2,115.8L29.6,115.4L30.1,115.3L30.5,117.6L30.9,115.6L31.3,116.8L31.7,115.7L32.1,116.3L32.5,115.7L32.9,115.0L33.4,116.8L33.8,115.7L34.2,115.8L34.6,116.9L35.0,115.4L35.4,115.7L35.8,116.1L36.2,116.2L36.7,113.9L37.1,116.0L37.5,116.8L37.9,116.3L38.3,116.0L38.7,116.0L39.1,115.8L39.5,116.4L39.9,115.4L40.4,116.0L40.8,116.6L41.2,116.2L41.6,116.0L42.0,115.3L42.4,115.5L42.8,116.0L43.2,115.8L43.7,115.6L44.1,114.6L44.5,116.1L44.9,115.5L45.3,115.3L45.7,116.3L46.1,115.7L46.5,115.7L47.0,116.0L47.4,115.4L47.8,115.2L48.2,115.1L48.6,115.9L49.0,115.7L49.4,114.4L49.8,116.4L50.2,115.6L50.7,115.2L51.1,115.7L51.5,115.4L51.9,115.7L52.3,115.3L52.7,115.0L53.1,115.9L53.5,115.6L54.0,115.8L54.4,116.0L54.8,115.8L55.2,116.4L55.6,115.3L56.0,114.8L56.4,114.8L56.8,115.0L57.3,116.3L57.7,114.9L58.1,116.2L58.5,115.8L58.9,114.7L59.3,116.4L59.7,115.3L60.1,115.6L60.5,115.9L61.0,116.3L61.4,115.5L61.8,116.0L62.2,115.2L62.6,115.0L63.0,116.6L63.4,116.1L63.8,115.9L64.3,116.5L64.7,116.4L65.1,115.7L65.5,115.9L65.9,116.7L66.3,116.1L66.7,115.5L67.1,116.5L67.5,116.3L68.0,114.8L68.4,115.0L68.8,116.7L69.2,116.6L69.6,115.5L70.0,116.5L70.4,115.9L70.8,116.0L71.3,115.4L71.7,117.2L72.1,117.1L72.5,116.5L72.9,115.2L73.3,115.9L73.7,116.8L74.1,115.5L74.6,115.3L75.0,115.9L75.4,116.0L75.8,115.5L76.2,115.1L76.6,115.7L77.0,115.5L77.4,115.9L77.8,116.4L78.3,116.8L78.7,116.3L79.1,116.7L79.5,116.7L79.9,116.0L80.3,116.3L80.7,116.1L81.1,117.5L81.6,116.3L82.0,117.0L82.4,117.1L82.8,117.1L83.2,115.9L83.6,116.2L84.0,117.1L84.4,117.3L84.9,116.6L85.3,116.9L85.7,115.7L86.1,117.5L86.5,117.7L86.9,116.8L87.3,116.6L87.7,116.6L88.1,116.2L88.6,115.4L89.0,116.8L89.4,117.0L89.8,117.7L90.2,116.5L90.6,116.1L91.0,116.8L91.4,115.9L91.9,116.6L92.3,115.8L92.7,116.4L93.1,117.3L93.5,117.0L93.9,117.5L94.3,117.7L94.7,116.5L95.2,116.1L95.6,115.5L96.0,116.7L96.4,116.8L96.8,117.3L97.2,116.1L97.6,116.4L98.0,117.0L98.4,116.2L98.9,116.3L99.3,117.7L99.7,116.2L100.1,116.6L100.5,116.9L100.9,116.9L101.3,115.6L101.7,115.7L102.2,115.6L102.6,117.3L103.0,117.0L103.4,116.1L103.8,117.3L104.2,117.1L104.6,117.7L105.0,115.6L105.5,116.0L105.9,116.4L106.3,116.5L106.7,116.9L107.1,116.9L107.5,116.3L107.9,117.1L108.3,115.9L108.7,116.9L109.2,117.2L109.6,115.9L110.0,116.7L110.4,116.3L110.8,116.9L111.2,118.0L111.6,116.3L112.0,117.4L112.5,116.0L112.9,117.5L113.3,117.7L113.7,116.5L114.1,116.4L114.5,116.6L114.9,117.3L115.3,116.1L115.8,117.5L116.2,116.9L116.6,117.1L117.0,116.9L117.4,116.1L117.8,117.0L118.2,116.3L118.6,116.2L119.0,117.6L119.5,117.3L119.9,116.9L120.3,117.0L120.7,116.5L121.1,117.8L121.5,116.2L121.9,116.2L122.3,116.7L122.8,117.4L123.2,116.6L123.6,117.0L124.0,116.3L124.4,116.7L124.8,116.2L125.2,116.9L125.6,115.8L126.1,118.0L126.5,117.2L126.9,116.4L127.3,117.5L127.7,116.2L128.1,117.4L128.5,116.6L128.9,117.2L129.3,116.9L129.8,116.5L130.2,116.7L130.6,116.9L131.0,115.4L131.4,116.6L131.8,117.2L132.2,116.1L132.6,116.2L133.1,115.9L133.5,115.6L133.9,117.2L134.3,116.0L134.7,116.0L135.1,116.6L135.5,116.5L135.9,118.4L136.4,117.0L136.8,115.6L137.2,117.7L137.6,117.0L138.0,116.5L138.4,116.3L138.8,115.7L139.2,117.7L139.6,116.6L140.1,116.1L140.5,117.4L140.9,116.7L141.3,115.5L141.7,115.9L142.1,116.3L142.5,118.2L142.9,116.7L143.4,116.4L143.8,116.8L144.2,116.7L144.6,114.8L145.0,116.8L145.4,117.2L145.8,116.5L146.2,116.8L146.6,116.8L147.1,116.7L147.5,116.2L147.9,116.5L148.3,117.3L148.7,116.7L149.1,116.4L149.5,116.9L149.9,116.0L150.4,116.2L150.8,117.2L151.2,116.5L151.6,115.5L152.0,115.7L152.4,116.7L152.8,116.1L153.2,117.0L153.7,117.5L154.1,116.3L154.5,116.5L154.9,116.3L155.3,116.7L155.7,116.4L156.1,116.9L156.5,116.4L156.9,116.2L157.4,116.7L157.8,116.2L158.2,117.7L158.6,117.1L159.0,115.8L159.4,115.6L159.8,116.5L160.2,116.7L160.7,117.4L161.1,116.4L161.5,116.2L161.9,117.5L162.3,116.3L162.7,116.4L163.1,116.4L163.5,117.3L164.0,116.3L164.4,117.5L164.8,115.8L165.2,116.6L165.6,117.3L166.0,115.9L166.4,116.0L166.8,117.0L167.2,115.4L167.7,117.2L168.1,116.5L168.5,115.9L168.9,118.0L169.3,116.1L169.7,116.7L170.1,116.6L170.5,117.3L171.0,116.4L171.4,117.3L171.8,117.2L172.2,116.9L172.6,117.4L173.0,115.7L173.4,117.4L173.8,117.1L174.3,116.8L174.7,116.6L175.1,116.2L175.5,116.2L175.9,116.8" fill="none" stroke="#231F20" stroke-width="1.5" stroke-linejoin="round" />
<path d="M28.0,118.2L28.4,116.7L28.8,115.8L29.2,115.7L29.6,116.4L30.1,117.3L30.5,114.9L30.9,115.5L31.3,115.9L31.7,115.9L32.1,116.4L32.5,116.7L32.9,116.3L33.4,116.2L33.8,116.5L34.2,117.0L34.6,116.3L35.0,115.8L35.4,116.4L35.8,116.1L36.2,117.3L36.7,116.2L37.1,116.2L37.5,116.8L37.9,117.1L38.3,115.9L38.7,116.6L39.1,115.8L39.5,116.3L39.9,115.7L40.4,116.3L40.8,117.0L41.2,116.2L41.6,116.3L42.0,115.7L42.4,116.4L42.8,116.3L43.2,115.6L43.7,115.4L44.1,115.7L44.5,115.5L44.9,115.8L45.3,115.7L45.7,115.6L46.1,115.9L46.5,116.1L47.0,116.0L47.4,114.7L47.8,116.1L48.2,116.2L48.6,116.3L49.0,116.1L49.4,116.0L49.8,116.8L50.2,117.3L50.7,115.9L51.1,117.0L51.5,116.0L51.9,116.0L52.3,115.4L52.7,115.1L53.1,115.9L53.5,116.4L54.0,116.8L54.4,116.6L54.8,116.1L55.2,117.3L55.6,116.1L56.0,116.1L56.4,115.7L56.8,116.3L57.3,116.0L57.7,116.5L58.1,116.4L58.5,117.1L58.9,116.0L59.3,115.2L59.7,116.0L60.1,115.9L60.5,116.7L61.0,115.3L61.4,116.6L61.8,115.6L62.2,116.0L62.6,116.7L63.0,115.5L63.4,116.1L63.8,116.0L64.3,115.8L64.7,116.1L65.1,116.3L65.5,115.8L65.9,116.3L66.3,116.1L66.7,116.5L67.1,117.0L67.5,116.5L68.0,116.4L68.4,116.1L68.8,115.4L69.2,117.1L69.6,116.0L70.0,117.4L70.4,116.7L70.8,116.4L71.3,117.4L71.7,117.2L72.1,116.0L72.5,116.1L72.9,116.2L73.3,116.6L73.7,114.8L74.1,116.2L74.6,116.6L75.0,115.1L75.4,115.7L75.8,116.3L76.2,115.4L76.6,116.0L77.0,115.7L77.4,116.1L77.8,117.1L78.3,116.1L78.7,116.7L79.1,117.5L79.5,117.4L79.9,116.4L80.3,117.2L80.7,117.0L81.1,116.6L81.6,116.9L82.0,117.9L82.4,116.7L82.8,116.5L83.2,116.5L83.6,116.1L84.0,116.8L84.4,116.6L84.9,116.1L85.3,117.2L85.7,116.0L86.1,116.0L86.5,116.6L86.9,116.0L87.3,116.5L87.7,117.5L88.1,116.4L88.6,116.8L89.0,116.8L89.4,116.9L89.8,116.2L90.2,116.7L90.6,117.4L91.0,116.7L91.4,116.6L91.9,117.5L92.3,117.3L92.7,117.3L93.1,117.4L93.5,116.8L93.9,116.4L94.3,115.9L94.7,116.3L95.2,116.4L95.6,116.4L96.0,116.2L96.4,117.3L96.8,116.6L97.2,116.8L97.6,117.1L98.0,117.3L98.4,117.3L98.9,117.2L99.3,117.8L99.7,116.7L100.1,117.0L100.5,117.0L100.9,116.8L101.3,116.6L101.7,117.4L102.2,117.1L102.6,118.0L103.0,118.3L103.4,118.2L103.8,116.1L104.2,118.1L104.6,116.8L105.0,116.2L105.5,117.3L105.9,116.1L106.3,115.9L106.7,116.5L107.1,115.6L107.5,116.7L107.9,117.5L108.3,116.7L108.7,117.3L109.2,117.8L109.6,117.8L110.0,115.7L110.4,117.3L110.8,117.0L111.2,117.4L111.6,116.9L112.0,117.2L112.5,117.3L112.9,117.7L113.3,117.9L113.7,117.5L114.1,116.9L114.5,115.8L114.9,116.4L115.3,116.0L115.8,116.7L116.2,117.1L116.6,117.8L117.0,117.0L117.4,118.3L117.8,117.2L118.2,116.1L118.6,116.8L119.0,116.4L119.5,117.2L119.9,117.8L120.3,117.3L120.7,117.3L121.1,116.3L121.5,115.9L121.9,117.5L122.3,117.2L122.8,117.1L123.2,117.2L123.6,117.7L124.0,117.0L124.4,116.8L124.8,116.8L125.2,117.7L125.6,117.1L126.1,118.0L126.5,116.5L126.9,117.6L127.3,117.2L127.7,117.3L128.1,117.4L128.5,117.6L128.9,118.0L129.3,116.0L129.8,116.9L130.2,116.9L130.6,115.8L131.0,117.1L131.4,116.7L131.8,117.0L132.2,116.3L132.6,116.7L133.1,116.8L133.5,117.2L133.9,116.8L134.3,116.3L134.7,118.2L135.1,117.1L135.5,117.3L135.9,117.2L136.4,118.2L136.8,116.6L137.2,117.5L137.6,117.1L138.0,117.3L138.4,118.0L138.8,117.3L139.2,118.1L139.6,117.6L140.1,117.2L140.5,117.0L140.9,117.0L141.3,117.1L141.7,115.8L142.1,116.8L142.5,117.7L142.9,117.4L143.4,117.4L143.8,117.1L144.2,117.4L144.6,117.5L145.0,116.0L145.4,117.0L145.8,117.2L146.2,117.2L146.6,117.1L147.1,116.2L147.5,116.7L147.9,116.4L148.3,118.8L148.7,116.8L149.1,116.4L149.5,115.9L149.9,117.0L150.4,118.0L150.8,116.7L151.2,117.4L151.6,118.1L152.0,117.4L152.4,116.4L152.8,116.3L153.2,116.6L153.7,117.6L154.1,115.5L154.5,117.7L154.9,117.1L155.3,117.9L155.7,116.2L156.1,116.7L156.5,116.5L156.9,117.0L157.4,117.0L157.8,116.9L158.2,118.1L158.6,116.4L159.0,116.5L159.4,117.2L159.8,117.0L160.2,116.8L160.7,116.1L161.1,116.8L161.5,117.0L161.9,117.3L162.3,117.9L162.7,117.4L163.1,117.0L163.5,117.2L164.0,117.0L164.4,116.6L164.8,116.7L165.2,116.8L165.6,116.6L166.0,116.9L166.4,117.0L166.8,116.7L167.2,118.0L167.7,116.3L168.1,117.8L168.5,116.5L168.9,117.0L169.3,116.4L169.7,117.0L170.1,117.6L170.5,116.4L171.0,116.9L171.4,116.9L171.8,117.0L172.2,116.4L172.6,116.5L173.0,116.9L173.4,117.9L173.8,117.2L174.3,116.9L174.7,115.9L175.1,116.8L175.5,117.1L175.9,116.3" fill="none" stroke="#231F20" stroke-width="1.5" stroke-linejoin="round" />
<path d="M28.0,118.2L28.4,116.9L28.8,116.5L29.2,117.3L29.6,115.9L30.1,116.2L30.5,116.6L30.9,117.1L31.3,116.3L31.7,115.6L32.1,116.8L32.5,117.0L32.9,116.2L33.4,117.3L33.8,117.7L34.2,116.7L34.6,116.8L35.0,116.6L35.4,116.7L35.8,116.2L36.2,116.5L36.7,116.8L37.1,116.7L37.5,116.0L37.9,115.9L38.3,115.9L38.7,116.0L39.1,118.3L39.5,117.0L39.9,116.6L40.4,116.3L40.8,117.4L41.2,115.6L41.6,116.2L42.0,116.8L42.4,116.3L42.8,116.6L43.2,116.9L43.7,116.1L44.1,116.7L44.5,117.2L44.9,116.8L45.3,116.5L45.7,117.0L46.1,115.7L46.5,117.0L47.0,115.4L47.4,115.9L47.8,117.0L48.2,116.3L48.6,115.7L49.0,116.5L49.4,117.1L49.8,116.3L50.2,115.2L50.7,117.3L51.1,116.1L51.5,116.4L51.9,116.5L52.3,116.6L52.7,116.6L53.1,115.8L53.5,116.1L54.0,117.0L54.4,115.5L54.8,117.2L55.2,116.0L55.6,116.3L56.0,115.7L56.4,116.2L56.8,115.8L57.3,116.4L57.7,115.8L58.1,116.2L58.5,115.1L58.9,116.8L59.3,115.7L59.7,116.1L60.1,116.3L60.5,116.7L61.0,116.1L61.4,117.3L61.8,117.2L62.2,116.0L62.6,117.3L63.0,115.6L63.4,116.6L63.8,116.3L64.3,116.4L64.7,116.2L65.1,116.6L65.5,116.6L65.9,116.5L66.3,115.8L66.7,115.7L67.1,115.7L67.5,116.2L68.0,116.5L68.4,117.4L68.8,116.0L69.2,115.9L69.6,116.6L70.0,115.9L70.4,115.6L70.8,116.3L71.3,115.8L71.7,116.2L72.1,117.4L72.5,116.7L72.9,116.6L73.3,116.1L73.7,116.9L74.1,116.7L74.6,117.0L75.0,116.4L75.4,116.4L75.8,115.8L76.2,115.9L76.6,116.3L77.0,116.3L77.4,116.5L77.8,116.8L78.3,116.1L78.7,118.6L79.1,117.3L79.5,117.1L79.9,116.6L80.3,118.0L80.7,117.1L81.1,116.9L81.6,117.6L82.0,118.5L82.4,117.6L82.8,118.1L83.2,117.0L83.6,117.9L84.0,116.3L84.4,117.3L84.9,117.8L85.3,117.7L85.7,118.0L86.1,117.1L86.5,116.5L86.9,117.5L87.3,116.8L87.7,117.9L88.1,117.2L88.6,116.0L89.0,118.2L89.4,116.7L89.8,116.7L90.2,118.5L90.6,118.2L91.0,117.9L91.4,116.8L91.9,117.6L92.3,117.5L92.7,117.0L93.1,117.3L93.5,117.2L93.9,117.6L94.3,116.7L94.7,117.8L95.2,116.4L95.6,117.6L96.0,117.8L96.4,117.0L96.8,117.1L97.2,118.5L97.6,117.2L98.0,118.2L98.4,117.9L98.9,116.9L99.3,117.9L99.7,117.2L100.1,117.6L100.5,116.2L100.9,117.4L101.3,118.1L101.7,118.0L102.2,117.9L102.6,117.3L103.0,117.4L103.4,116.8L103.8,117.3L104.2,117.3L104.6,117.2L105.0,117.5L105.5,117.2L105.9,116.9L106.3,116.9L106.7,117.7L107.1,118.4L107.5,117.9L107.9,117.2L108.3,118.8L108.7,117.7L109.2,117.1L109.6,117.7L110.0,118.0L110.4,116.4L110.8,116.6L111.2,117.5L111.6,116.6L112.0,116.6L112.5,118.0L112.9,115.8L113.3,117.9L113.7,117.5L114.1,118.0L114.5,117.3L114.9,118.2L115.3,117.4L115.8,116.8L116.2,117.3L116.6,117.5L117.0,116.5L117.4,117.9L117.8,116.8L118.2,117.6L118.6,117.3L119.0,117.4L119.5,117.3L119.9,117.4L120.3,117.8L120.7,117.7L121.1,117.1L121.5,117.5L121.9,118.1L122.3,117.8L122.8,117.8L123.2,117.4L123.6,117.3L124.0,117.3L124.4,117.8L124.8,117.4L125.2,118.2L125.6,119.1L126.1,117.4L126.5,118.4L126.9,118.0L127.3,118.1L127.7,117.0L128.1,118.1L128.5,117.2L128.9,117.7L129.3,118.1L129.8,118.3L130.2,117.1L130.6,117.2L131.0,117.0L131.4,116.3L131.8,117.2L132.2,117.2L132.6,117.5L133.1,117.3L133.5,117.6L133.9,117.9L134.3,116.2L134.7,118.5L135.1,117.3L135.5,117.2L135.9,117.3L136.4,118.0L136.8,117.5L137.2,117.7L137.6,118.0L138.0,117.4L138.4,117.7L138.8,117.7L139.2,117.0L139.6,118.0L140.1,117.2L140.5,117.8L140.9,117.2L141.3,117.4L141.7,117.3L142.1,118.0L142.5,117.9L142.9,117.9L143.4,117.3L143.8,117.0L144.2,116.8L144.6,117.7L145.0,117.4L145.4,118.4L145.8,118.7L146.2,117.9L146.6,117.8L147.1,118.3L147.5,118.5L147.9,117.1L148.3,117.9L148.7,118.4L149.1,116.1L149.5,117.3L149.9,117.6L150.4,117.0L150.8,117.9L151.2,116.5L151.6,118.3L152.0,118.2L152.4,117.5L152.8,117.9L153.2,116.6L153.7,118.4L154.1,117.9L154.5,117.3L154.9,117.1L155.3,116.9L155.7,117.2L156.1,116.2L156.5,117.7L156.9,117.3L157.4,116.9L157.8,117.6L158.2,117.6L158.6,117.7L159.0,117.8L159.4,118.1L159.8,117.8L160.2,118.3L160.7,117.2L161.1,118.4L161.5,116.2L161.9,116.5L162.3,116.8L162.7,117.6L163.1,117.8L163.5,116.7L164.0,117.3L164.4,117.1L164.8,117.9L165.2,116.8L165.6,117.9L166.0,117.4L166.4,118.5L166.8,117.8L167.2,117.2L167.7,117.7L168.1,117.7L168.5,117.0L168.9,117.5L169.3,116.7L169.7,118.9L170.1,117.1L170.5,117.2L171.0,118.3L171.4,118.2L171.8,116.9L172.2,118.1L172.6,117.8L173.0,117.1L173.4,117.6L173.8,117.2L174.3,118.0L174.7,117.3L175.1,116.8L175.5,117.3L175.9,118.7" fill="none" stroke="#231F20" stroke-width="1.5" stroke-linejoin="round" />
<text x="78.70" y="107.50" font-size="9" fill="#231F20" text-anchor="start" font-weight="normal" >1 μM</text>
<text x="241.70" y="29.50" font-size="9" fill="#231F20" text-anchor="start" font-weight="normal" >1 μM</text>
<text x="244.70" y="63.60" font-size="9" fill="#231F20" text-anchor="start" font-weight="normal" >250 nM</text>
<text x="251.00" y="91.60" font-size="9" fill="#231F20" text-anchor="start" font-weight="normal" >62.5 nM</text>
<text x="403.00" y="67.50" font-size="9" fill="#231F20" text-anchor="start" font-weight="normal" >1 μM</text>
<text x="405.70" y="98.70" font-size="9" fill="#231F20" text-anchor="start" font-weight="normal" >250 nM</text>
<text x="271.4" y="37.2" font-size="9" fill="#EF7D33">K<tspan font-size="5.6" dy="3.0">D</tspan><tspan dy="-3.0">= 11.2±.69 nM</tspan></text>
<text x="271.4" y="50.0" font-size="9" fill="#EF7D33">K<tspan font-size="5.6" dy="3.0">D</tspan><tspan dy="-3.0"> = 408±16 nM</tspan></text>
<text x="412.3" y="34.6" font-size="9" fill="#29ABE2">K<tspan font-size="5.6" dy="3.0">D</tspan><tspan dy="-3.0">= 4±.35 nM</tspan></text>
<text x="412.3" y="47.8" font-size="8.8" fill="#29ABE2">K<tspan font-size="5.6" dy="3.0">D</tspan><tspan dy="-3.0"> = 431±31 nM</tspan></text>
<line x1="525.30" y1="17.10" x2="525.30" y2="127.00" stroke="#231F20" stroke-width="1.3"/>
<line x1="521.00" y1="120.10" x2="525.30" y2="120.10" stroke="#231F20" stroke-width="1.3"/>
<text x="520.10" y="123.70" font-size="10" fill="#231F20" text-anchor="end" font-weight="normal" >0</text>
<line x1="521.00" y1="68.60" x2="525.30" y2="68.60" stroke="#231F20" stroke-width="1.3"/>
<text x="520.10" y="72.20" font-size="10" fill="#231F20" text-anchor="end" font-weight="normal" >1</text>
<line x1="521.00" y1="17.10" x2="525.30" y2="17.10" stroke="#231F20" stroke-width="1.3"/>
<text x="520.10" y="20.70" font-size="10" fill="#231F20" text-anchor="end" font-weight="normal" >2</text>
<line x1="524.70" y1="122.70" x2="683.00" y2="122.70" stroke="#231F20" stroke-width="1.3"/>
<line x1="525.30" y1="122.70" x2="525.30" y2="127.00" stroke="#231F20" stroke-width="1.3"/>
<text x="525.30" y="136.60" font-size="10" fill="#231F20" text-anchor="middle" font-weight="normal" >0</text>
<line x1="597.50" y1="122.70" x2="597.50" y2="127.00" stroke="#231F20" stroke-width="1.3"/>
<text x="597.50" y="136.60" font-size="10" fill="#231F20" text-anchor="middle" font-weight="normal" >500</text>
<line x1="669.70" y1="122.70" x2="669.70" y2="127.00" stroke="#231F20" stroke-width="1.3"/>
<text x="669.70" y="136.60" font-size="10" fill="#231F20" text-anchor="middle" font-weight="normal" >1000</text>
<text x="572.00" y="149.80" font-size="11.5" fill="#231F20" text-anchor="start" font-weight="normal" >[Protein] (nM)</text>
<path d="M525.3,120.1L525.8,118.3L526.3,116.6L526.7,114.9L527.2,113.3L527.7,111.7L528.2,110.2L528.7,108.7L529.2,107.3L529.6,105.9L530.1,104.5L530.6,103.2L531.1,101.9L531.6,100.7L532.1,99.4L532.5,98.3L533.0,97.1L533.5,96.0L534.0,94.9L534.5,93.8L535.0,92.7L535.4,91.7L535.9,90.7L536.4,89.7L536.9,88.8L537.4,87.8L537.9,86.9L538.3,86.0L538.8,85.2L539.3,84.3L539.8,83.5L540.3,82.7L540.8,81.9L541.2,81.1L541.7,80.3L542.2,79.5L542.7,78.8L543.2,78.1L543.7,77.4L544.1,76.7L544.6,76.0L545.1,75.3L545.6,74.7L546.1,74.0L546.5,73.4L547.0,72.8L547.5,72.2L548.0,71.6L548.5,71.0L549.0,70.4L549.4,69.9L549.9,69.3L550.4,68.8L550.9,68.2L551.4,67.7L551.9,67.2L552.3,66.7L552.8,66.2L553.3,65.7L553.8,65.2L554.3,64.7L554.8,64.3L555.2,63.8L555.7,63.4L556.2,62.9L556.7,62.5L557.2,62.0L557.7,61.6L558.1,61.2L558.6,60.8L559.1,60.4L559.6,60.0L560.1,59.6L560.6,59.2L561.0,58.8L561.5,58.4L562.0,58.1L562.5,57.7L563.0,57.3L563.5,57.0L563.9,56.6L564.4,56.3L564.9,55.9L565.4,55.6L565.9,55.3L566.4,54.9L566.8,54.6L567.3,54.3L567.8,54.0L568.3,53.7L568.8,53.4L569.2,53.1L569.7,52.8L570.2,52.5L570.7,52.2L571.2,51.9L571.7,51.6L572.1,51.3L572.6,51.0L573.1,50.8L573.6,50.5L574.1,50.2L574.6,50.0L575.0,49.7L575.5,49.5L576.0,49.2L576.5,48.9L577.0,48.7L577.5,48.5L577.9,48.2L578.4,48.0L578.9,47.7L579.4,47.5L579.9,47.3L580.4,47.0L580.8,46.8L581.3,46.6L581.8,46.4L582.3,46.2L582.8,45.9L583.3,45.7L583.7,45.5L584.2,45.3L584.7,45.1L585.2,44.9L585.7,44.7L586.2,44.5L586.6,44.3L587.1,44.1L587.6,43.9L588.1,43.7L588.6,43.5L589.0,43.3L589.5,43.1L590.0,43.0L590.5,42.8L591.0,42.6L591.5,42.4L591.9,42.2L592.4,42.1L592.9,41.9L593.4,41.7L593.9,41.5L594.4,41.4L594.8,41.2L595.3,41.0L595.8,40.9L596.3,40.7L596.8,40.5L597.3,40.4L597.7,40.2L598.2,40.1L598.7,39.9L599.2,39.8L599.7,39.6L600.2,39.5L600.6,39.3L601.1,39.2L601.6,39.0L602.1,38.9L602.6,38.7L603.1,38.6L603.5,38.4L604.0,38.3L604.5,38.2L605.0,38.0L605.5,37.9L606.0,37.8L606.4,37.6L606.9,37.5L607.4,37.4L607.9,37.2L608.4,37.1L608.8,37.0L609.3,36.8L609.8,36.7L610.3,36.6L610.8,36.5L611.3,36.3L611.7,36.2L612.2,36.1L612.7,36.0L613.2,35.9L613.7,35.7L614.2,35.6L614.6,35.5L615.1,35.4L615.6,35.3L616.1,35.2L616.6,35.1L617.1,34.9L617.5,34.8L618.0,34.7L618.5,34.6L619.0,34.5L619.5,34.4L620.0,34.3L620.4,34.2L620.9,34.1L621.4,34.0L621.9,33.9L622.4,33.8L622.9,33.7L623.3,33.6L623.8,33.5L624.3,33.4L624.8,33.3L625.3,33.2L625.8,33.1L626.2,33.0L626.7,32.9L627.2,32.8L627.7,32.7L628.2,32.6L628.6,32.5L629.1,32.4L629.6,32.3L630.1,32.2L630.6,32.1L631.1,32.0L631.5,32.0L632.0,31.9L632.5,31.8L633.0,31.7L633.5,31.6L634.0,31.5L634.4,31.4L634.9,31.3L635.4,31.3L635.9,31.2L636.4,31.1L636.9,31.0L637.3,30.9L637.8,30.9L638.3,30.8L638.8,30.7L639.3,30.6L639.8,30.5L640.2,30.5L640.7,30.4L641.2,30.3L641.7,30.2L642.2,30.1L642.7,30.1L643.1,30.0L643.6,29.9L644.1,29.8L644.6,29.8L645.1,29.7L645.6,29.6L646.0,29.5L646.5,29.5L647.0,29.4L647.5,29.3L648.0,29.3L648.5,29.2L648.9,29.1L649.4,29.0L649.9,29.0L650.4,28.9L650.9,28.8L651.3,28.8L651.8,28.7L652.3,28.6L652.8,28.6L653.3,28.5L653.8,28.4L654.2,28.4L654.7,28.3L655.2,28.2L655.7,28.2L656.2,28.1L656.7,28.0L657.1,28.0L657.6,27.9L658.1,27.9L658.6,27.8L659.1,27.7L659.6,27.7L660.0,27.6L660.5,27.6L661.0,27.5L661.5,27.4L662.0,27.4L662.5,27.3L662.9,27.3L663.4,27.2L663.9,27.1L664.4,27.1L664.9,27.0L665.4,27.0L665.8,26.9L666.3,26.9L666.8,26.8L667.3,26.7L667.8,26.7L668.3,26.6L668.7,26.6L669.2,26.5L669.7,26.5" fill="none" stroke="#EF7D33" stroke-width="1.3" stroke-linejoin="round" />
<path d="M525.3,120.1L525.8,119.7L526.3,119.3L526.7,118.9L527.2,118.5L527.7,118.1L528.2,117.7L528.7,117.3L529.2,116.9L529.6,116.6L530.1,116.2L530.6,115.8L531.1,115.4L531.6,115.1L532.1,114.7L532.5,114.3L533.0,114.0L533.5,113.6L534.0,113.2L534.5,112.9L535.0,112.5L535.4,112.2L535.9,111.9L536.4,111.5L536.9,111.2L537.4,110.8L537.9,110.5L538.3,110.2L538.8,109.8L539.3,109.5L539.8,109.2L540.3,108.9L540.8,108.5L541.2,108.2L541.7,107.9L542.2,107.6L542.7,107.3L543.2,107.0L543.7,106.7L544.1,106.4L544.6,106.1L545.1,105.8L545.6,105.5L546.1,105.2L546.5,104.9L547.0,104.6L547.5,104.3L548.0,104.0L548.5,103.7L549.0,103.4L549.4,103.2L549.9,102.9L550.4,102.6L550.9,102.3L551.4,102.1L551.9,101.8L552.3,101.5L552.8,101.2L553.3,101.0L553.8,100.7L554.3,100.5L554.8,100.2L555.2,99.9L555.7,99.7L556.2,99.4L556.7,99.2L557.2,98.9L557.7,98.7L558.1,98.4L558.6,98.2L559.1,97.9L559.6,97.7L560.1,97.4L560.6,97.2L561.0,96.9L561.5,96.7L562.0,96.5L562.5,96.2L563.0,96.0L563.5,95.8L563.9,95.5L564.4,95.3L564.9,95.1L565.4,94.8L565.9,94.6L566.4,94.4L566.8,94.2L567.3,94.0L567.8,93.7L568.3,93.5L568.8,93.3L569.2,93.1L569.7,92.9L570.2,92.7L570.7,92.4L571.2,92.2L571.7,92.0L572.1,91.8L572.6,91.6L573.1,91.4L573.6,91.2L574.1,91.0L574.6,90.8L575.0,90.6L575.5,90.4L576.0,90.2L576.5,90.0L577.0,89.8L577.5,89.6L577.9,89.4L578.4,89.2L578.9,89.0L579.4,88.8L579.9,88.6L580.4,88.4L580.8,88.3L581.3,88.1L581.8,87.9L582.3,87.7L582.8,87.5L583.3,87.3L583.7,87.2L584.2,87.0L584.7,86.8L585.2,86.6L585.7,86.4L586.2,86.3L586.6,86.1L587.1,85.9L587.6,85.7L588.1,85.6L588.6,85.4L589.0,85.2L589.5,85.0L590.0,84.9L590.5,84.7L591.0,84.5L591.5,84.4L591.9,84.2L592.4,84.0L592.9,83.9L593.4,83.7L593.9,83.6L594.4,83.4L594.8,83.2L595.3,83.1L595.8,82.9L596.3,82.8L596.8,82.6L597.3,82.4L597.7,82.3L598.2,82.1L598.7,82.0L599.2,81.8L599.7,81.7L600.2,81.5L600.6,81.4L601.1,81.2L601.6,81.1L602.1,80.9L602.6,80.8L603.1,80.6L603.5,80.5L604.0,80.3L604.5,80.2L605.0,80.0L605.5,79.9L606.0,79.8L606.4,79.6L606.9,79.5L607.4,79.3L607.9,79.2L608.4,79.0L608.8,78.9L609.3,78.8L609.8,78.6L610.3,78.5L610.8,78.4L611.3,78.2L611.7,78.1L612.2,78.0L612.7,77.8L613.2,77.7L613.7,77.6L614.2,77.4L614.6,77.3L615.1,77.2L615.6,77.0L616.1,76.9L616.6,76.8L617.1,76.6L617.5,76.5L618.0,76.4L618.5,76.3L619.0,76.1L619.5,76.0L620.0,75.9L620.4,75.8L620.9,75.6L621.4,75.5L621.9,75.4L622.4,75.3L622.9,75.2L623.3,75.0L623.8,74.9L624.3,74.8L624.8,74.7L625.3,74.6L625.8,74.4L626.2,74.3L626.7,74.2L627.2,74.1L627.7,74.0L628.2,73.9L628.6,73.7L629.1,73.6L629.6,73.5L630.1,73.4L630.6,73.3L631.1,73.2L631.5,73.1L632.0,72.9L632.5,72.8L633.0,72.7L633.5,72.6L634.0,72.5L634.4,72.4L634.9,72.3L635.4,72.2L635.9,72.1L636.4,72.0L636.9,71.9L637.3,71.8L637.8,71.6L638.3,71.5L638.8,71.4L639.3,71.3L639.8,71.2L640.2,71.1L640.7,71.0L641.2,70.9L641.7,70.8L642.2,70.7L642.7,70.6L643.1,70.5L643.6,70.4L644.1,70.3L644.6,70.2L645.1,70.1L645.6,70.0L646.0,69.9L646.5,69.8L647.0,69.7L647.5,69.6L648.0,69.5L648.5,69.4L648.9,69.3L649.4,69.2L649.9,69.1L650.4,69.0L650.9,68.9L651.3,68.9L651.8,68.8L652.3,68.7L652.8,68.6L653.3,68.5L653.8,68.4L654.2,68.3L654.7,68.2L655.2,68.1L655.7,68.0L656.2,67.9L656.7,67.8L657.1,67.7L657.6,67.7L658.1,67.6L658.6,67.5L659.1,67.4L659.6,67.3L660.0,67.2L660.5,67.1L661.0,67.0L661.5,67.0L662.0,66.9L662.5,66.8L662.9,66.7L663.4,66.6L663.9,66.5L664.4,66.4L664.9,66.4L665.4,66.3L665.8,66.2L666.3,66.1L666.8,66.0L667.3,65.9L667.8,65.8L668.3,65.8L668.7,65.7L669.2,65.6L669.7,65.5" fill="none" stroke="#29ABE2" stroke-width="1.3" stroke-linejoin="round" />
<line x1="525.30" y1="120.10" x2="669.70" y2="120.10" stroke="#231F20" stroke-width="1.3"/>
<circle cx="669.70" cy="24.31" r="2.6" fill="#EF7D33"/>
<circle cx="597.50" cy="41.30" r="2.6" fill="#EF7D33"/>
<circle cx="561.40" cy="57.27" r="2.6" fill="#EF7D33"/>
<circle cx="543.35" cy="75.29" r="2.6" fill="#EF7D33"/>
<circle cx="534.32" cy="89.20" r="2.6" fill="#EF7D33"/>
<circle cx="529.81" cy="102.07" r="2.6" fill="#EF7D33"/>
<circle cx="527.56" cy="109.28" r="2.6" fill="#EF7D33"/>
<circle cx="526.43" cy="114.95" r="2.6" fill="#EF7D33"/>
<circle cx="669.70" cy="65.51" r="2.6" fill="#29ABE2"/>
<circle cx="597.50" cy="80.96" r="2.6" fill="#29ABE2"/>
<circle cx="561.40" cy="96.92" r="2.6" fill="#29ABE2"/>
<circle cx="543.35" cy="107.22" r="2.6" fill="#29ABE2"/>
<circle cx="534.32" cy="112.38" r="2.6" fill="#29ABE2"/>
<circle cx="529.81" cy="116.49" r="2.6" fill="#29ABE2"/>
<circle cx="527.56" cy="118.30" r="2.6" fill="#29ABE2"/>
<circle cx="526.43" cy="119.07" r="2.6" fill="#29ABE2"/>
<circle cx="669.70" cy="120.10" r="2.6" fill="#fff" stroke="#231F20" stroke-width="1.2"/>
<circle cx="597.50" cy="120.10" r="2.6" fill="#fff" stroke="#231F20" stroke-width="1.2"/>
<circle cx="561.40" cy="120.10" r="2.6" fill="#fff" stroke="#231F20" stroke-width="1.2"/>
<circle cx="543.35" cy="120.10" r="2.6" fill="#fff" stroke="#231F20" stroke-width="1.2"/>
<circle cx="534.32" cy="120.10" r="2.6" fill="#fff" stroke="#231F20" stroke-width="1.2"/>
<circle cx="529.81" cy="121.64" r="2.6" fill="#fff" stroke="#231F20" stroke-width="1.2"/>
<circle cx="527.56" cy="120.10" r="2.6" fill="#fff" stroke="#231F20" stroke-width="1.2"/>
<circle cx="526.43" cy="120.10" r="2.6" fill="#fff" stroke="#231F20" stroke-width="1.2"/>
<text x="583.8" y="20" font-size="10.5" fill="#EF7D33">K<tspan font-size="6.2" dy="2.6">D,app</tspan><tspan dy="-2.6">=175±51 nM</tspan></text>
<text x="583.8" y="59.8" font-size="10.5" fill="#29ABE2">K<tspan font-size="6.2" dy="2.6">D,app</tspan><tspan dy="-2.6">=806±230 nM</tspan></text>
<line x1="32.40" y1="173.20" x2="32.40" y2="265.90" stroke="#231F20" stroke-width="1.3"/>
<line x1="28.20" y1="181.50" x2="32.40" y2="181.50" stroke="#231F20" stroke-width="1.3"/>
<text x="27.50" y="183.80" font-size="10.8" fill="#231F20" text-anchor="end" font-weight="normal" >100</text>
<line x1="28.20" y1="223.40" x2="32.40" y2="223.40" stroke="#231F20" stroke-width="1.3"/>
<text x="27.50" y="225.70" font-size="10.8" fill="#231F20" text-anchor="end" font-weight="normal" >50</text>
<line x1="28.20" y1="265.30" x2="32.40" y2="265.30" stroke="#231F20" stroke-width="1.3"/>
<text x="27.50" y="267.60" font-size="10.8" fill="#231F20" text-anchor="end" font-weight="normal" >0</text>
<line x1="28.20" y1="265.30" x2="171.40" y2="265.30" stroke="#231F20" stroke-width="1.3"/>
<line x1="32.40" y1="265.30" x2="32.40" y2="269.10" stroke="#231F20" stroke-width="1.3"/>
<text x="32.00" y="279.00" font-size="10.5" fill="#231F20" text-anchor="middle" font-weight="normal" >0</text>
<line x1="78.53" y1="265.30" x2="78.53" y2="269.10" stroke="#231F20" stroke-width="1.3"/>
<text x="80.03" y="279.00" font-size="10.5" fill="#231F20" text-anchor="middle" font-weight="normal" >200</text>
<line x1="124.67" y1="265.30" x2="124.67" y2="269.10" stroke="#231F20" stroke-width="1.3"/>
<text x="126.17" y="279.00" font-size="10.5" fill="#231F20" text-anchor="middle" font-weight="normal" >400</text>
<line x1="170.80" y1="265.30" x2="170.80" y2="269.10" stroke="#231F20" stroke-width="1.3"/>
<text x="170.40" y="279.00" font-size="10.5" fill="#231F20" text-anchor="middle" font-weight="normal" >600</text>
<text x="78.80" y="295.80" font-size="13.2" fill="#231F20" text-anchor="start" font-weight="normal" >Time (s)</text>
<line x1="191.50" y1="174.10" x2="191.50" y2="265.90" stroke="#231F20" stroke-width="1.3"/>
<line x1="187.30" y1="182.30" x2="191.50" y2="182.30" stroke="#231F20" stroke-width="1.3"/>
<line x1="187.30" y1="223.80" x2="191.50" y2="223.80" stroke="#231F20" stroke-width="1.3"/>
<line x1="187.30" y1="265.30" x2="191.50" y2="265.30" stroke="#231F20" stroke-width="1.3"/>
<line x1="187.30" y1="265.30" x2="329.00" y2="265.30" stroke="#231F20" stroke-width="1.3"/>
<line x1="191.50" y1="265.30" x2="191.50" y2="269.10" stroke="#231F20" stroke-width="1.3"/>
<text x="191.20" y="279.00" font-size="10.5" fill="#231F20" text-anchor="middle" font-weight="normal" >0</text>
<line x1="237.13" y1="265.30" x2="237.13" y2="269.10" stroke="#231F20" stroke-width="1.3"/>
<text x="238.33" y="279.00" font-size="10.5" fill="#231F20" text-anchor="middle" font-weight="normal" >200</text>
<line x1="282.77" y1="265.30" x2="282.77" y2="269.10" stroke="#231F20" stroke-width="1.3"/>
<text x="283.97" y="279.00" font-size="10.5" fill="#231F20" text-anchor="middle" font-weight="normal" >400</text>
<line x1="328.40" y1="265.30" x2="328.40" y2="269.10" stroke="#231F20" stroke-width="1.3"/>
<text x="328.40" y="279.00" font-size="10.5" fill="#231F20" text-anchor="middle" font-weight="normal" >600</text>
<text x="238.30" y="295.80" font-size="13.2" fill="#231F20" text-anchor="start" font-weight="normal" >Time (s)</text>
<line x1="343.80" y1="174.10" x2="343.80" y2="265.90" stroke="#231F20" stroke-width="1.3"/>
<line x1="339.60" y1="182.30" x2="343.80" y2="182.30" stroke="#231F20" stroke-width="1.3"/>
<line x1="339.60" y1="223.80" x2="343.80" y2="223.80" stroke="#231F20" stroke-width="1.3"/>
<line x1="339.60" y1="265.30" x2="343.80" y2="265.30" stroke="#231F20" stroke-width="1.3"/>
<line x1="339.60" y1="265.30" x2="481.40" y2="265.30" stroke="#231F20" stroke-width="1.3"/>
<line x1="343.80" y1="265.30" x2="343.80" y2="269.10" stroke="#231F20" stroke-width="1.3"/>
<text x="344.00" y="279.00" font-size="10.5" fill="#231F20" text-anchor="middle" font-weight="normal" >0</text>
<line x1="389.47" y1="265.30" x2="389.47" y2="269.10" stroke="#231F20" stroke-width="1.3"/>
<text x="389.47" y="279.00" font-size="10.5" fill="#231F20" text-anchor="middle" font-weight="normal" >200</text>
<line x1="435.13" y1="265.30" x2="435.13" y2="269.10" stroke="#231F20" stroke-width="1.3"/>
<text x="434.83" y="279.00" font-size="10.5" fill="#231F20" text-anchor="middle" font-weight="normal" >400</text>
<line x1="480.80" y1="265.30" x2="480.80" y2="269.10" stroke="#231F20" stroke-width="1.3"/>
<text x="480.80" y="279.00" font-size="10.5" fill="#231F20" text-anchor="middle" font-weight="normal" >600</text>
<text x="390.30" y="295.80" font-size="13.2" fill="#231F20" text-anchor="start" font-weight="normal" >Time (s)</text>
<text x="0" y="0" font-size="12" fill="#231F20" text-anchor="middle" transform="translate(9.60,223.70) rotate(-90)">Optical Density (%)</text>
<path d="M32.4,181.5L32.9,181.5L33.3,181.6L33.8,181.5L34.3,181.8L34.7,181.5L35.2,181.7L35.6,181.6L36.1,181.7L36.6,181.9L37.0,181.8L37.5,181.8L38.0,181.8L38.4,181.8L38.9,182.0L39.3,181.9L39.8,181.9L40.3,182.0L40.7,182.1L41.2,182.1L41.7,182.0L42.1,182.0L42.6,182.2L43.0,182.3L43.5,182.1L44.0,182.3L44.4,182.2L44.9,182.3L45.4,182.4L45.8,182.3L46.3,182.4L46.7,182.2L47.2,182.2L47.7,182.4L48.1,182.4L48.6,182.4L49.1,182.5L49.5,182.6L50.0,182.4L50.5,182.6L50.9,182.6L51.4,182.7L51.8,182.7L52.3,182.7L52.8,182.7L53.2,182.6L53.7,182.8L54.2,182.9L54.6,182.8L55.1,183.0L55.5,182.9L56.0,182.8L56.5,182.7L56.9,182.9L57.4,183.1L57.9,183.0L58.3,183.2L58.8,183.1L59.2,183.0L59.7,183.1L60.2,183.3L60.6,183.3L61.1,183.1L61.6,183.2L62.0,183.3L62.5,183.3L62.9,183.4L63.4,183.5L63.9,183.3L64.3,183.5L64.8,183.5L65.3,183.6L65.7,183.5L66.2,183.6L66.7,183.5L67.1,183.6L67.6,183.5L68.0,183.7L68.5,183.7L69.0,183.8L69.4,183.8L69.9,183.7L70.4,183.5L70.8,183.9L71.3,183.9L71.7,183.8L72.2,183.8L72.7,184.0L73.1,183.9L73.6,184.1L74.1,184.0L74.5,183.9L75.0,183.9L75.4,184.1L75.9,184.1L76.4,184.1L76.8,184.1L77.3,184.1L77.8,184.3L78.2,184.2L78.7,184.2L79.2,184.3L79.6,184.4L80.1,184.3L80.5,184.3L81.0,184.3L81.5,184.4L81.9,184.5L82.4,184.5L82.9,184.6L83.3,184.6L83.8,184.6L84.2,184.6L84.7,184.5L85.2,184.7L85.6,184.7L86.1,184.7L86.6,184.6L87.0,184.7L87.5,184.8L87.9,184.7L88.4,184.8L88.9,184.9L89.3,184.8L89.8,184.9L90.3,184.8L90.7,184.9L91.2,184.9L91.6,185.0L92.1,185.1L92.6,185.0L93.0,185.1L93.5,185.1L94.0,185.2L94.4,185.2L94.9,185.3L95.4,185.2L95.8,185.2L96.3,185.3L96.7,185.3L97.2,185.2L97.7,185.5L98.1,185.4L98.6,185.5L99.1,185.4L99.5,185.5L100.0,185.6L100.4,185.7L100.9,185.6L101.4,185.5L101.8,185.7L102.3,185.7L102.8,185.6L103.2,185.8L103.7,185.7L104.1,185.7L104.6,185.9L105.1,185.9L105.5,185.8L106.0,185.9L106.5,185.9L106.9,185.9L107.4,185.9L107.8,186.1L108.3,186.1L108.8,186.0L109.2,186.0L109.7,186.0L110.2,186.2L110.6,186.1L111.1,186.1L111.6,186.2L112.0,186.2L112.5,186.2L112.9,186.1L113.4,186.4L113.9,186.3L114.3,186.4L114.8,186.4L115.3,186.3L115.7,186.4L116.2,186.6L116.6,186.5L117.1,186.5L117.6,186.7L118.0,186.5L118.5,186.6L119.0,186.6L119.4,186.6L119.9,186.5L120.3,186.7L120.8,186.8L121.3,186.6L121.7,186.8L122.2,186.9L122.7,187.0L123.1,186.8L123.6,186.9L124.0,186.9L124.5,187.0L125.0,187.0L125.4,187.1L125.9,187.1L126.4,187.0L126.8,187.1L127.3,187.0L127.8,187.2L128.2,187.2L128.7,187.3L129.1,187.1L129.6,187.4L130.1,187.2L130.5,187.2L131.0,187.4L131.5,187.3L131.9,187.6L132.4,187.5L132.8,187.6L133.3,187.5L133.8,187.5L134.2,187.6L134.7,187.5L135.2,187.6L135.6,187.7L136.1,187.7L136.5,187.8L137.0,187.7L137.5,187.6L137.9,187.8L138.4,187.8L138.9,187.9L139.3,187.8L139.8,187.8L140.3,187.9L140.7,188.1L141.2,188.0L141.6,187.9L142.1,188.0L142.6,188.0L143.0,188.1L143.5,188.3L144.0,188.1L144.4,188.1L144.9,188.2L145.3,188.2L145.8,188.2L146.3,188.3L146.7,188.3L147.2,188.3L147.7,188.5L148.1,188.4L148.6,188.4L149.0,188.5L149.5,188.4L150.0,188.5L150.4,188.5L150.9,188.4L151.4,188.6L151.8,188.7L152.3,188.7L152.7,188.6L153.2,188.7L153.7,188.8L154.1,188.7L154.6,188.7L155.1,188.8L155.5,188.8L156.0,188.9L156.5,188.9L156.9,188.9L157.4,188.9L157.8,189.1L158.3,189.0L158.8,189.1L159.2,188.9L159.7,188.9L160.2,188.9L160.6,189.0L161.1,189.2L161.5,189.1L162.0,189.2L162.5,189.2L162.9,189.3L163.4,189.3L163.9,189.3L164.3,189.2L164.8,189.4L165.2,189.2L165.7,189.2L166.2,189.5L166.6,189.5L167.1,189.6L167.6,189.5L168.0,189.6L168.5,189.6L168.9,189.5L169.4,189.6L169.9,189.6L170.3,189.7L170.8,189.7" fill="none" stroke="#231F20" stroke-width="1.1" stroke-linejoin="round" />
<path d="M32.4,181.5L32.9,181.4L33.3,181.7L33.8,181.6L34.3,182.4L34.7,181.6L35.2,181.3L35.6,182.0L36.1,182.8L36.6,181.7L37.0,182.5L37.5,183.7L38.0,182.6L38.4,182.3L38.9,182.5L39.3,182.3L39.8,182.6L40.3,182.9L40.7,183.8L41.2,183.6L41.7,183.1L42.1,182.9L42.6,183.7L43.0,183.5L43.5,183.1L44.0,184.2L44.4,184.2L44.9,183.5L45.4,183.4L45.8,183.7L46.3,184.5L46.7,183.6L47.2,184.2L47.7,183.4L48.1,183.7L48.6,183.6L49.1,183.5L49.5,184.0L50.0,183.5L50.5,183.4L50.9,183.8L51.4,183.4L51.8,184.3L52.3,183.7L52.8,184.0L53.2,184.5L53.7,184.2L54.2,184.4L54.6,184.5L55.1,184.2L55.5,183.9L56.0,184.5L56.5,184.3L56.9,185.0L57.4,184.4L57.9,184.0L58.3,184.2L58.8,184.4L59.2,184.8L59.7,185.0L60.2,184.7L60.6,185.3L61.1,185.3L61.6,184.4L62.0,185.2L62.5,184.1L62.9,185.6L63.4,184.9L63.9,185.6L64.3,185.2L64.8,185.8L65.3,185.4L65.7,185.6L66.2,185.8L66.7,185.5L67.1,185.1L67.6,186.1L68.0,185.6L68.5,186.0L69.0,186.1L69.4,185.3L69.9,187.2L70.4,186.7L70.8,187.2L71.3,186.7L71.7,186.7L72.2,185.2L72.7,186.7L73.1,186.2L73.6,186.5L74.1,187.3L74.5,187.0L75.0,186.6L75.4,187.3L75.9,187.4L76.4,187.3L76.8,188.3L77.3,188.1L77.8,187.7L78.2,187.7L78.7,188.4L79.2,188.2L79.6,188.2L80.1,188.3L80.5,188.1L81.0,188.4L81.5,188.5L81.9,189.2L82.4,189.2L82.9,188.7L83.3,189.6L83.8,188.9L84.2,189.4L84.7,189.5L85.2,189.0L85.6,189.7L86.1,189.8L86.6,189.8L87.0,189.6L87.5,188.6L87.9,190.7L88.4,189.9L88.9,190.1L89.3,189.7L89.8,190.4L90.3,191.3L90.7,189.8L91.2,190.9L91.6,190.6L92.1,191.2L92.6,191.2L93.0,191.1L93.5,190.6L94.0,190.7L94.4,191.4L94.9,191.0L95.4,191.5L95.8,191.4L96.3,191.4L96.7,191.3L97.2,191.9L97.7,191.8L98.1,191.8L98.6,191.9L99.1,192.4L99.5,191.4L100.0,192.4L100.4,192.0L100.9,192.3L101.4,192.0L101.8,193.5L102.3,191.9L102.8,192.9L103.2,193.4L103.7,192.9L104.1,192.1L104.6,193.0L105.1,193.8L105.5,193.6L106.0,192.9L106.5,194.1L106.9,193.7L107.4,193.9L107.8,192.9L108.3,194.0L108.8,193.5L109.2,194.4L109.7,194.5L110.2,193.9L110.6,194.1L111.1,195.2L111.6,194.3L112.0,194.4L112.5,195.0L112.9,194.8L113.4,194.8L113.9,195.2L114.3,195.4L114.8,195.5L115.3,195.4L115.7,196.0L116.2,195.5L116.6,196.2L117.1,195.7L117.6,195.8L118.0,196.3L118.5,195.6L119.0,195.3L119.4,195.6L119.9,196.8L120.3,195.8L120.8,196.4L121.3,196.6L121.7,196.9L122.2,196.7L122.7,196.2L123.1,196.7L123.6,197.2L124.0,197.4L124.5,197.4L125.0,197.0L125.4,196.6L125.9,197.9L126.4,197.6L126.8,197.8L127.3,198.1L127.8,197.7L128.2,197.7L128.7,198.6L129.1,198.5L129.6,197.7L130.1,198.2L130.5,198.2L131.0,198.7L131.5,198.7L131.9,198.5L132.4,199.0L132.8,199.3L133.3,199.0L133.8,198.7L134.2,199.6L134.7,198.8L135.2,199.0L135.6,199.8L136.1,199.5L136.5,199.6L137.0,199.4L137.5,199.5L137.9,200.4L138.4,200.5L138.9,199.6L139.3,200.1L139.8,200.1L140.3,200.2L140.7,199.8L141.2,201.0L141.6,200.2L142.1,201.0L142.6,200.5L143.0,200.3L143.5,201.6L144.0,200.9L144.4,201.3L144.9,201.4L145.3,201.3L145.8,201.9L146.3,201.9L146.7,201.4L147.2,201.4L147.7,202.1L148.1,202.5L148.6,201.0L149.0,201.6L149.5,202.0L150.0,202.7L150.4,202.7L150.9,202.5L151.4,203.1L151.8,202.2L152.3,202.9L152.7,202.9L153.2,203.7L153.7,203.8L154.1,203.8L154.6,203.5L155.1,203.9L155.5,204.1L156.0,203.9L156.5,204.1L156.9,203.7L157.4,204.6L157.8,205.0L158.3,204.8L158.8,204.3L159.2,205.3L159.7,205.2L160.2,205.5L160.6,205.3L161.1,205.5L161.5,206.1L162.0,206.0L162.5,205.6L162.9,205.7L163.4,205.9L163.9,206.1L164.3,206.7L164.8,206.9L165.2,206.5L165.7,207.5L166.2,207.1L166.6,208.0L167.1,207.5L167.6,207.8L168.0,208.2L168.5,207.6L168.9,208.2L169.4,208.2L169.9,208.3L170.3,208.7L170.8,207.9" fill="none" stroke="#231F20" stroke-width="1.2" stroke-linejoin="round" />
<path d="M32.4,181.8L32.9,181.5L33.3,182.3L33.8,182.0L34.3,182.0L34.7,182.1L35.2,182.3L35.6,182.0L36.1,181.4L36.6,182.3L37.0,182.4L37.5,182.6L38.0,181.3L38.4,181.8L38.9,182.4L39.3,182.4L39.8,183.2L40.3,183.0L40.7,182.9L41.2,183.1L41.7,183.6L42.1,183.6L42.6,183.0L43.0,183.2L43.5,184.4L44.0,183.3L44.4,182.8L44.9,183.8L45.4,183.4L45.8,184.2L46.3,183.2L46.7,184.2L47.2,184.3L47.7,183.8L48.1,182.5L48.6,184.1L49.1,184.4L49.5,183.6L50.0,183.8L50.5,183.1L50.9,184.6L51.4,184.8L51.8,184.2L52.3,183.9L52.8,183.9L53.2,183.6L53.7,184.9L54.2,184.6L54.6,184.3L55.1,183.9L55.5,184.1L56.0,184.6L56.5,184.9L56.9,184.0L57.4,184.0L57.9,183.2L58.3,184.6L58.8,183.8L59.2,185.2L59.7,184.9L60.2,185.0L60.6,185.0L61.1,185.2L61.6,185.1L62.0,184.9L62.5,185.1L62.9,184.7L63.4,185.1L63.9,185.2L64.3,184.5L64.8,185.2L65.3,185.4L65.7,185.5L66.2,185.6L66.7,185.4L67.1,186.2L67.6,185.3L68.0,185.2L68.5,185.5L69.0,186.4L69.4,187.0L69.9,186.6L70.4,186.4L70.8,186.1L71.3,186.7L71.7,186.9L72.2,186.1L72.7,187.2L73.1,186.5L73.6,186.6L74.1,187.8L74.5,187.1L75.0,187.6L75.4,188.1L75.9,188.9L76.4,189.1L76.8,188.4L77.3,189.1L77.8,189.1L78.2,190.1L78.7,190.0L79.2,190.3L79.6,191.3L80.1,191.7L80.5,191.0L81.0,191.4L81.5,192.3L81.9,192.2L82.4,192.1L82.9,191.9L83.3,193.5L83.8,193.1L84.2,192.7L84.7,194.0L85.2,193.7L85.6,196.0L86.1,194.3L86.6,195.3L87.0,196.6L87.5,195.6L87.9,196.0L88.4,196.4L88.9,196.9L89.3,198.0L89.8,198.9L90.3,199.3L90.7,199.6L91.2,199.8L91.6,200.8L92.1,201.0L92.6,201.1L93.0,201.9L93.5,201.5L94.0,202.0L94.4,204.2L94.9,204.4L95.4,205.3L95.8,205.7L96.3,205.4L96.7,206.7L97.2,207.2L97.7,207.3L98.1,207.3L98.6,208.4L99.1,208.9L99.5,208.8L100.0,209.5L100.4,209.9L100.9,210.1L101.4,211.5L101.8,211.3L102.3,212.1L102.8,211.7L103.2,212.3L103.7,213.6L104.1,212.8L104.6,214.5L105.1,213.8L105.5,214.7L106.0,215.6L106.5,216.1L106.9,216.2L107.4,216.4L107.8,217.2L108.3,217.0L108.8,218.4L109.2,218.1L109.7,218.5L110.2,219.9L110.6,219.2L111.1,220.4L111.6,221.4L112.0,220.9L112.5,221.1L112.9,220.8L113.4,221.7L113.9,221.0L114.3,221.3L114.8,221.7L115.3,221.8L115.7,222.5L116.2,223.2L116.6,222.9L117.1,223.0L117.6,223.6L118.0,224.0L118.5,224.9L119.0,224.1L119.4,224.5L119.9,225.5L120.3,225.1L120.8,225.0L121.3,225.7L121.7,225.5L122.2,225.7L122.7,227.1L123.1,226.7L123.6,226.6L124.0,226.6L124.5,226.6L125.0,228.5L125.4,227.7L125.9,227.4L126.4,227.3L126.8,227.2L127.3,228.6L127.8,228.5L128.2,229.0L128.7,228.2L129.1,229.3L129.6,228.2L130.1,228.5L130.5,228.8L131.0,230.3L131.5,229.7L131.9,229.1L132.4,230.3L132.8,229.8L133.3,229.9L133.8,229.5L134.2,230.0L134.7,230.1L135.2,230.6L135.6,230.5L136.1,230.7L136.5,230.4L137.0,231.0L137.5,230.1L137.9,230.0L138.4,227.1L138.9,226.3L139.3,226.5L139.8,228.5L140.3,229.6L140.7,230.7L141.2,232.3L141.6,232.3L142.1,232.8L142.6,232.9L143.0,234.2L143.5,233.8L144.0,234.1L144.4,234.7L144.9,234.8L145.3,235.8L145.8,234.6L146.3,235.4L146.7,235.0L147.2,236.7L147.7,237.2L148.1,236.8L148.6,238.1L149.0,237.5L149.5,238.0L150.0,237.9L150.4,237.6L150.9,237.8L151.4,236.9L151.8,237.5L152.3,238.5L152.7,237.4L153.2,238.6L153.7,237.9L154.1,238.6L154.6,238.4L155.1,237.4L155.5,238.4L156.0,238.4L156.5,238.4L156.9,238.3L157.4,237.5L157.8,238.8L158.3,238.9L158.8,238.0L159.2,239.1L159.7,238.6L160.2,237.8L160.6,238.4L161.1,238.7L161.5,238.9L162.0,239.1L162.5,239.2L162.9,239.0L163.4,238.6L163.9,239.0L164.3,239.9L164.8,240.2L165.2,239.7L165.7,241.1L166.2,240.6L166.6,240.7L167.1,241.3L167.6,241.4L168.0,241.0L168.5,242.2L168.9,242.0L169.4,242.0L169.9,241.9L170.3,242.8L170.8,241.7" fill="none" stroke="#231F20" stroke-width="1.3" stroke-linejoin="round" />
<path d="M32.4,181.6L32.9,181.8L33.3,182.0L33.8,182.2L34.3,182.5L34.7,182.0L35.2,182.5L35.6,182.7L36.1,182.5L36.6,183.3L37.0,183.0L37.5,183.6L38.0,184.4L38.4,184.0L38.9,184.8L39.3,184.1L39.8,184.6L40.3,184.2L40.7,183.8L41.2,184.1L41.7,184.5L42.1,184.3L42.6,184.4L43.0,184.7L43.5,184.7L44.0,184.3L44.4,184.1L44.9,184.9L45.4,184.3L45.8,184.1L46.3,190.0L46.7,191.3L47.2,191.7L47.7,193.2L48.1,193.3L48.6,193.6L49.1,195.5L49.5,195.4L50.0,196.1L50.5,196.8L50.9,197.8L51.4,198.3L51.8,199.3L52.3,199.5L52.8,200.1L53.2,201.1L53.7,201.8L54.2,202.2L54.6,202.6L55.1,203.2L55.5,203.8L56.0,204.3L56.5,205.4L56.9,206.4L57.4,205.9L57.9,206.2L58.3,207.7L58.8,208.0L59.2,208.3L59.7,208.6L60.2,209.3L60.6,209.7L61.1,210.7L61.6,211.1L62.0,211.7L62.5,212.5L62.9,212.3L63.4,212.9L63.9,213.1L64.3,213.9L64.8,213.8L65.3,214.9L65.7,214.8L66.2,216.1L66.7,216.0L67.1,215.8L67.6,216.5L68.0,216.7L68.5,217.6L69.0,217.0L69.4,217.6L69.9,218.2L70.4,218.4L70.8,218.8L71.3,218.8L71.7,219.6L72.2,220.5L72.7,220.5L73.1,220.3L73.6,220.9L74.1,221.6L74.5,221.6L75.0,222.2L75.4,222.2L75.9,223.2L76.4,223.2L76.8,222.9L77.3,223.4L77.8,223.4L78.2,223.1L78.7,224.1L79.2,224.1L79.6,224.6L80.1,224.8L80.5,224.8L81.0,225.5L81.5,225.9L81.9,225.0L82.4,225.7L82.9,225.5L83.3,226.1L83.8,226.3L84.2,226.3L84.7,226.5L85.2,227.4L85.6,226.8L86.1,227.7L86.6,227.6L87.0,227.0L87.5,228.0L87.9,227.7L88.4,228.6L88.9,228.5L89.3,228.9L89.8,229.0L90.3,229.6L90.7,229.9L91.2,229.7L91.6,230.5L92.1,230.5L92.6,230.1L93.0,230.6L93.5,230.8L94.0,231.0L94.4,230.7L94.9,230.9L95.4,230.9L95.8,231.1L96.3,230.5L96.7,231.4L97.2,232.0L97.7,231.4L98.1,231.6L98.6,231.6L99.1,232.3L99.5,231.5L100.0,232.0L100.4,232.1L100.9,232.7L101.4,232.1L101.8,232.4L102.3,232.1L102.8,232.8L103.2,233.1L103.7,232.8L104.1,233.2L104.6,232.9L105.1,233.5L105.5,233.3L106.0,233.4L106.5,233.5L106.9,233.7L107.4,234.0L107.8,234.0L108.3,234.3L108.8,234.3L109.2,234.6L109.7,235.4L110.2,234.9L110.6,234.6L111.1,235.1L111.6,235.2L112.0,235.4L112.5,235.9L112.9,236.4L113.4,235.9L113.9,236.0L114.3,236.3L114.8,236.5L115.3,236.7L115.7,237.0L116.2,237.1L116.6,237.4L117.1,237.5L117.6,238.1L118.0,238.2L118.5,237.9L119.0,238.4L119.4,239.3L119.9,238.6L120.3,239.6L120.8,238.4L121.3,239.0L121.7,239.2L122.2,239.8L122.7,240.1L123.1,240.0L123.6,240.1L124.0,240.5L124.5,240.2L125.0,240.1L125.4,240.2L125.9,240.8L126.4,241.2L126.8,240.5L127.3,240.8L127.8,240.5L128.2,240.2L128.7,240.2L129.1,240.7L129.6,240.5L130.1,240.4L130.5,240.9L131.0,240.9L131.5,240.8L131.9,241.1L132.4,241.3L132.8,241.5L133.3,241.3L133.8,241.5L134.2,241.1L134.7,241.5L135.2,241.0L135.6,241.2L136.1,242.0L136.5,241.3L137.0,241.8L137.5,241.3L137.9,241.6L138.4,241.9L138.9,241.7L139.3,242.1L139.8,241.9L140.3,241.9L140.7,242.2L141.2,242.0L141.6,242.5L142.1,242.1L142.6,242.7L143.0,242.2L143.5,242.3L144.0,242.3L144.4,242.7L144.9,241.6L145.3,242.7L145.8,242.6L146.3,243.0L146.7,242.3L147.2,243.0L147.7,242.6L148.1,243.3L148.6,242.9L149.0,243.2L149.5,242.8L150.0,243.3L150.4,243.5L150.9,243.1L151.4,243.7L151.8,243.7L152.3,243.2L152.7,244.1L153.2,243.3L153.7,243.7L154.1,243.9L154.6,243.6L155.1,243.5L155.5,244.0L156.0,243.9L156.5,243.6L156.9,243.7L157.4,244.0L157.8,244.3L158.3,244.4L158.8,244.4L159.2,244.0L159.7,244.1L160.2,244.2L160.6,243.9L161.1,244.5L161.5,244.6L162.0,244.7L162.5,244.0L162.9,245.3L163.4,244.6L163.9,244.6L164.3,244.8L164.8,244.1L165.2,244.5L165.7,244.7L166.2,245.3L166.6,244.9L167.1,245.2L167.6,245.1L168.0,245.2L168.5,245.4L168.9,245.1L169.4,244.9L169.9,245.1L170.3,245.4L170.8,246.1" fill="none" stroke="#E9443E" stroke-width="1.3" stroke-linejoin="round" />
<text x="150.00" y="184.50" font-size="10.5" fill="#231F20" text-anchor="start" font-weight="normal" >60nM</text>
<text x="145.40" y="218.90" font-size="10.5" fill="#231F20" text-anchor="start" font-weight="normal" >250nM</text>
<text x="152.30" y="233.20" font-size="10.5" fill="#231F20" text-anchor="start" font-weight="normal" >1μM</text>
<text x="41.4" y="250.3" font-size="10.5" fill="#231F20">60nM + <tspan fill="#E9443E">Ristocetin</tspan></text>
<path d="M191.5,182.2L192.0,182.2L192.4,182.3L192.9,182.3L193.3,182.2L193.8,182.4L194.2,182.2L194.7,182.4L195.2,182.4L195.6,182.3L196.1,182.4L196.5,182.3L197.0,182.3L197.5,182.4L197.9,182.2L198.4,182.4L198.8,182.2L199.3,182.3L199.7,182.3L200.2,182.4L200.7,182.5L201.1,182.4L201.6,182.4L202.0,182.1L202.5,182.2L202.9,182.4L203.4,182.2L203.9,182.3L204.3,182.3L204.8,182.3L205.2,182.2L205.7,182.4L206.2,182.3L206.6,182.3L207.1,182.4L207.5,182.3L208.0,182.3L208.4,182.4L208.9,182.4L209.4,182.3L209.8,182.2L210.3,182.3L210.7,182.4L211.2,182.2L211.6,182.3L212.1,182.2L212.6,182.2L213.0,182.4L213.5,182.3L213.9,182.4L214.4,182.4L214.9,182.1L215.3,182.2L215.8,182.5L216.2,182.3L216.7,182.4L217.1,182.2L217.6,182.3L218.1,182.3L218.5,182.3L219.0,182.3L219.4,182.3L219.9,182.3L220.3,182.3L220.8,182.3L221.3,182.4L221.7,182.3L222.2,182.3L222.6,182.3L223.1,182.2L223.6,182.4L224.0,182.3L224.5,182.4L224.9,182.2L225.4,182.3L225.8,182.3L226.3,182.3L226.8,182.4L227.2,182.3L227.7,182.4L228.1,182.3L228.6,182.3L229.0,182.2L229.5,182.2L230.0,182.1L230.4,182.3L230.9,182.3L231.3,182.3L231.8,182.2L232.2,182.2L232.7,182.3L233.2,182.4L233.6,182.3L234.1,182.3L234.5,182.3L235.0,182.4L235.5,182.5L235.9,182.3L236.4,182.2L236.8,182.3L237.3,182.5L237.7,182.3L238.2,182.5L238.7,182.1L239.1,182.3L239.6,182.4L240.0,182.2L240.5,182.4L240.9,182.2L241.4,182.3L241.9,182.4L242.3,182.2L242.8,182.4L243.2,182.2L243.7,182.3L244.2,182.4L244.6,182.5L245.1,182.1L245.5,182.2L246.0,182.4L246.4,182.1L246.9,182.3L247.4,182.3L247.8,182.3L248.3,182.3L248.7,182.2L249.2,182.3L249.6,182.5L250.1,182.1L250.6,182.2L251.0,182.4L251.5,182.3L251.9,182.4L252.4,182.3L252.9,182.3L253.3,182.3L253.8,182.4L254.2,182.4L254.7,182.2L255.1,182.3L255.6,182.1L256.1,182.4L256.5,182.2L257.0,182.3L257.4,182.4L257.9,182.2L258.3,182.3L258.8,182.4L259.3,182.3L259.7,182.2L260.2,182.4L260.6,182.2L261.1,182.2L261.6,182.3L262.0,182.2L262.5,182.1L262.9,179.9L263.4,180.0L263.8,179.8L264.3,179.8L264.8,180.1L265.2,180.0L265.7,180.0L266.1,180.0L266.6,180.1L267.0,181.2L267.5,181.3L268.0,181.3L268.4,181.2L268.9,181.4L269.3,181.3L269.8,181.3L270.3,181.3L270.7,181.3L271.2,181.2L271.6,181.3L272.1,181.2L272.5,181.4L273.0,181.3L273.5,181.4L273.9,182.6L274.4,182.7L274.8,182.5L275.3,182.6L275.7,182.6L276.2,182.5L276.7,182.6L277.1,182.7L277.6,182.8L278.0,182.9L278.5,182.8L279.0,182.8L279.4,182.8L279.9,182.8L280.3,183.0L280.8,182.7L281.2,182.9L281.7,182.9L282.2,182.8L282.6,183.0L283.1,182.8L283.5,182.8L284.0,182.9L284.4,183.0L284.9,183.0L285.4,183.1L285.8,182.8L286.3,183.0L286.7,183.1L287.2,183.1L287.7,183.0L288.1,182.9L288.6,183.2L289.0,183.1L289.5,183.2L289.9,183.0L290.4,183.1L290.9,182.9L291.3,183.1L291.8,183.2L292.2,183.2L292.7,183.1L293.1,183.3L293.6,183.1L294.1,183.2L294.5,183.2L295.0,183.3L295.4,183.1L295.9,183.1L296.3,183.3L296.8,183.2L297.3,183.1L297.7,183.3L298.2,183.3L298.6,183.4L299.1,183.3L299.6,183.3L300.0,183.4L300.5,183.4L300.9,183.5L301.4,183.5L301.8,183.5L302.3,183.4L302.8,183.5L303.2,183.5L303.7,183.4L304.1,183.4L304.6,183.5L305.0,183.5L305.5,183.4L306.0,183.5L306.4,183.6L306.9,183.5L307.3,183.6L307.8,183.5L308.3,183.7L308.7,183.5L309.2,183.6L309.6,183.7L310.1,183.5L310.5,183.6L311.0,183.8L311.5,183.5L311.9,183.8L312.4,183.8L312.8,183.7L313.3,183.6L313.7,183.7L314.2,183.7L314.7,183.6L315.1,183.7L315.6,183.6L316.0,183.5L316.5,183.8L317.0,184.1L317.4,183.9L317.9,183.9L318.3,183.8L318.8,183.9L319.2,184.0L319.7,184.0L320.2,183.9L320.6,183.9L321.1,184.2L321.5,183.8L322.0,183.9L322.4,184.0L322.9,183.9L323.4,184.1L323.8,184.0L324.3,183.9L324.7,183.9L325.2,184.0L325.7,184.1L326.1,184.1L326.6,183.9L327.0,184.0L327.5,184.1L327.9,184.3L328.4,184.2" fill="none" stroke="#9B59B6" stroke-width="1.05" stroke-linejoin="round" />
<path d="M191.5,183.4L192.0,181.6L192.4,182.3L192.9,182.9L193.3,182.6L193.8,181.1L194.2,181.9L194.7,183.4L195.2,182.8L195.6,183.4L196.1,183.8L196.5,182.7L197.0,181.5L197.5,182.0L197.9,182.9L198.4,183.2L198.8,182.9L199.3,182.5L199.7,184.8L200.2,186.6L200.7,186.0L201.1,188.5L201.6,189.3L202.0,191.6L202.5,192.5L202.9,195.3L203.4,197.2L203.9,199.1L204.3,201.9L204.8,205.2L205.2,206.8L205.7,208.9L206.2,210.5L206.6,210.6L207.1,211.2L207.5,212.7L208.0,215.1L208.4,215.1L208.9,216.4L209.4,218.2L209.8,220.5L210.3,219.7L210.7,220.9L211.2,221.7L211.6,223.6L212.1,224.1L212.6,223.3L213.0,224.0L213.5,224.8L213.9,225.8L214.4,226.1L214.9,227.2L215.3,227.7L215.8,228.7L216.2,228.6L216.7,229.6L217.1,228.9L217.6,229.3L218.1,230.3L218.5,229.0L219.0,230.9L219.4,230.1L219.9,230.0L220.3,230.0L220.8,232.2L221.3,230.6L221.7,230.6L222.2,230.7L222.6,233.0L223.1,232.3L223.6,232.1L224.0,232.5L224.5,231.6L224.9,233.0L225.4,232.1L225.8,232.6L226.3,234.0L226.8,233.9L227.2,233.8L227.7,233.6L228.1,233.3L228.6,234.2L229.0,233.7L229.5,235.3L230.0,236.4L230.4,235.0L230.9,234.7L231.3,235.3L231.8,235.7L232.2,235.0L232.7,234.2L233.2,235.4L233.6,235.9L234.1,236.0L234.5,234.5L235.0,235.7L235.5,235.4L235.9,235.1L236.4,235.3L236.8,236.5L237.3,235.5L237.7,235.7L238.2,235.9L238.7,235.7L239.1,236.7L239.6,236.5L240.0,236.8L240.5,236.2L240.9,237.1L241.4,236.5L241.9,237.5L242.3,237.0L242.8,237.2L243.2,237.2L243.7,237.1L244.2,237.3L244.6,237.4L245.1,238.6L245.5,236.8L246.0,237.9L246.4,237.8L246.9,238.2L247.4,237.2L247.8,238.4L248.3,237.6L248.7,237.3L249.2,237.0L249.6,237.3L250.1,237.7L250.6,238.7L251.0,237.3L251.5,237.4L251.9,237.6L252.4,237.7L252.9,238.1L253.3,238.5L253.8,237.6L254.2,237.5L254.7,238.8L255.1,237.7L255.6,238.1L256.1,237.8L256.5,238.2L257.0,237.7L257.4,237.8L257.9,237.9L258.3,239.2L258.8,238.0L259.3,238.4L259.7,239.2L260.2,238.1L260.6,239.3L261.1,238.1L261.6,237.6L262.0,238.9L262.5,238.1L262.9,238.4L263.4,238.3L263.8,239.5L264.3,238.4L264.8,238.7L265.2,238.3L265.7,238.8L266.1,238.2L266.6,238.7L267.0,238.5L267.5,238.1L268.0,238.8L268.4,238.4L268.9,238.8L269.3,238.7L269.8,239.3L270.3,238.6L270.7,238.3L271.2,239.1L271.6,238.6L272.1,238.9L272.5,239.8L273.0,239.0L273.5,238.4L273.9,239.5L274.4,240.3L274.8,239.1L275.3,239.7L275.7,238.2L276.2,239.4L276.7,239.4L277.1,239.7L277.6,239.3L278.0,239.7L278.5,240.0L279.0,239.5L279.4,240.0L279.9,238.8L280.3,240.2L280.8,239.6L281.2,240.0L281.7,240.4L282.2,238.7L282.6,240.8L283.1,238.8L283.5,240.5L284.0,239.7L284.4,238.4L284.9,241.0L285.4,240.6L285.8,239.0L286.3,239.7L286.7,240.1L287.2,239.9L287.7,240.4L288.1,239.8L288.6,239.1L289.0,240.2L289.5,239.9L289.9,239.3L290.4,238.9L290.9,240.4L291.3,239.9L291.8,240.4L292.2,240.4L292.7,240.3L293.1,240.5L293.6,241.1L294.1,241.3L294.5,240.6L295.0,240.1L295.4,239.5L295.9,240.5L296.3,240.4L296.8,239.9L297.3,239.9L297.7,240.4L298.2,240.4L298.6,239.3L299.1,240.6L299.6,240.7L300.0,241.4L300.5,240.2L300.9,240.6L301.4,239.4L301.8,240.7L302.3,240.1L302.8,240.0L303.2,239.6L303.7,241.3L304.1,239.7L304.6,240.6L305.0,240.7L305.5,240.9L306.0,240.9L306.4,240.9L306.9,242.1L307.3,240.5L307.8,240.7L308.3,241.3L308.7,240.9L309.2,239.5L309.6,240.6L310.1,241.1L310.5,239.9L311.0,241.4L311.5,241.0L311.9,241.3L312.4,241.1L312.8,240.6L313.3,240.7L313.7,241.5L314.2,241.1L314.7,241.0L315.1,241.3L315.6,241.2L316.0,241.6L316.5,241.6L317.0,241.2L317.4,241.8L317.9,241.0L318.3,241.4L318.8,241.8L319.2,241.6L319.7,241.6L320.2,241.4L320.6,241.3L321.1,241.5L321.5,241.9L322.0,240.6L322.4,240.9L322.9,241.4L323.4,240.9L323.8,241.3L324.3,241.7L324.7,241.5L325.2,240.1L325.7,241.0L326.1,241.0L326.6,241.9L327.0,241.3L327.5,240.4L327.9,241.4L328.4,241.1" fill="none" stroke="#F6BE96" stroke-width="1.3" stroke-linejoin="round" />
<path d="M191.5,180.6L192.0,181.5L192.4,180.3L192.9,182.1L193.3,181.8L193.8,183.3L194.2,179.1L194.7,182.2L195.2,182.5L195.6,180.8L196.1,183.3L196.5,182.7L197.0,183.8L197.5,182.8L197.9,183.3L198.4,182.2L198.8,183.1L199.3,183.7L199.7,183.4L200.2,183.2L200.7,183.9L201.1,184.7L201.6,187.7L202.0,191.1L202.5,195.5L202.9,195.9L203.4,200.9L203.9,201.7L204.3,205.2L204.8,209.9L205.2,214.0L205.7,217.7L206.2,218.0L206.6,224.8L207.1,228.4L207.5,229.3L208.0,232.3L208.4,233.9L208.9,239.1L209.4,241.3L209.8,236.8L210.3,241.6L210.7,242.4L211.2,242.2L211.6,241.6L212.1,244.9L212.6,243.4L213.0,244.3L213.5,243.9L213.9,245.0L214.4,246.3L214.9,247.2L215.3,249.7L215.8,245.8L216.2,249.3L216.7,248.4L217.1,245.9L217.6,248.6L218.1,247.4L218.5,248.6L219.0,247.6L219.4,248.5L219.9,249.4L220.3,247.1L220.8,249.3L221.3,250.8L221.7,249.6L222.2,248.6L222.6,250.9L223.1,248.6L223.6,248.7L224.0,247.1L224.5,250.7L224.9,249.2L225.4,252.3L225.8,250.8L226.3,250.3L226.8,250.0L227.2,250.7L227.7,250.9L228.1,251.7L228.6,251.6L229.0,250.8L229.5,250.6L230.0,250.6L230.4,250.2L230.9,250.1L231.3,254.0L231.8,252.4L232.2,252.0L232.7,252.7L233.2,250.6L233.6,251.0L234.1,252.2L234.5,251.9L235.0,250.5L235.5,252.6L235.9,252.6L236.4,251.1L236.8,251.7L237.3,250.6L237.7,252.0L238.2,251.5L238.7,253.2L239.1,253.8L239.6,252.7L240.0,256.1L240.5,252.2L240.9,251.6L241.4,252.8L241.9,253.2L242.3,251.6L242.8,253.1L243.2,251.8L243.7,250.3L244.2,252.3L244.6,252.0L245.1,252.7L245.5,253.0L246.0,253.1L246.4,253.4L246.9,252.1L247.4,255.6L247.8,254.0L248.3,252.8L248.7,254.7L249.2,253.8L249.6,254.6L250.1,253.2L250.6,252.7L251.0,251.9L251.5,253.2L251.9,254.7L252.4,253.5L252.9,253.2L253.3,252.1L253.8,256.6L254.2,253.5L254.7,256.3L255.1,253.1L255.6,253.4L256.1,253.4L256.5,252.9L257.0,253.6L257.4,254.9L257.9,253.7L258.3,252.6L258.8,254.3L259.3,254.1L259.7,255.7L260.2,252.8L260.6,254.9L261.1,255.2L261.6,254.9L262.0,255.4L262.5,254.7L262.9,252.7L263.4,253.4L263.8,252.6L264.3,252.5L264.8,255.6L265.2,253.9L265.7,252.6L266.1,251.6L266.6,256.3L267.0,256.4L267.5,254.0L268.0,255.0L268.4,255.9L268.9,254.2L269.3,255.7L269.8,257.6L270.3,254.7L270.7,254.6L271.2,253.9L271.6,253.6L272.1,254.6L272.5,255.1L273.0,255.7L273.5,257.0L273.9,255.4L274.4,253.6L274.8,254.1L275.3,252.4L275.7,255.2L276.2,257.3L276.7,254.0L277.1,253.7L277.6,256.5L278.0,257.1L278.5,254.9L279.0,254.2L279.4,256.6L279.9,255.6L280.3,256.2L280.8,256.7L281.2,256.9L281.7,255.1L282.2,255.8L282.6,256.2L283.1,258.6L283.5,253.1L284.0,256.5L284.4,255.5L284.9,256.8L285.4,254.9L285.8,257.3L286.3,255.3L286.7,255.6L287.2,254.3L287.7,256.8L288.1,256.3L288.6,255.7L289.0,252.8L289.5,257.3L289.9,255.1L290.4,256.3L290.9,255.1L291.3,254.7L291.8,255.3L292.2,255.2L292.7,255.2L293.1,256.3L293.6,255.8L294.1,257.7L294.5,256.0L295.0,256.6L295.4,255.9L295.9,254.7L296.3,255.1L296.8,255.0L297.3,254.2L297.7,258.7L298.2,255.1L298.6,255.7L299.1,255.8L299.6,257.4L300.0,255.0L300.5,254.3L300.9,254.4L301.4,255.8L301.8,254.9L302.3,254.6L302.8,253.5L303.2,254.2L303.7,255.6L304.1,255.7L304.6,255.6L305.0,255.5L305.5,256.5L306.0,254.9L306.4,256.7L306.9,256.9L307.3,255.4L307.8,256.6L308.3,256.2L308.7,258.5L309.2,254.9L309.6,255.9L310.1,256.1L310.5,255.4L311.0,255.7L311.5,256.8L311.9,253.4L312.4,256.6L312.8,254.8L313.3,253.7L313.7,256.8L314.2,255.9L314.7,257.1L315.1,254.7L315.6,256.5L316.0,257.5L316.5,254.4L317.0,254.9L317.4,257.2L317.9,254.6L318.3,255.9L318.8,252.7L319.2,254.0L319.7,256.8L320.2,256.5L320.6,257.3L321.1,256.0L321.5,256.1L322.0,255.3L322.4,256.1L322.9,258.1L323.4,257.3L323.8,254.4L324.3,254.8L324.7,256.5L325.2,256.4L325.7,256.5L326.1,256.3L326.6,258.4L327.0,255.2L327.5,257.1L327.9,256.1L328.4,259.5" fill="none" stroke="#EF7D33" stroke-width="1.3" stroke-linejoin="round" />
<path d="M191.5,182.0L192.0,180.6L192.4,185.2L192.9,180.5L193.3,181.8L193.8,183.4L194.2,184.5L194.7,181.1L195.2,182.3L195.6,181.9L196.1,183.0L196.5,183.7L197.0,181.6L197.5,184.0L197.9,181.7L198.4,185.0L198.8,184.0L199.3,184.7L199.7,181.3L200.2,185.2L200.7,184.5L201.1,182.2L201.6,182.8L202.0,180.3L202.5,182.3L202.9,186.6L203.4,189.1L203.9,195.0L204.3,196.4L204.8,198.4L205.2,200.9L205.7,205.2L206.2,208.8L206.6,212.9L207.1,214.6L207.5,219.6L208.0,224.7L208.4,228.6L208.9,230.2L209.4,233.8L209.8,235.6L210.3,239.8L210.7,239.1L211.2,239.9L211.6,241.1L212.1,241.5L212.6,242.1L213.0,240.4L213.5,243.2L213.9,245.6L214.4,245.8L214.9,244.0L215.3,244.0L215.8,244.9L216.2,245.2L216.7,246.5L217.1,249.1L217.6,248.6L218.1,250.3L218.5,248.6L219.0,250.0L219.4,248.2L219.9,248.7L220.3,251.1L220.8,247.8L221.3,247.9L221.7,250.8L222.2,249.0L222.6,248.4L223.1,249.8L223.6,248.5L224.0,249.4L224.5,248.5L224.9,249.7L225.4,250.3L225.8,249.6L226.3,249.3L226.8,250.2L227.2,251.2L227.7,251.8L228.1,251.4L228.6,251.7L229.0,250.9L229.5,251.1L230.0,251.5L230.4,251.5L230.9,251.5L231.3,249.7L231.8,250.3L232.2,252.6L232.7,251.4L233.2,252.4L233.6,252.1L234.1,252.4L234.5,252.9L235.0,253.9L235.5,255.4L235.9,252.0L236.4,250.8L236.8,253.5L237.3,251.8L237.7,253.0L238.2,252.2L238.7,253.6L239.1,253.0L239.6,252.9L240.0,255.8L240.5,252.5L240.9,253.0L241.4,256.1L241.9,252.1L242.3,253.1L242.8,252.8L243.2,252.7L243.7,253.7L244.2,254.6L244.6,253.9L245.1,253.9L245.5,250.6L246.0,251.1L246.4,254.1L246.9,254.1L247.4,253.2L247.8,253.0L248.3,254.6L248.7,255.0L249.2,251.3L249.6,252.4L250.1,255.8L250.6,256.1L251.0,254.9L251.5,253.6L251.9,253.2L252.4,254.4L252.9,256.0L253.3,253.7L253.8,253.2L254.2,254.0L254.7,254.7L255.1,253.3L255.6,254.2L256.1,255.5L256.5,254.0L257.0,255.8L257.4,252.9L257.9,253.6L258.3,255.5L258.8,254.0L259.3,252.6L259.7,257.0L260.2,254.5L260.6,252.2L261.1,256.3L261.6,254.6L262.0,256.2L262.5,254.5L262.9,257.5L263.4,256.6L263.8,255.2L264.3,254.3L264.8,254.0L265.2,254.0L265.7,253.1L266.1,253.7L266.6,253.6L267.0,255.9L267.5,254.9L268.0,250.5L268.4,251.8L268.9,253.6L269.3,253.8L269.8,253.5L270.3,255.3L270.7,252.3L271.2,255.3L271.6,255.0L272.1,252.0L272.5,257.6L273.0,254.4L273.5,257.2L273.9,255.8L274.4,255.1L274.8,255.5L275.3,254.8L275.7,256.0L276.2,255.2L276.7,256.6L277.1,255.6L277.6,256.9L278.0,254.3L278.5,256.9L279.0,254.3L279.4,255.8L279.9,255.6L280.3,253.7L280.8,255.1L281.2,257.8L281.7,254.7L282.2,259.1L282.6,255.0L283.1,255.9L283.5,257.2L284.0,255.3L284.4,255.8L284.9,252.8L285.4,256.0L285.8,252.9L286.3,253.6L286.7,256.3L287.2,256.5L287.7,253.8L288.1,255.7L288.6,255.3L289.0,255.9L289.5,257.1L289.9,256.0L290.4,256.8L290.9,257.6L291.3,256.0L291.8,253.2L292.2,253.5L292.7,255.7L293.1,255.4L293.6,254.9L294.1,253.8L294.5,255.2L295.0,256.3L295.4,256.2L295.9,254.2L296.3,252.2L296.8,256.5L297.3,258.4L297.7,254.6L298.2,255.8L298.6,255.5L299.1,254.1L299.6,255.7L300.0,257.5L300.5,258.4L300.9,255.8L301.4,257.3L301.8,255.4L302.3,257.5L302.8,256.3L303.2,257.8L303.7,256.3L304.1,256.4L304.6,255.1L305.0,254.1L305.5,256.1L306.0,257.0L306.4,253.3L306.9,255.4L307.3,255.1L307.8,255.1L308.3,254.0L308.7,254.6L309.2,255.1L309.6,254.9L310.1,257.1L310.5,256.8L311.0,256.1L311.5,255.9L311.9,256.0L312.4,255.6L312.8,256.0L313.3,256.6L313.7,258.2L314.2,255.0L314.7,255.3L315.1,257.2L315.6,255.4L316.0,255.6L316.5,256.0L317.0,258.6L317.4,257.7L317.9,256.9L318.3,254.0L318.8,257.3L319.2,256.6L319.7,257.7L320.2,256.8L320.6,255.7L321.1,259.0L321.5,260.0L322.0,255.4L322.4,256.2L322.9,257.1L323.4,255.0L323.8,255.0L324.3,259.1L324.7,256.5L325.2,254.8L325.7,257.2L326.1,256.7L326.6,255.1L327.0,256.7L327.5,257.9L327.9,257.3L328.4,258.1" fill="none" stroke="#EF7D33" stroke-width="1.3" stroke-linejoin="round" />
<text x="271.00" y="178.00" font-size="10.5" fill="#9B59B6" text-anchor="start" font-weight="normal" >+2mM EDTA</text>
<text x="301.30" y="233.10" font-size="10.5" fill="#231F20" text-anchor="start" font-weight="normal" >60nM</text>
<text x="275.20" y="250.30" font-size="10.5" fill="#231F20" text-anchor="start" font-weight="normal" >250nM</text>
<text x="310.90" y="252.20" font-size="10.5" fill="#231F20" text-anchor="start" font-weight="normal" >1μM</text>
<path d="M343.8,182.2L344.3,182.6L344.7,182.2L345.2,182.6L345.6,182.3L346.1,182.6L346.5,182.4L347.0,182.2L347.5,182.2L347.9,182.2L348.4,182.4L348.8,182.4L349.3,182.4L349.8,182.3L350.2,182.5L350.7,182.3L351.1,182.4L351.6,182.3L352.0,182.4L352.5,182.4L353.0,182.6L353.4,182.6L353.9,182.7L354.3,182.6L354.8,182.6L355.3,182.4L355.7,182.8L356.2,182.0L356.6,182.6L357.1,182.4L357.5,182.4L358.0,183.0L358.5,182.7L358.9,182.4L359.4,183.0L359.8,182.5L360.3,182.8L360.8,182.7L361.2,182.6L361.7,183.0L362.1,182.7L362.6,182.8L363.0,182.8L363.5,182.6L364.0,182.1L364.4,182.7L364.9,182.7L365.3,182.8L365.8,182.9L366.3,182.7L366.7,182.5L367.2,182.8L367.6,182.7L368.1,182.9L368.5,182.4L369.0,183.1L369.5,182.8L369.9,182.8L370.4,182.8L370.8,183.1L371.3,183.1L371.7,182.9L372.2,182.9L372.7,183.1L373.1,183.1L373.6,182.8L374.0,182.8L374.5,183.0L375.0,183.1L375.4,183.1L375.9,182.6L376.3,182.9L376.8,183.0L377.2,182.8L377.7,182.6L378.2,182.8L378.6,183.3L379.1,183.1L379.5,183.1L380.0,183.1L380.5,183.3L380.9,183.2L381.4,183.3L381.8,183.1L382.3,183.1L382.7,183.4L383.2,183.4L383.7,183.2L384.1,183.1L384.6,183.1L385.0,183.2L385.5,183.7L386.0,183.3L386.4,183.3L386.9,183.3L387.3,183.4L387.8,183.3L388.2,183.4L388.7,182.8L389.2,183.2L389.6,183.3L390.1,183.3L390.5,183.3L391.0,183.3L391.5,183.4L391.9,183.3L392.4,183.2L392.8,183.2L393.3,183.3L393.7,183.1L394.2,183.3L394.7,183.5L395.1,183.7L395.6,183.5L396.0,183.4L396.5,183.4L397.0,183.3L397.4,183.5L397.9,183.6L398.3,183.3L398.8,183.3L399.2,183.6L399.7,183.4L400.2,183.3L400.6,183.5L401.1,183.5L401.5,183.9L402.0,183.3L402.4,183.4L402.9,183.5L403.4,183.6L403.8,183.8L404.3,183.6L404.7,183.6L405.2,183.4L405.7,183.8L406.1,183.4L406.6,183.6L407.0,183.4L407.5,183.8L407.9,183.6L408.4,183.5L408.9,183.7L409.3,183.9L409.8,183.8L410.2,183.6L410.7,184.0L411.2,184.0L411.6,183.7L412.1,183.9L412.5,183.7L413.0,184.0L413.4,184.1L413.9,183.9L414.4,183.6L414.8,184.0L415.3,183.8L415.7,183.8L416.2,184.0L416.7,183.7L417.1,183.8L417.6,183.8L418.0,184.2L418.5,184.2L418.9,184.4L419.4,183.9L419.9,184.0L420.3,183.8L420.8,183.7L421.2,184.0L421.7,184.0L422.2,183.9L422.6,183.7L423.1,184.1L423.5,183.9L424.0,184.0L424.4,184.1L424.9,183.9L425.4,184.2L425.8,184.2L426.3,183.9L426.7,184.1L427.2,184.1L427.6,184.1L428.1,184.0L428.6,184.2L429.0,184.0L429.5,184.1L429.9,183.9L430.4,183.9L430.9,184.0L431.3,184.2L431.8,184.2L432.2,184.3L432.7,183.7L433.1,184.2L433.6,184.1L434.1,184.0L434.5,184.5L435.0,184.4L435.4,184.3L435.9,184.4L436.4,184.5L436.8,184.4L437.3,184.1L437.7,184.2L438.2,184.3L438.6,184.3L439.1,184.6L439.6,184.2L440.0,184.3L440.5,184.5L440.9,184.3L441.4,184.4L441.9,184.5L442.3,184.6L442.8,184.5L443.2,184.6L443.7,184.3L444.1,184.4L444.6,184.4L445.1,184.5L445.5,184.5L446.0,184.1L446.4,184.8L446.9,184.3L447.4,184.4L447.8,184.5L448.3,184.6L448.7,184.6L449.2,184.7L449.6,184.8L450.1,184.6L450.6,184.8L451.0,184.4L451.5,184.4L451.9,185.2L452.4,184.9L452.9,184.6L453.3,184.6L453.8,184.6L454.2,184.6L454.7,184.5L455.1,184.5L455.6,184.4L456.1,184.7L456.5,184.6L457.0,185.0L457.4,184.7L457.9,184.9L458.3,184.5L458.8,184.4L459.3,184.7L459.7,185.0L460.2,184.8L460.6,184.8L461.1,184.8L461.6,184.6L462.0,184.7L462.5,185.3L462.9,184.6L463.4,184.9L463.8,184.9L464.3,184.6L464.8,184.9L465.2,185.1L465.7,185.1L466.1,184.9L466.6,184.8L467.1,184.7L467.5,185.0L468.0,185.0L468.4,184.7L468.9,185.0L469.3,184.7L469.8,184.9L470.3,184.9L470.7,185.0L471.2,185.0L471.6,185.1L472.1,185.1L472.6,185.1L473.0,185.2L473.5,185.0L473.9,185.0L474.4,185.1L474.8,185.1L475.3,185.1L475.8,184.8L476.2,185.1L476.7,185.2L477.1,185.2L477.6,185.0L478.1,185.2L478.5,185.2L479.0,185.2L479.4,185.2L479.9,185.1L480.3,185.1L480.8,185.5" fill="none" stroke="#1B9E4B" stroke-width="1.2" stroke-linejoin="round" />
<path d="M343.8,182.8L344.3,183.4L344.7,181.5L345.2,181.2L345.6,180.9L346.1,181.2L346.5,180.5L347.0,180.9L347.5,180.8L347.9,181.3L348.4,180.7L348.8,180.4L349.3,179.5L349.8,179.2L350.2,180.6L350.7,180.5L351.1,180.9L351.6,181.7L352.0,182.6L352.5,182.5L353.0,183.3L353.4,183.1L353.9,184.3L354.3,186.3L354.8,188.3L355.3,189.9L355.7,192.6L356.2,193.6L356.6,196.9L357.1,197.5L357.5,198.5L358.0,200.2L358.5,201.7L358.9,201.8L359.4,203.6L359.8,204.0L360.3,205.1L360.8,206.7L361.2,207.8L361.7,208.4L362.1,209.9L362.6,211.7L363.0,212.3L363.5,213.2L364.0,214.5L364.4,215.7L364.9,216.9L365.3,217.3L365.8,218.0L366.3,218.7L366.7,217.8L367.2,219.0L367.6,219.0L368.1,220.2L368.5,219.8L369.0,220.6L369.5,219.1L369.9,221.5L370.4,221.8L370.8,221.3L371.3,221.6L371.7,223.5L372.2,222.7L372.7,222.7L373.1,223.9L373.6,223.2L374.0,224.0L374.5,224.4L375.0,224.3L375.4,224.5L375.9,225.2L376.3,223.6L376.8,225.1L377.2,225.5L377.7,224.9L378.2,225.5L378.6,225.0L379.1,226.0L379.5,225.9L380.0,226.2L380.5,226.4L380.9,226.8L381.4,226.9L381.8,226.2L382.3,227.6L382.7,227.7L383.2,227.8L383.7,227.6L384.1,227.9L384.6,227.8L385.0,229.1L385.5,228.5L386.0,228.9L386.4,229.1L386.9,228.9L387.3,230.1L387.8,229.1L388.2,229.2L388.7,230.1L389.2,229.5L389.6,228.8L390.1,229.9L390.5,229.5L391.0,230.0L391.5,230.3L391.9,230.5L392.4,230.3L392.8,229.6L393.3,229.9L393.7,230.8L394.2,230.0L394.7,230.7L395.1,231.0L395.6,230.6L396.0,231.3L396.5,231.7L397.0,230.4L397.4,232.1L397.9,231.0L398.3,232.1L398.8,231.4L399.2,231.6L399.7,231.9L400.2,232.9L400.6,232.0L401.1,232.1L401.5,232.6L402.0,232.4L402.4,232.0L402.9,233.0L403.4,232.6L403.8,233.5L404.3,232.8L404.7,232.9L405.2,232.1L405.7,233.0L406.1,233.4L406.6,233.0L407.0,234.3L407.5,233.5L407.9,234.4L408.4,234.6L408.9,233.9L409.3,234.4L409.8,234.0L410.2,235.5L410.7,234.8L411.2,235.3L411.6,235.4L412.1,236.3L412.5,235.0L413.0,235.4L413.4,236.1L413.9,236.3L414.4,236.2L414.8,235.1L415.3,235.9L415.7,236.1L416.2,235.8L416.7,236.1L417.1,236.0L417.6,235.8L418.0,236.1L418.5,235.9L418.9,237.0L419.4,236.4L419.9,236.7L420.3,236.5L420.8,236.7L421.2,237.0L421.7,237.0L422.2,236.4L422.6,237.2L423.1,237.6L423.5,236.8L424.0,236.6L424.4,237.3L424.9,237.2L425.4,237.7L425.8,237.5L426.3,236.9L426.7,237.1L427.2,237.5L427.6,237.8L428.1,238.5L428.6,237.6L429.0,237.6L429.5,237.4L429.9,237.0L430.4,237.9L430.9,237.7L431.3,238.7L431.8,237.7L432.2,237.9L432.7,237.7L433.1,238.1L433.6,238.3L434.1,237.9L434.5,239.0L435.0,238.4L435.4,238.2L435.9,239.1L436.4,239.3L436.8,238.6L437.3,238.8L437.7,238.5L438.2,238.5L438.6,239.2L439.1,238.7L439.6,238.3L440.0,239.1L440.5,239.1L440.9,239.5L441.4,238.6L441.9,238.0L442.3,239.7L442.8,238.6L443.2,238.6L443.7,239.3L444.1,239.2L444.6,239.6L445.1,239.5L445.5,239.0L446.0,238.8L446.4,239.1L446.9,238.7L447.4,239.1L447.8,239.8L448.3,238.5L448.7,238.7L449.2,239.6L449.6,238.4L450.1,239.0L450.6,239.2L451.0,238.4L451.5,240.5L451.9,240.1L452.4,239.0L452.9,239.5L453.3,239.8L453.8,238.7L454.2,239.2L454.7,240.1L455.1,239.8L455.6,239.1L456.1,238.6L456.5,240.5L457.0,239.4L457.4,239.7L457.9,240.4L458.3,239.7L458.8,240.4L459.3,239.9L459.7,238.8L460.2,239.4L460.6,239.3L461.1,239.4L461.6,239.5L462.0,239.2L462.5,240.3L462.9,239.9L463.4,239.3L463.8,240.1L464.3,240.0L464.8,239.2L465.2,239.1L465.7,240.1L466.1,240.2L466.6,239.6L467.1,239.8L467.5,240.2L468.0,239.6L468.4,239.7L468.9,239.9L469.3,238.5L469.8,239.3L470.3,239.6L470.7,239.5L471.2,238.6L471.6,239.5L472.1,240.4L472.6,239.9L473.0,240.1L473.5,240.4L473.9,240.0L474.4,240.0L474.8,240.2L475.3,240.4L475.8,239.8L476.2,241.0L476.7,239.8L477.1,240.2L477.6,240.1L478.1,241.4L478.5,239.5L479.0,241.2L479.4,240.7L479.9,240.0L480.3,240.7L480.8,240.6" fill="none" stroke="#A9D9F2" stroke-width="1.3" stroke-linejoin="round" />
<path d="M343.8,184.1L344.3,182.4L344.7,181.7L345.2,181.1L345.6,181.7L346.1,181.1L346.5,180.7L347.0,181.4L347.5,181.3L347.9,178.9L348.4,181.0L348.8,179.1L349.3,179.8L349.8,178.8L350.2,180.8L350.7,180.2L351.1,180.7L351.6,181.5L352.0,181.4L352.5,182.7L353.0,182.6L353.4,183.2L353.9,183.6L354.3,186.3L354.8,189.3L355.3,190.4L355.7,192.1L356.2,194.8L356.6,194.9L357.1,197.1L357.5,197.9L358.0,200.4L358.5,201.2L358.9,201.2L359.4,204.3L359.8,204.0L360.3,205.4L360.8,207.0L361.2,207.7L361.7,209.8L362.1,209.8L362.6,212.2L363.0,213.4L363.5,212.3L364.0,215.2L364.4,217.5L364.9,216.0L365.3,218.0L365.8,220.8L366.3,218.6L366.7,218.4L367.2,219.4L367.6,218.9L368.1,221.0L368.5,221.0L369.0,222.8L369.5,222.5L369.9,221.9L370.4,223.3L370.8,224.2L371.3,226.5L371.7,225.8L372.2,227.1L372.7,226.0L373.1,227.7L373.6,227.3L374.0,228.9L374.5,227.1L375.0,230.1L375.4,229.5L375.9,228.0L376.3,230.4L376.8,231.8L377.2,231.0L377.7,231.0L378.2,231.4L378.6,234.0L379.1,232.5L379.5,234.6L380.0,231.6L380.5,233.4L380.9,234.1L381.4,233.4L381.8,233.9L382.3,235.5L382.7,233.5L383.2,235.3L383.7,236.8L384.1,234.5L384.6,234.7L385.0,235.2L385.5,236.0L386.0,237.5L386.4,236.2L386.9,235.7L387.3,236.9L387.8,236.5L388.2,238.7L388.7,237.5L389.2,237.9L389.6,240.1L390.1,240.4L390.5,239.9L391.0,239.4L391.5,239.2L391.9,240.0L392.4,240.0L392.8,240.2L393.3,240.2L393.7,240.0L394.2,240.3L394.7,240.9L395.1,240.8L395.6,241.6L396.0,240.7L396.5,241.9L397.0,240.4L397.4,241.9L397.9,241.8L398.3,242.9L398.8,242.7L399.2,242.4L399.7,242.6L400.2,243.2L400.6,243.7L401.1,242.7L401.5,242.7L402.0,242.4L402.4,241.8L402.9,243.2L403.4,244.6L403.8,243.1L404.3,244.5L404.7,244.1L405.2,242.2L405.7,242.7L406.1,243.7L406.6,243.7L407.0,243.3L407.5,244.7L407.9,242.9L408.4,243.6L408.9,241.9L409.3,244.3L409.8,242.6L410.2,244.1L410.7,242.7L411.2,244.4L411.6,243.0L412.1,244.0L412.5,244.4L413.0,243.8L413.4,243.3L413.9,243.4L414.4,242.4L414.8,243.1L415.3,245.9L415.7,244.1L416.2,245.4L416.7,244.1L417.1,243.3L417.6,244.9L418.0,244.8L418.5,243.7L418.9,244.1L419.4,242.5L419.9,243.6L420.3,243.4L420.8,242.4L421.2,244.3L421.7,243.9L422.2,244.7L422.6,243.7L423.1,243.1L423.5,242.8L424.0,244.0L424.4,244.6L424.9,244.6L425.4,245.1L425.8,243.9L426.3,242.9L426.7,246.0L427.2,245.8L427.6,242.9L428.1,245.4L428.6,243.8L429.0,245.1L429.5,243.4L429.9,243.4L430.4,244.0L430.9,243.4L431.3,244.1L431.8,243.7L432.2,242.6L432.7,243.3L433.1,244.7L433.6,244.8L434.1,244.4L434.5,244.4L435.0,244.2L435.4,244.7L435.9,243.7L436.4,244.2L436.8,244.0L437.3,244.3L437.7,243.8L438.2,245.3L438.6,243.0L439.1,244.0L439.6,244.0L440.0,243.8L440.5,243.4L440.9,243.7L441.4,244.2L441.9,244.5L442.3,245.8L442.8,244.2L443.2,244.7L443.7,244.7L444.1,242.4L444.6,246.0L445.1,244.4L445.5,243.5L446.0,243.7L446.4,243.5L446.9,245.5L447.4,245.3L447.8,244.0L448.3,244.8L448.7,243.1L449.2,244.4L449.6,244.4L450.1,244.2L450.6,244.8L451.0,244.5L451.5,245.2L451.9,244.6L452.4,245.0L452.9,244.4L453.3,245.8L453.8,245.9L454.2,244.3L454.7,244.5L455.1,245.5L455.6,244.9L456.1,245.6L456.5,243.0L457.0,246.0L457.4,243.3L457.9,245.4L458.3,244.4L458.8,245.0L459.3,245.1L459.7,244.0L460.2,244.1L460.6,245.1L461.1,245.6L461.6,243.1L462.0,243.7L462.5,244.7L462.9,245.1L463.4,244.6L463.8,244.8L464.3,243.9L464.8,245.7L465.2,244.9L465.7,245.6L466.1,243.9L466.6,243.5L467.1,245.0L467.5,244.5L468.0,243.8L468.4,245.3L468.9,245.8L469.3,244.2L469.8,244.6L470.3,245.2L470.7,243.8L471.2,244.9L471.6,246.6L472.1,244.8L472.6,245.2L473.0,243.6L473.5,245.1L473.9,245.3L474.4,244.8L474.8,245.0L475.3,246.3L475.8,245.1L476.2,245.5L476.7,244.0L477.1,243.2L477.6,246.2L478.1,246.0L478.5,245.9L479.0,245.8L479.4,245.8L479.9,245.2L480.3,244.4L480.8,246.4" fill="none" stroke="#29ABE2" stroke-width="1.3" stroke-linejoin="round" />
<path d="M343.8,183.5L344.3,183.8L344.7,181.3L345.2,181.2L345.6,183.6L346.1,183.7L346.5,182.2L347.0,181.5L347.5,181.6L347.9,182.3L348.4,181.9L348.8,182.2L349.3,182.9L349.8,180.9L350.2,182.5L350.7,183.5L351.1,183.0L351.6,183.9L352.0,182.6L352.5,181.7L353.0,183.7L353.4,181.7L353.9,181.0L354.3,182.4L354.8,183.7L355.3,183.5L355.7,183.1L356.2,183.9L356.6,183.9L357.1,183.1L357.5,183.0L358.0,182.4L358.5,183.9L358.9,181.4L359.4,182.1L359.8,182.2L360.3,183.6L360.8,181.6L361.2,183.7L361.7,184.4L362.1,187.5L362.6,191.6L363.0,193.7L363.5,194.3L364.0,197.6L364.4,201.2L364.9,203.6L365.3,206.3L365.8,209.7L366.3,211.9L366.7,214.9L367.2,217.4L367.6,218.0L368.1,220.0L368.5,219.3L369.0,220.6L369.5,220.8L369.9,221.5L370.4,221.9L370.8,223.2L371.3,223.9L371.7,225.4L372.2,225.5L372.7,227.3L373.1,227.3L373.6,226.9L374.0,228.1L374.5,228.2L375.0,229.9L375.4,228.4L375.9,230.5L376.3,230.2L376.8,231.1L377.2,230.7L377.7,232.1L378.2,232.9L378.6,233.9L379.1,232.9L379.5,233.9L380.0,232.7L380.5,232.2L380.9,235.5L381.4,235.0L381.8,234.0L382.3,233.5L382.7,234.5L383.2,234.8L383.7,234.9L384.1,235.1L384.6,234.5L385.0,235.6L385.5,237.4L386.0,237.1L386.4,236.8L386.9,237.9L387.3,237.7L387.8,238.2L388.2,238.6L388.7,237.7L389.2,238.9L389.6,239.8L390.1,239.7L390.5,239.2L391.0,237.6L391.5,239.4L391.9,238.5L392.4,239.5L392.8,241.9L393.3,240.0L393.7,241.2L394.2,241.8L394.7,241.7L395.1,239.5L395.6,242.5L396.0,241.8L396.5,240.5L397.0,241.1L397.4,243.3L397.9,242.1L398.3,242.6L398.8,242.5L399.2,241.9L399.7,243.1L400.2,242.9L400.6,241.5L401.1,244.3L401.5,243.1L402.0,242.4L402.4,243.9L402.9,243.4L403.4,244.0L403.8,242.8L404.3,243.5L404.7,242.4L405.2,242.2L405.7,243.1L406.1,243.4L406.6,243.0L407.0,243.2L407.5,244.3L407.9,242.4L408.4,243.1L408.9,242.7L409.3,244.5L409.8,242.7L410.2,241.7L410.7,243.0L411.2,244.8L411.6,243.6L412.1,243.7L412.5,243.5L413.0,243.9L413.4,243.3L413.9,244.1L414.4,243.5L414.8,244.3L415.3,243.6L415.7,242.9L416.2,244.2L416.7,243.2L417.1,244.5L417.6,244.1L418.0,244.0L418.5,242.8L418.9,244.4L419.4,242.8L419.9,245.1L420.3,244.0L420.8,243.1L421.2,243.3L421.7,244.7L422.2,244.9L422.6,243.2L423.1,245.0L423.5,243.4L424.0,244.4L424.4,244.0L424.9,242.0L425.4,242.7L425.8,243.3L426.3,245.1L426.7,243.7L427.2,244.0L427.6,244.1L428.1,242.9L428.6,245.5L429.0,243.8L429.5,244.0L429.9,244.7L430.4,242.6L430.9,245.2L431.3,244.1L431.8,244.1L432.2,246.0L432.7,245.3L433.1,245.0L433.6,243.5L434.1,243.4L434.5,243.7L435.0,244.0L435.4,246.1L435.9,244.0L436.4,244.7L436.8,243.3L437.3,243.1L437.7,242.4L438.2,243.7L438.6,243.6L439.1,245.2L439.6,244.2L440.0,245.4L440.5,243.6L440.9,245.4L441.4,244.5L441.9,245.1L442.3,244.8L442.8,244.0L443.2,244.9L443.7,244.2L444.1,245.3L444.6,243.3L445.1,245.0L445.5,243.6L446.0,242.7L446.4,246.5L446.9,245.3L447.4,244.7L447.8,243.5L448.3,244.9L448.7,244.2L449.2,245.2L449.6,244.1L450.1,245.6L450.6,243.9L451.0,247.1L451.5,246.2L451.9,243.1L452.4,244.5L452.9,245.4L453.3,242.8L453.8,243.8L454.2,243.7L454.7,245.0L455.1,244.2L455.6,244.3L456.1,246.1L456.5,244.2L457.0,244.9L457.4,243.7L457.9,243.7L458.3,245.3L458.8,245.3L459.3,244.6L459.7,244.3L460.2,245.2L460.6,244.9L461.1,244.3L461.6,244.5L462.0,243.9L462.5,244.7L462.9,245.6L463.4,246.4L463.8,244.2L464.3,245.2L464.8,245.2L465.2,245.2L465.7,246.3L466.1,245.3L466.6,247.2L467.1,245.3L467.5,245.8L468.0,243.5L468.4,244.6L468.9,245.2L469.3,244.9L469.8,244.4L470.3,245.7L470.7,245.3L471.2,245.4L471.6,243.0L472.1,245.1L472.6,246.8L473.0,244.5L473.5,242.9L473.9,246.0L474.4,242.2L474.8,245.2L475.3,244.3L475.8,245.7L476.2,245.4L476.7,246.3L477.1,246.1L477.6,247.1L478.1,244.3L478.5,246.3L479.0,245.0L479.4,245.0L479.9,245.9L480.3,245.3L480.8,245.4" fill="none" stroke="#29ABE2" stroke-width="1.3" stroke-linejoin="round" />
<text x="450.20" y="178.00" font-size="10.5" fill="#1B9E4B" text-anchor="start" font-weight="normal" >plt only</text>
<text x="455.90" y="232.10" font-size="10.5" fill="#231F20" text-anchor="start" font-weight="normal" >60nM</text>
<text x="424.70" y="258.60" font-size="10.5" fill="#231F20" text-anchor="start" font-weight="normal" >250nM</text>
<text x="461.60" y="259.20" font-size="10.5" fill="#231F20" text-anchor="start" font-weight="normal" >1μM</text>
<line x1="532.80" y1="171.50" x2="532.80" y2="270.80" stroke="#231F20" stroke-width="1.3"/>
<line x1="528.40" y1="188.60" x2="532.80" y2="188.60" stroke="#231F20" stroke-width="1.3"/>
<text x="527.80" y="191.90" font-size="10.2" fill="#231F20" text-anchor="end" font-weight="normal" >1</text>
<line x1="528.40" y1="229.40" x2="532.80" y2="229.40" stroke="#231F20" stroke-width="1.3"/>
<text x="527.80" y="232.70" font-size="10.2" fill="#231F20" text-anchor="end" font-weight="normal" >.5</text>
<line x1="528.40" y1="270.20" x2="532.80" y2="270.20" stroke="#231F20" stroke-width="1.3"/>
<text x="527.80" y="272.30" font-size="10.2" fill="#231F20" text-anchor="end" font-weight="normal" >0</text>
<line x1="532.20" y1="270.20" x2="680.00" y2="270.20" stroke="#231F20" stroke-width="1.3"/>
<rect x="536.80" y="189.20" width="5.00" height="81.00" fill="none" stroke="#E9443E" stroke-width="1.25"/>
<line x1="539.30" y1="182.60" x2="539.30" y2="190.00" stroke="#E9443E" stroke-width="1.1"/>
<line x1="537.30" y1="182.60" x2="541.30" y2="182.60" stroke="#E9443E" stroke-width="1.3"/>
<circle cx="537.60" cy="190.50" r="1.75" fill="#E9443E"/>
<circle cx="541.20" cy="192.90" r="1.75" fill="#E9443E"/>
<circle cx="539.30" cy="183.30" r="1.75" fill="#E9443E"/>
<line x1="539.30" y1="270.20" x2="539.30" y2="273.90" stroke="#231F20" stroke-width="1.3"/>
<text x="0" y="0" font-size="10.3" fill="#231F20" text-anchor="end" transform="translate(543.10,277.5) rotate(-90)">60</text>
<rect x="574.60" y="258.90" width="5.30" height="11.30" fill="none" stroke="#231F20" stroke-width="1.25"/>
<line x1="577.10" y1="258.00" x2="577.10" y2="259.50" stroke="#231F20" stroke-width="1.1"/>
<line x1="575.10" y1="258.00" x2="579.10" y2="258.00" stroke="#231F20" stroke-width="1.3"/>
<circle cx="575.60" cy="259.30" r="1.75" fill="#231F20"/>
<circle cx="577.10" cy="259.00" r="1.75" fill="#231F20"/>
<circle cx="578.80" cy="259.40" r="1.75" fill="#231F20"/>
<line x1="577.10" y1="270.20" x2="577.10" y2="273.90" stroke="#231F20" stroke-width="1.3"/>
<text x="0" y="0" font-size="10.3" fill="#231F20" text-anchor="end" transform="translate(580.90,277.5) rotate(-90)">60</text>
<rect x="585.20" y="223.70" width="4.50" height="46.50" fill="none" stroke="#231F20" stroke-width="1.25"/>
<line x1="587.40" y1="212.20" x2="587.40" y2="236.00" stroke="#231F20" stroke-width="1.1"/>
<line x1="585.40" y1="212.20" x2="589.40" y2="212.20" stroke="#231F20" stroke-width="1.3"/>
<circle cx="586.60" cy="215.00" r="1.75" fill="#231F20"/>
<circle cx="588.30" cy="218.80" r="1.75" fill="#231F20"/>
<circle cx="587.00" cy="237.50" r="1.75" fill="#231F20"/>
<line x1="587.40" y1="270.20" x2="587.40" y2="273.90" stroke="#231F20" stroke-width="1.3"/>
<text x="0" y="0" font-size="10.3" fill="#231F20" text-anchor="end" transform="translate(591.20,277.5) rotate(-90)">250</text>
<rect x="595.30" y="199.30" width="4.50" height="70.90" fill="none" stroke="#231F20" stroke-width="1.25"/>
<line x1="597.50" y1="191.30" x2="597.50" y2="206.00" stroke="#231F20" stroke-width="1.1"/>
<line x1="595.50" y1="191.30" x2="599.50" y2="191.30" stroke="#231F20" stroke-width="1.3"/>
<circle cx="597.50" cy="192.00" r="1.75" fill="#231F20"/>
<circle cx="597.80" cy="205.00" r="1.75" fill="#231F20"/>
<line x1="597.50" y1="270.20" x2="597.50" y2="273.90" stroke="#231F20" stroke-width="1.3"/>
<text x="0" y="0" font-size="10.3" fill="#231F20" text-anchor="end" transform="translate(601.30,277.5) rotate(-90)">1000</text>
<rect x="612.00" y="190.10" width="4.90" height="80.10" fill="none" stroke="#EF7D33" stroke-width="1.25"/>
<line x1="614.40" y1="180.30" x2="614.40" y2="201.20" stroke="#EF7D33" stroke-width="1.1"/>
<line x1="612.40" y1="180.30" x2="616.40" y2="180.30" stroke="#EF7D33" stroke-width="1.3"/>
<circle cx="612.50" cy="183.50" r="1.75" fill="#EF7D33"/>
<circle cx="616.50" cy="185.50" r="1.75" fill="#EF7D33"/>
<circle cx="614.50" cy="201.50" r="1.75" fill="#EF7D33"/>
<line x1="614.40" y1="270.20" x2="614.40" y2="273.90" stroke="#231F20" stroke-width="1.3"/>
<text x="0" y="0" font-size="10.3" fill="#231F20" text-anchor="end" transform="translate(618.20,277.5) rotate(-90)">60</text>
<rect x="622.00" y="184.00" width="5.60" height="86.20" fill="none" stroke="#EF7D33" stroke-width="1.25"/>
<line x1="624.80" y1="177.70" x2="624.80" y2="191.50" stroke="#EF7D33" stroke-width="1.1"/>
<line x1="622.80" y1="177.70" x2="626.80" y2="177.70" stroke="#EF7D33" stroke-width="1.3"/>
<circle cx="623.30" cy="179.50" r="1.75" fill="#EF7D33"/>
<circle cx="626.20" cy="181.20" r="1.75" fill="#EF7D33"/>
<circle cx="624.70" cy="191.50" r="1.75" fill="#EF7D33"/>
<line x1="624.80" y1="270.20" x2="624.80" y2="273.90" stroke="#231F20" stroke-width="1.3"/>
<text x="0" y="0" font-size="10.3" fill="#231F20" text-anchor="end" transform="translate(628.60,277.5) rotate(-90)">250</text>
<rect x="633.20" y="183.50" width="4.70" height="86.70" fill="none" stroke="#EF7D33" stroke-width="1.25"/>
<line x1="635.40" y1="183.00" x2="635.40" y2="184.00" stroke="#EF7D33" stroke-width="1.1"/>
<line x1="633.40" y1="183.00" x2="637.40" y2="183.00" stroke="#EF7D33" stroke-width="1.3"/>
<circle cx="634.00" cy="183.60" r="1.75" fill="#EF7D33"/>
<circle cx="635.50" cy="183.40" r="1.75" fill="#EF7D33"/>
<circle cx="637.00" cy="183.70" r="1.75" fill="#EF7D33"/>
<line x1="635.40" y1="270.20" x2="635.40" y2="273.90" stroke="#231F20" stroke-width="1.3"/>
<text x="0" y="0" font-size="10.3" fill="#231F20" text-anchor="end" transform="translate(639.20,277.5) rotate(-90)">1000</text>
<rect x="649.90" y="191.10" width="5.00" height="79.10" fill="none" stroke="#29ABE2" stroke-width="1.25"/>
<line x1="652.30" y1="187.30" x2="652.30" y2="192.00" stroke="#29ABE2" stroke-width="1.1"/>
<line x1="650.30" y1="187.30" x2="654.30" y2="187.30" stroke="#29ABE2" stroke-width="1.3"/>
<circle cx="651.60" cy="188.80" r="1.75" fill="#29ABE2"/>
<circle cx="653.00" cy="189.60" r="1.75" fill="#29ABE2"/>
<circle cx="652.30" cy="187.80" r="1.75" fill="#29ABE2"/>
<line x1="652.30" y1="270.20" x2="652.30" y2="273.90" stroke="#231F20" stroke-width="1.3"/>
<text x="0" y="0" font-size="10.3" fill="#231F20" text-anchor="end" transform="translate(656.10,277.5) rotate(-90)">60</text>
<rect x="660.00" y="187.30" width="5.10" height="82.90" fill="none" stroke="#29ABE2" stroke-width="1.25"/>
<line x1="662.60" y1="184.50" x2="662.60" y2="188.50" stroke="#29ABE2" stroke-width="1.1"/>
<line x1="660.60" y1="184.50" x2="664.60" y2="184.50" stroke="#29ABE2" stroke-width="1.3"/>
<circle cx="661.90" cy="186.50" r="1.75" fill="#29ABE2"/>
<circle cx="663.30" cy="186.00" r="1.75" fill="#29ABE2"/>
<circle cx="662.60" cy="185.20" r="1.75" fill="#29ABE2"/>
<line x1="662.60" y1="270.20" x2="662.60" y2="273.90" stroke="#231F20" stroke-width="1.3"/>
<text x="0" y="0" font-size="10.3" fill="#231F20" text-anchor="end" transform="translate(666.40,277.5) rotate(-90)">250</text>
<rect x="670.00" y="191.80" width="5.90" height="78.40" fill="none" stroke="#29ABE2" stroke-width="1.25"/>
<line x1="673.00" y1="187.00" x2="673.00" y2="196.50" stroke="#29ABE2" stroke-width="1.1"/>
<line x1="671.00" y1="187.00" x2="675.00" y2="187.00" stroke="#29ABE2" stroke-width="1.3"/>
<circle cx="673.00" cy="188.00" r="1.75" fill="#29ABE2"/>
<circle cx="672.30" cy="195.00" r="1.75" fill="#29ABE2"/>
<circle cx="673.60" cy="196.80" r="1.75" fill="#29ABE2"/>
<line x1="673.00" y1="270.20" x2="673.00" y2="273.90" stroke="#231F20" stroke-width="1.3"/>
<text x="0" y="0" font-size="10.3" fill="#231F20" text-anchor="end" transform="translate(676.80,277.5) rotate(-90)">1000</text>
<text x="536.00" y="168.50" font-size="10.2" fill="#231F20" text-anchor="start" font-weight="normal" >AIM-A1</text>
<text x="545.20" y="181.50" font-size="10.2" fill="#E9443E" text-anchor="start" font-weight="normal" >+R</text>
<text x="569.50" y="181.50" font-size="10.2" fill="#231F20" text-anchor="start" font-weight="normal" >AIM-A1</text>
<text x="603.50" y="168.50" font-size="10.2" fill="#EF7D33" text-anchor="start" font-weight="normal" >A1-CAIM</text>
<text x="645.70" y="181.50" font-size="10.2" fill="#29ABE2" text-anchor="start" font-weight="normal" >NAIM-A1</text>
<text x="572.00" y="310.60" font-size="11.5" fill="#231F20" text-anchor="start" font-weight="normal" >[Protein] (nM)</text>
<text x="0" y="0" font-size="11.3" fill="#231F20" text-anchor="middle" transform="translate(502.30,227.50) rotate(-90)">Normalized</text>
<text x="0" y="0" font-size="11.3" fill="#231F20" text-anchor="middle" transform="translate(512.20,227.50) rotate(-90)">Aggregation</text>
</svg></body></html>
